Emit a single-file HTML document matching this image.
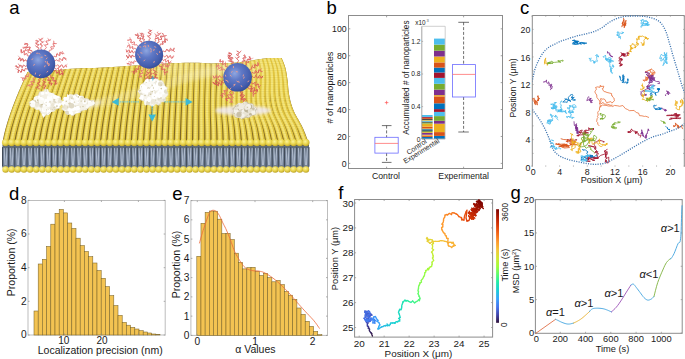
<!DOCTYPE html>
<html><head><meta charset="utf-8"><style>
html,body{margin:0;padding:0;background:#fff;}
svg{display:block;font-family:"Liberation Sans", sans-serif;}
</style></head><body>
<svg width="685" height="359" viewBox="0 0 685 359">
<rect width="685" height="359" fill="#fff"/>
<defs>
<radialGradient id="sph" cx="0.4" cy="0.36" r="0.68"><stop offset="0" stop-color="#8ea6e0"/><stop offset="0.35" stop-color="#6079c6"/><stop offset="0.8" stop-color="#445eae"/><stop offset="1" stop-color="#324b94"/></radialGradient>
<linearGradient id="face" x1="0" y1="0" x2="0" y2="1"><stop offset="0" stop-color="#4f4d40"/><stop offset="0.08" stop-color="#5e6a78"/><stop offset="0.5" stop-color="#76849a"/><stop offset="1" stop-color="#6a788c"/></linearGradient>
<radialGradient id="head" cx="0.4" cy="0.35" r="0.7"><stop offset="0" stop-color="#fbf29a"/><stop offset="0.55" stop-color="#e9d44a"/><stop offset="1" stop-color="#b89f25"/></radialGradient>
<filter id="blur1" x="-20%" y="-20%" width="140%" height="140%"><feGaussianBlur stdDeviation="1.5"/></filter>
<filter id="blur05"><feGaussianBlur stdDeviation="0.4"/></filter>
<filter id="blur3" x="-30%" y="-50%" width="160%" height="200%"><feGaussianBlur stdDeviation="4"/></filter>
<pattern id="beads" width="6" height="1.75" patternUnits="userSpaceOnUse"><rect width="6" height="0.6" fill="#8a7420" opacity="0.18"/></pattern>
</defs>
<text x="9.2" y="13.6" font-size="18.5" text-anchor="start" fill="#000">a</text>
<path d="M2.5,143.6 L7.61,143.6 L12.72,143.6 L17.83,143.6 L22.93,143.6 L28.04,143.6 L33.15,143.6 L38.26,143.6 L43.37,143.6 L48.48,143.6 L53.58,143.6 L58.69,143.6 L63.8,143.6 L68.91,143.6 L74.02,143.6 L79.12,143.6 L84.23,143.6 L89.34,143.6 L94.45,143.6 L99.56,143.6 L104.67,143.6 L109.77,143.6 L114.88,143.6 L119.99,143.6 L125.1,143.6 L130.21,143.6 L135.32,143.6 L140.43,143.6 L145.53,143.6 L150.64,143.6 L155.75,143.6 L160.86,143.6 L165.97,143.6 L171.08,143.6 L176.18,143.6 L181.29,143.6 L186.4,143.6 L191.51,143.6 L196.62,143.6 L201.72,143.6 L206.83,143.6 L211.94,143.6 L217.05,143.6 L222.16,143.6 L227.27,143.6 L232.38,143.6 L237.48,143.6 L242.59,143.6 L247.7,143.6 L252.81,143.6 L257.92,143.6 L263.02,143.6 L268.13,143.6 L273.24,143.6 L278.35,143.6 L283.46,143.6 L288.57,143.6 L293.68,143.6 L298.78,143.6 L303.89,143.6 L309,143.6 L309,143.6 L308.46,142.17 L307.93,140.75 L307.4,139.32 L306.87,137.89 L306.34,136.47 L305.79,135.04 L305.24,133.61 L304.66,132.19 L304.08,130.76 L303.46,129.33 L302.84,127.91 L302.14,126.48 L301.42,125.05 L300.64,123.63 L299.85,122.2 L299.03,120.77 L298.2,119.35 L297.37,117.92 L296.56,116.49 L295.76,115.07 L295.03,113.64 L294.33,112.21 L293.69,110.79 L293.1,109.36 L292.56,107.93 L292.06,106.51 L291.6,105.08 L291.17,103.65 L290.76,102.23 L290.38,100.8 L290.03,99.37 L289.72,97.95 L289.43,96.52 L289.18,95.09 L288.95,93.67 L288.74,92.24 L288.55,90.81 L288.39,89.39 L288.26,87.96 L288.14,86.53 L288.03,85.11 L287.9,83.68 L287.77,82.25 L287.6,80.83 L287.42,79.4 L287.22,77.97 L287.01,76.55 L286.79,75.12 L286.56,73.69 L286.31,72.27 L286.04,70.84 L285.74,69.41 L285.39,67.99 L284.98,66.56 L284.51,65.13 L283.99,63.71 L283.41,62.28 L282.81,60.85 L282.2,59.43 L281.6,58 L281.6,58 L278.6,57.94 L275.55,57.9 L272.44,57.91 L269.27,58.05 L266.03,58.33 L262.73,58.73 L259.36,59.17 L255.93,59.67 L252.42,60.24 L248.83,60.88 L245.16,61.5 L241.41,62.03 L237.56,62.43 L233.62,62.73 L229.57,62.96 L225.4,63.14 L221.1,63.27 L216.62,63.36 L211.91,63.39 L207.32,63.29 L202.83,63.09 L198.33,62.87 L193.84,62.73 L189.34,62.71 L184.85,62.78 L180.35,62.91 L175.85,63.07 L171.36,63.25 L166.86,63.46 L162.37,63.68 L157.87,63.92 L153.38,64.19 L148.88,64.49 L144.39,64.81 L139.89,65.14 L135.39,65.47 L130.9,65.78 L126.4,66.08 L121.91,66.4 L117.41,66.71 L112.92,67.02 L108.42,67.31 L103.92,67.59 L99.43,67.82 L94.93,67.96 L90.44,68 L85.94,68.02 L81.45,68.14 L76.95,68.4 L72.46,68.73 L67.96,69.11 L63.46,69.5 L58.97,69.89 L54.47,70.23 L49.98,70.47 L45.48,70.63 L40.99,70.87 L36.49,71.22 L32,71.61 L27.5,72 L27.5,72 L26.94,73.19 L26.38,74.39 L25.83,75.58 L25.28,76.77 L24.73,77.97 L24.19,79.16 L23.65,80.35 L23.11,81.55 L22.58,82.74 L22.05,83.93 L21.52,85.13 L21,86.32 L20.48,87.51 L19.96,88.71 L19.45,89.9 L18.95,91.09 L18.44,92.29 L17.95,93.48 L17.45,94.67 L16.96,95.87 L16.48,97.06 L15.99,98.25 L15.52,99.45 L15.04,100.64 L14.58,101.83 L14.11,103.03 L13.65,104.22 L13.2,105.41 L12.75,106.61 L12.31,107.8 L11.87,108.99 L11.44,110.19 L11.01,111.38 L10.58,112.57 L10.17,113.77 L9.76,114.96 L9.35,116.15 L8.95,117.35 L8.56,118.54 L8.17,119.73 L7.79,120.93 L7.42,122.12 L7.06,123.31 L6.7,124.51 L6.35,125.7 L6.01,126.89 L5.67,128.09 L5.35,129.28 L5.03,130.47 L4.73,131.67 L4.43,132.86 L4.15,134.05 L3.88,135.25 L3.62,136.44 L3.37,137.63 L3.15,138.83 L2.94,140.02 L2.75,141.21 L2.6,142.41 L2.5,143.6Z" fill="#7f6826"/>
<clipPath id="surfclip"><path d="M2.5,143.6 L7.61,143.6 L12.72,143.6 L17.83,143.6 L22.93,143.6 L28.04,143.6 L33.15,143.6 L38.26,143.6 L43.37,143.6 L48.48,143.6 L53.58,143.6 L58.69,143.6 L63.8,143.6 L68.91,143.6 L74.02,143.6 L79.12,143.6 L84.23,143.6 L89.34,143.6 L94.45,143.6 L99.56,143.6 L104.67,143.6 L109.77,143.6 L114.88,143.6 L119.99,143.6 L125.1,143.6 L130.21,143.6 L135.32,143.6 L140.43,143.6 L145.53,143.6 L150.64,143.6 L155.75,143.6 L160.86,143.6 L165.97,143.6 L171.08,143.6 L176.18,143.6 L181.29,143.6 L186.4,143.6 L191.51,143.6 L196.62,143.6 L201.72,143.6 L206.83,143.6 L211.94,143.6 L217.05,143.6 L222.16,143.6 L227.27,143.6 L232.38,143.6 L237.48,143.6 L242.59,143.6 L247.7,143.6 L252.81,143.6 L257.92,143.6 L263.02,143.6 L268.13,143.6 L273.24,143.6 L278.35,143.6 L283.46,143.6 L288.57,143.6 L293.68,143.6 L298.78,143.6 L303.89,143.6 L309,143.6 L309,143.6 L308.46,142.17 L307.93,140.75 L307.4,139.32 L306.87,137.89 L306.34,136.47 L305.79,135.04 L305.24,133.61 L304.66,132.19 L304.08,130.76 L303.46,129.33 L302.84,127.91 L302.14,126.48 L301.42,125.05 L300.64,123.63 L299.85,122.2 L299.03,120.77 L298.2,119.35 L297.37,117.92 L296.56,116.49 L295.76,115.07 L295.03,113.64 L294.33,112.21 L293.69,110.79 L293.1,109.36 L292.56,107.93 L292.06,106.51 L291.6,105.08 L291.17,103.65 L290.76,102.23 L290.38,100.8 L290.03,99.37 L289.72,97.95 L289.43,96.52 L289.18,95.09 L288.95,93.67 L288.74,92.24 L288.55,90.81 L288.39,89.39 L288.26,87.96 L288.14,86.53 L288.03,85.11 L287.9,83.68 L287.77,82.25 L287.6,80.83 L287.42,79.4 L287.22,77.97 L287.01,76.55 L286.79,75.12 L286.56,73.69 L286.31,72.27 L286.04,70.84 L285.74,69.41 L285.39,67.99 L284.98,66.56 L284.51,65.13 L283.99,63.71 L283.41,62.28 L282.81,60.85 L282.2,59.43 L281.6,58 L281.6,58 L278.6,57.94 L275.55,57.9 L272.44,57.91 L269.27,58.05 L266.03,58.33 L262.73,58.73 L259.36,59.17 L255.93,59.67 L252.42,60.24 L248.83,60.88 L245.16,61.5 L241.41,62.03 L237.56,62.43 L233.62,62.73 L229.57,62.96 L225.4,63.14 L221.1,63.27 L216.62,63.36 L211.91,63.39 L207.32,63.29 L202.83,63.09 L198.33,62.87 L193.84,62.73 L189.34,62.71 L184.85,62.78 L180.35,62.91 L175.85,63.07 L171.36,63.25 L166.86,63.46 L162.37,63.68 L157.87,63.92 L153.38,64.19 L148.88,64.49 L144.39,64.81 L139.89,65.14 L135.39,65.47 L130.9,65.78 L126.4,66.08 L121.91,66.4 L117.41,66.71 L112.92,67.02 L108.42,67.31 L103.92,67.59 L99.43,67.82 L94.93,67.96 L90.44,68 L85.94,68.02 L81.45,68.14 L76.95,68.4 L72.46,68.73 L67.96,69.11 L63.46,69.5 L58.97,69.89 L54.47,70.23 L49.98,70.47 L45.48,70.63 L40.99,70.87 L36.49,71.22 L32,71.61 L27.5,72 L27.5,72 L26.94,73.19 L26.38,74.39 L25.83,75.58 L25.28,76.77 L24.73,77.97 L24.19,79.16 L23.65,80.35 L23.11,81.55 L22.58,82.74 L22.05,83.93 L21.52,85.13 L21,86.32 L20.48,87.51 L19.96,88.71 L19.45,89.9 L18.95,91.09 L18.44,92.29 L17.95,93.48 L17.45,94.67 L16.96,95.87 L16.48,97.06 L15.99,98.25 L15.52,99.45 L15.04,100.64 L14.58,101.83 L14.11,103.03 L13.65,104.22 L13.2,105.41 L12.75,106.61 L12.31,107.8 L11.87,108.99 L11.44,110.19 L11.01,111.38 L10.58,112.57 L10.17,113.77 L9.76,114.96 L9.35,116.15 L8.95,117.35 L8.56,118.54 L8.17,119.73 L7.79,120.93 L7.42,122.12 L7.06,123.31 L6.7,124.51 L6.35,125.7 L6.01,126.89 L5.67,128.09 L5.35,129.28 L5.03,130.47 L4.73,131.67 L4.43,132.86 L4.15,134.05 L3.88,135.25 L3.62,136.44 L3.37,137.63 L3.15,138.83 L2.94,140.02 L2.75,141.21 L2.6,142.41 L2.5,143.6Z"/></clipPath>
<g clip-path="url(#surfclip)" filter="url(#blur05)">
<path d="M4.33,147.19 L5.58,143.24 L6.12,139.29 L6.89,135.34 L7.82,131.39 L8.85,127.44 L9.98,123.49 L11.19,119.54 L12.47,115.58 L13.82,111.63 L15.23,107.68 L16.69,103.73 L18.2,99.78 L19.77,95.83 L21.37,91.88 L23.03,87.93 L24.72,83.98 L26.45,80.03 L28.22,76.08 L30.03,72.12 L31.87,68.17" fill="none" stroke="#e6ca42" stroke-width="4.9"/>
<path d="M4.03,147.19 L5.28,143.24 L5.82,139.29 L6.59,135.34 L7.52,131.39 L8.55,127.44 L9.68,123.49 L10.89,119.54 L12.17,115.58 L13.52,111.63 L14.93,107.68 L16.39,103.73 L17.9,99.78 L19.47,95.83 L21.07,91.88 L22.73,87.93 L24.42,83.98 L26.15,80.03 L27.92,76.08 L29.73,72.12 L31.57,68.17" fill="none" stroke="#f7e87c" stroke-width="2.4"/>
<path d="M10.5,147.22 L11.71,143.24 L12.23,139.26 L12.98,135.29 L13.88,131.31 L14.89,127.33 L15.98,123.36 L17.15,119.38 L18.4,115.4 L19.7,111.43 L21.07,107.45 L22.49,103.47 L23.96,99.5 L25.47,95.52 L27.03,91.54 L28.63,87.57 L30.28,83.59 L31.96,79.61 L33.68,75.64 L35.43,71.66 L37.22,67.68" fill="none" stroke="#e6ca42" stroke-width="4.9"/>
<path d="M10.2,147.22 L11.41,143.24 L11.93,139.26 L12.68,135.29 L13.58,131.31 L14.59,127.33 L15.68,123.36 L16.85,119.38 L18.1,115.4 L19.4,111.43 L20.77,107.45 L22.19,103.47 L23.66,99.5 L25.17,95.52 L26.73,91.54 L28.33,87.57 L29.98,83.59 L31.66,79.61 L33.38,75.64 L35.13,71.66 L36.92,67.68" fill="none" stroke="#f7e87c" stroke-width="2.4"/>
<path d="M16.67,147.24 L17.84,143.24 L18.34,139.24 L19.07,135.24 L19.94,131.24 L20.92,127.24 L21.98,123.24 L23.12,119.24 L24.32,115.24 L25.59,111.24 L26.91,107.24 L28.29,103.24 L29.71,99.24 L31.18,95.24 L32.69,91.24 L34.24,87.24 L35.84,83.24 L37.47,79.24 L39.13,75.24 L40.83,71.24 L42.56,67.24" fill="none" stroke="#e6ca42" stroke-width="4.9"/>
<path d="M16.37,147.24 L17.54,143.24 L18.04,139.24 L18.77,135.24 L19.64,131.24 L20.62,127.24 L21.68,123.24 L22.82,119.24 L24.02,115.24 L25.29,111.24 L26.61,107.24 L27.99,103.24 L29.41,99.24 L30.88,95.24 L32.39,91.24 L33.94,87.24 L35.54,83.24 L37.17,79.24 L38.83,75.24 L40.53,71.24 L42.26,67.24" fill="none" stroke="#f7e87c" stroke-width="2.4"/>
<path d="M22.83,147.25 L23.97,143.23 L24.46,139.22 L25.16,135.2 L26.01,131.19 L26.95,127.17 L27.98,123.16 L29.08,119.14 L30.25,115.13 L31.47,111.11 L32.75,107.1 L34.08,103.08 L35.46,99.07 L36.88,95.05 L38.35,91.04 L39.85,87.02 L41.39,83.01 L42.97,78.99 L44.58,74.98 L46.23,70.96 L47.91,66.95" fill="none" stroke="#e6ca42" stroke-width="4.9"/>
<path d="M22.53,147.25 L23.67,143.23 L24.16,139.22 L24.86,135.2 L25.71,131.19 L26.65,127.17 L27.68,123.16 L28.78,119.14 L29.95,115.13 L31.17,111.11 L32.45,107.1 L33.78,103.08 L35.16,99.07 L36.58,95.05 L38.05,91.04 L39.55,87.02 L41.09,83.01 L42.67,78.99 L44.28,74.98 L45.93,70.96 L47.61,66.95" fill="none" stroke="#f7e87c" stroke-width="2.4"/>
<path d="M29,147.26 L30.1,143.23 L30.57,139.21 L31.26,135.18 L32.07,131.15 L32.98,127.13 L33.97,123.1 L35.04,119.08 L36.17,115.05 L37.36,111.02 L38.59,107 L39.88,102.97 L41.21,98.94 L42.59,94.92 L44.01,90.89 L45.46,86.86 L46.95,82.84 L48.48,78.81 L50.04,74.78 L51.63,70.76 L53.25,66.73" fill="none" stroke="#e6ca42" stroke-width="4.9"/>
<path d="M28.7,147.26 L29.8,143.23 L30.27,139.21 L30.96,135.18 L31.77,131.15 L32.68,127.13 L33.67,123.1 L34.74,119.08 L35.87,115.05 L37.06,111.02 L38.29,107 L39.58,102.97 L40.91,98.94 L42.29,94.92 L43.71,90.89 L45.16,86.86 L46.65,82.84 L48.18,78.81 L49.74,74.78 L51.33,70.76 L52.95,66.73" fill="none" stroke="#f7e87c" stroke-width="2.4"/>
<path d="M35.17,147.28 L36.23,143.23 L36.68,139.19 L37.35,135.14 L38.13,131.09 L39.01,127.05 L39.97,123 L41,118.96 L42.09,114.91 L43.24,110.86 L44.44,106.82 L45.68,102.77 L46.97,98.72 L48.3,94.68 L49.66,90.63 L51.07,86.59 L52.51,82.54 L53.98,78.49 L55.49,74.45 L57.03,70.4 L58.6,66.36" fill="none" stroke="#e6ca42" stroke-width="4.9"/>
<path d="M34.87,147.28 L35.93,143.23 L36.38,139.19 L37.05,135.14 L37.83,131.09 L38.71,127.05 L39.67,123 L40.7,118.96 L41.79,114.91 L42.94,110.86 L44.14,106.82 L45.38,102.77 L46.67,98.72 L48,94.68 L49.36,90.63 L50.77,86.59 L52.21,82.54 L53.68,78.49 L55.19,74.45 L56.73,70.4 L58.3,66.36" fill="none" stroke="#f7e87c" stroke-width="2.4"/>
<path d="M41.33,147.3 L42.36,143.23 L42.8,139.16 L43.44,135.09 L44.19,131.02 L45.04,126.95 L45.97,122.88 L46.96,118.8 L48.02,114.73 L49.12,110.66 L50.28,106.59 L51.48,102.52 L52.72,98.45 L54,94.38 L55.32,90.31 L56.68,86.24 L58.07,82.17 L59.49,78.1 L60.95,74.02 L62.43,69.95 L63.94,65.88" fill="none" stroke="#e6ca42" stroke-width="4.9"/>
<path d="M41.03,147.3 L42.06,143.23 L42.5,139.16 L43.14,135.09 L43.89,131.02 L44.74,126.95 L45.67,122.88 L46.66,118.8 L47.72,114.73 L48.82,110.66 L49.98,106.59 L51.18,102.52 L52.42,98.45 L53.7,94.38 L55.02,90.31 L56.38,86.24 L57.77,82.17 L59.19,78.1 L60.65,74.02 L62.13,69.95 L63.64,65.88" fill="none" stroke="#f7e87c" stroke-width="2.4"/>
<path d="M47.5,147.32 L48.49,143.23 L48.91,139.13 L49.53,135.03 L50.26,130.94 L51.08,126.84 L51.97,122.74 L52.93,118.65 L53.94,114.55 L55.01,110.45 L56.12,106.36 L57.28,102.26 L58.47,98.16 L59.71,94.06 L60.98,89.97 L62.29,85.87 L63.63,81.77 L65,77.68 L66.4,73.58 L67.83,69.48 L69.29,65.39" fill="none" stroke="#e6ca42" stroke-width="4.9"/>
<path d="M47.2,147.32 L48.19,143.23 L48.61,139.13 L49.23,135.03 L49.96,130.94 L50.78,126.84 L51.67,122.74 L52.63,118.65 L53.64,114.55 L54.71,110.45 L55.82,106.36 L56.98,102.26 L58.17,98.16 L59.41,94.06 L60.68,89.97 L61.99,85.87 L63.33,81.77 L64.7,77.68 L66.1,73.58 L67.53,69.48 L68.99,65.39" fill="none" stroke="#f7e87c" stroke-width="2.4"/>
<path d="M53.67,147.35 L54.62,143.23 L55.03,139.1 L55.62,134.98 L56.32,130.86 L57.11,126.74 L57.97,122.62 L58.89,118.5 L59.86,114.37 L60.89,110.25 L61.96,106.13 L63.07,102.01 L64.23,97.89 L65.41,93.77 L66.64,89.64 L67.9,85.52 L69.18,81.4 L70.5,77.28 L71.85,73.16 L73.23,69.04 L74.63,64.92" fill="none" stroke="#e6ca42" stroke-width="4.9"/>
<path d="M53.37,147.35 L54.32,143.23 L54.73,139.1 L55.32,134.98 L56.02,130.86 L56.81,126.74 L57.67,122.62 L58.59,118.5 L59.56,114.37 L60.59,110.25 L61.66,106.13 L62.77,102.01 L63.93,97.89 L65.11,93.77 L66.34,89.64 L67.6,85.52 L68.88,81.4 L70.2,77.28 L71.55,73.16 L72.93,69.04 L74.33,64.92" fill="none" stroke="#f7e87c" stroke-width="2.4"/>
<path d="M59.83,147.37 L60.75,143.22 L61.14,139.08 L61.71,134.94 L62.38,130.8 L63.14,126.65 L63.97,122.51 L64.85,118.37 L65.79,114.23 L66.77,110.08 L67.8,105.94 L68.87,101.8 L69.98,97.65 L71.12,93.51 L72.3,89.37 L73.5,85.23 L74.74,81.08 L76.01,76.94 L77.31,72.8 L78.63,68.66 L79.98,64.51" fill="none" stroke="#e6ca42" stroke-width="4.9"/>
<path d="M59.53,147.37 L60.45,143.22 L60.84,139.08 L61.41,134.94 L62.08,130.8 L62.84,126.65 L63.67,122.51 L64.55,118.37 L65.49,114.23 L66.47,110.08 L67.5,105.94 L68.57,101.8 L69.68,97.65 L70.82,93.51 L72,89.37 L73.2,85.23 L74.44,81.08 L75.71,76.94 L77.01,72.8 L78.33,68.66 L79.68,64.51" fill="none" stroke="#f7e87c" stroke-width="2.4"/>
<path d="M66,147.38 L66.88,143.22 L67.25,139.07 L67.8,134.91 L68.44,130.76 L69.17,126.6 L69.96,122.45 L70.81,118.29 L71.71,114.14 L72.66,109.98 L73.64,105.82 L74.67,101.67 L75.73,97.51 L76.83,93.36 L77.95,89.2 L79.11,85.05 L80.3,80.89 L81.52,76.74 L82.76,72.58 L84.03,68.43 L85.32,64.27" fill="none" stroke="#e6ca42" stroke-width="4.9"/>
<path d="M65.7,147.38 L66.58,143.22 L66.95,139.07 L67.5,134.91 L68.14,130.76 L68.87,126.6 L69.66,122.45 L70.51,118.29 L71.41,114.14 L72.36,109.98 L73.34,105.82 L74.37,101.67 L75.43,97.51 L76.53,93.36 L77.65,89.2 L78.81,85.05 L80,80.89 L81.22,76.74 L82.46,72.58 L83.73,68.43 L85.02,64.27" fill="none" stroke="#f7e87c" stroke-width="2.4"/>
<path d="M72.17,147.38 L73.01,143.22 L73.37,139.06 L73.89,134.91 L74.51,130.75 L75.2,126.59 L75.96,122.43 L76.77,118.28 L77.64,114.12 L78.54,109.96 L79.49,105.8 L80.47,101.65 L81.48,97.49 L82.53,93.33 L83.61,89.17 L84.72,85.01 L85.86,80.86 L87.02,76.7 L88.21,72.54 L89.43,68.38 L90.67,64.23" fill="none" stroke="#e6ca42" stroke-width="4.9"/>
<path d="M71.87,147.38 L72.71,143.22 L73.07,139.06 L73.59,134.91 L74.21,130.75 L74.9,126.59 L75.66,122.43 L76.47,118.28 L77.34,114.12 L78.24,109.96 L79.19,105.8 L80.17,101.65 L81.18,97.49 L82.23,93.33 L83.31,89.17 L84.42,85.01 L85.56,80.86 L86.72,76.7 L87.91,72.54 L89.13,68.38 L90.37,64.23" fill="none" stroke="#f7e87c" stroke-width="2.4"/>
<path d="M78.33,147.38 L79.14,143.22 L79.48,139.06 L79.98,134.9 L80.57,130.74 L81.24,126.58 L81.96,122.42 L82.74,118.26 L83.56,114.1 L84.42,109.94 L85.33,105.78 L86.26,101.62 L87.24,97.46 L88.24,93.3 L89.27,89.14 L90.33,84.98 L91.42,80.82 L92.53,76.66 L93.67,72.5 L94.83,68.34 L96.01,64.18" fill="none" stroke="#e6ca42" stroke-width="4.9"/>
<path d="M78.03,147.38 L78.84,143.22 L79.18,139.06 L79.68,134.9 L80.27,130.74 L80.94,126.58 L81.66,122.42 L82.44,118.26 L83.26,114.1 L84.12,109.94 L85.03,105.78 L85.96,101.62 L86.94,97.46 L87.94,93.3 L88.97,89.14 L90.03,84.98 L91.12,80.82 L92.23,76.66 L93.37,72.5 L94.53,68.34 L95.71,64.18" fill="none" stroke="#f7e87c" stroke-width="2.4"/>
<path d="M84.5,147.39 L85.27,143.22 L85.59,139.05 L86.07,134.88 L86.63,130.71 L87.27,126.54 L87.96,122.37 L88.7,118.2 L89.48,114.03 L90.31,109.86 L91.17,105.69 L92.06,101.52 L92.99,97.35 L93.95,93.18 L94.93,89.01 L95.94,84.84 L96.98,80.67 L98.04,76.5 L99.12,72.33 L100.23,68.16 L101.35,63.99" fill="none" stroke="#e6ca42" stroke-width="4.9"/>
<path d="M84.2,147.39 L84.97,143.22 L85.29,139.05 L85.77,134.88 L86.33,130.71 L86.97,126.54 L87.66,122.37 L88.4,118.2 L89.18,114.03 L90.01,109.86 L90.87,105.69 L91.76,101.52 L92.69,97.35 L93.65,93.18 L94.63,89.01 L95.64,84.84 L96.68,80.67 L97.74,76.5 L98.82,72.33 L99.93,68.16 L101.05,63.99" fill="none" stroke="#f7e87c" stroke-width="2.4"/>
<path d="M90.67,147.41 L91.4,143.22 L91.71,139.03 L92.16,134.85 L92.7,130.66 L93.3,126.47 L93.96,122.29 L94.66,118.1 L95.41,113.91 L96.19,109.73 L97.01,105.54 L97.86,101.35 L98.74,97.17 L99.65,92.98 L100.59,88.79 L101.55,84.61 L102.53,80.42 L103.54,76.23 L104.57,72.05 L105.63,67.86 L106.7,63.68" fill="none" stroke="#e6ca42" stroke-width="4.9"/>
<path d="M90.37,147.41 L91.1,143.22 L91.41,139.03 L91.86,134.85 L92.4,130.66 L93,126.47 L93.66,122.29 L94.36,118.1 L95.11,113.91 L95.89,109.73 L96.71,105.54 L97.56,101.35 L98.44,97.17 L99.35,92.98 L100.29,88.79 L101.25,84.61 L102.23,80.42 L103.24,76.23 L104.27,72.05 L105.33,67.86 L106.4,63.68" fill="none" stroke="#f7e87c" stroke-width="2.4"/>
<path d="M96.83,147.42 L97.53,143.22 L97.82,139.01 L98.25,134.81 L98.76,130.6 L99.33,126.4 L99.95,122.19 L100.62,117.99 L101.33,113.78 L102.07,109.57 L102.85,105.37 L103.66,101.16 L104.49,96.96 L105.36,92.75 L106.25,88.55 L107.16,84.34 L108.09,80.14 L109.05,75.93 L110.03,71.73 L111.03,67.52 L112.04,63.32" fill="none" stroke="#e6ca42" stroke-width="4.9"/>
<path d="M96.53,147.42 L97.23,143.22 L97.52,139.01 L97.95,134.81 L98.46,130.6 L99.03,126.4 L99.65,122.19 L100.32,117.99 L101.03,113.78 L101.77,109.57 L102.55,105.37 L103.36,101.16 L104.19,96.96 L105.06,92.75 L105.95,88.55 L106.86,84.34 L107.79,80.14 L108.75,75.93 L109.73,71.73 L110.73,67.52 L111.74,63.32" fill="none" stroke="#f7e87c" stroke-width="2.4"/>
<path d="M103,147.44 L103.66,143.22 L103.93,138.99 L104.34,134.76 L104.82,130.54 L105.36,126.31 L105.95,122.09 L106.58,117.86 L107.25,113.64 L107.96,109.41 L108.69,105.19 L109.46,100.96 L110.25,96.74 L111.06,92.51 L111.9,88.28 L112.77,84.06 L113.65,79.83 L114.56,75.61 L115.48,71.38 L116.43,67.16 L117.39,62.93" fill="none" stroke="#e6ca42" stroke-width="4.9"/>
<path d="M102.7,147.44 L103.36,143.22 L103.63,138.99 L104.04,134.76 L104.52,130.54 L105.06,126.31 L105.65,122.09 L106.28,117.86 L106.95,113.64 L107.66,109.41 L108.39,105.19 L109.16,100.96 L109.95,96.74 L110.76,92.51 L111.6,88.28 L112.47,84.06 L113.35,79.83 L114.26,75.61 L115.18,71.38 L116.13,67.16 L117.09,62.93" fill="none" stroke="#f7e87c" stroke-width="2.4"/>
<path d="M109.17,147.46 L109.78,143.21 L110.05,138.97 L110.43,134.72 L110.88,130.48 L111.39,126.23 L111.95,121.98 L112.55,117.74 L113.18,113.49 L113.84,109.24 L114.53,105 L115.25,100.75 L116,96.51 L116.77,92.26 L117.56,88.01 L118.38,83.77 L119.21,79.52 L120.06,75.28 L120.94,71.03 L121.83,66.78 L122.73,62.54" fill="none" stroke="#e6ca42" stroke-width="4.9"/>
<path d="M108.87,147.46 L109.48,143.21 L109.75,138.97 L110.13,134.72 L110.58,130.48 L111.09,126.23 L111.65,121.98 L112.25,117.74 L112.88,113.49 L113.54,109.24 L114.23,105 L114.95,100.75 L115.7,96.51 L116.47,92.26 L117.26,88.01 L118.08,83.77 L118.91,79.52 L119.76,75.28 L120.64,71.03 L121.53,66.78 L122.43,62.54" fill="none" stroke="#f7e87c" stroke-width="2.4"/>
<path d="M115.34,147.48 L115.91,143.21 L116.16,138.95 L116.52,134.68 L116.95,130.41 L117.43,126.14 L117.95,121.88 L118.51,117.61 L119.1,113.34 L119.73,109.08 L120.38,104.81 L121.05,100.54 L121.75,96.28 L122.48,92.01 L123.22,87.74 L123.98,83.48 L124.77,79.21 L125.57,74.94 L126.39,70.68 L127.23,66.41 L128.08,62.14" fill="none" stroke="#e6ca42" stroke-width="4.9"/>
<path d="M115.04,147.48 L115.61,143.21 L115.86,138.95 L116.22,134.68 L116.65,130.41 L117.13,126.14 L117.65,121.88 L118.21,117.61 L118.8,113.34 L119.43,109.08 L120.08,104.81 L120.75,100.54 L121.45,96.28 L122.18,92.01 L122.92,87.74 L123.68,83.48 L124.47,79.21 L125.27,74.94 L126.09,70.68 L126.93,66.41 L127.78,62.14" fill="none" stroke="#f7e87c" stroke-width="2.4"/>
<path d="M121.5,147.5 L122.04,143.21 L122.27,138.92 L122.61,134.64 L123.01,130.35 L123.46,126.06 L123.95,121.77 L124.47,117.49 L125.03,113.2 L125.61,108.91 L126.22,104.63 L126.85,100.34 L127.51,96.05 L128.18,91.76 L128.88,87.48 L129.59,83.19 L130.33,78.9 L131.08,74.62 L131.84,70.33 L132.62,66.04 L133.42,61.75" fill="none" stroke="#e6ca42" stroke-width="4.9"/>
<path d="M121.2,147.5 L121.74,143.21 L121.97,138.92 L122.31,134.64 L122.71,130.35 L123.16,126.06 L123.65,121.77 L124.17,117.49 L124.73,113.2 L125.31,108.91 L125.92,104.63 L126.55,100.34 L127.21,96.05 L127.88,91.76 L128.58,87.48 L129.29,83.19 L130.03,78.9 L130.78,74.62 L131.54,70.33 L132.32,66.04 L133.12,61.75" fill="none" stroke="#f7e87c" stroke-width="2.4"/>
<path d="M127.67,147.52 L128.17,143.21 L128.39,138.9 L128.7,134.59 L129.07,130.28 L129.49,125.98 L129.95,121.67 L130.43,117.36 L130.95,113.05 L131.49,108.74 L132.06,104.44 L132.65,100.13 L133.26,95.82 L133.89,91.51 L134.54,87.21 L135.2,82.9 L135.88,78.59 L136.58,74.28 L137.3,69.97 L138.02,65.67 L138.77,61.36" fill="none" stroke="#e6ca42" stroke-width="4.9"/>
<path d="M127.37,147.52 L127.87,143.21 L128.09,138.9 L128.4,134.59 L128.77,130.28 L129.19,125.98 L129.65,121.67 L130.13,117.36 L130.65,113.05 L131.19,108.74 L131.76,104.44 L132.35,100.13 L132.96,95.82 L133.59,91.51 L134.24,87.21 L134.9,82.9 L135.58,78.59 L136.28,74.28 L137,69.97 L137.72,65.67 L138.47,61.36" fill="none" stroke="#f7e87c" stroke-width="2.4"/>
<path d="M133.84,147.54 L134.3,143.21 L134.5,138.88 L134.79,134.55 L135.14,130.22 L135.52,125.89 L135.94,121.56 L136.39,117.23 L136.87,112.9 L137.38,108.57 L137.9,104.24 L138.45,99.91 L139.01,95.58 L139.59,91.25 L140.19,86.92 L140.81,82.59 L141.44,78.26 L142.09,73.93 L142.75,69.6 L143.42,65.27 L144.11,60.94" fill="none" stroke="#e6ca42" stroke-width="4.9"/>
<path d="M133.54,147.54 L134,143.21 L134.2,138.88 L134.49,134.55 L134.84,130.22 L135.22,125.89 L135.64,121.56 L136.09,117.23 L136.57,112.9 L137.08,108.57 L137.6,104.24 L138.15,99.91 L138.71,95.58 L139.29,91.25 L139.89,86.92 L140.51,82.59 L141.14,78.26 L141.79,73.93 L142.45,69.6 L143.12,65.27 L143.81,60.94" fill="none" stroke="#f7e87c" stroke-width="2.4"/>
<path d="M140,147.56 L140.43,143.2 L140.61,138.85 L140.88,134.5 L141.2,130.15 L141.55,125.8 L141.94,121.45 L142.36,117.1 L142.8,112.75 L143.26,108.4 L143.74,104.05 L144.24,99.7 L144.76,95.34 L145.3,90.99 L145.85,86.64 L146.42,82.29 L147,77.94 L147.6,73.59 L148.2,69.24 L148.82,64.89 L149.46,60.54" fill="none" stroke="#e6ca42" stroke-width="4.9"/>
<path d="M139.7,147.56 L140.13,143.2 L140.31,138.85 L140.58,134.5 L140.9,130.15 L141.25,125.8 L141.64,121.45 L142.06,117.1 L142.5,112.75 L142.96,108.4 L143.44,104.05 L143.94,99.7 L144.46,95.34 L145,90.99 L145.55,86.64 L146.12,82.29 L146.7,77.94 L147.3,73.59 L147.9,69.24 L148.52,64.89 L149.16,60.54" fill="none" stroke="#f7e87c" stroke-width="2.4"/>
<path d="M146.17,147.57 L146.56,143.2 L146.73,138.83 L146.97,134.46 L147.26,130.09 L147.59,125.72 L147.94,121.35 L148.32,116.98 L148.72,112.61 L149.14,108.24 L149.58,103.87 L150.04,99.5 L150.52,95.12 L151.01,90.75 L151.51,86.38 L152.03,82.01 L152.56,77.64 L153.1,73.27 L153.66,68.9 L154.22,64.53 L154.8,60.16" fill="none" stroke="#e6ca42" stroke-width="4.9"/>
<path d="M145.87,147.57 L146.26,143.2 L146.43,138.83 L146.67,134.46 L146.96,130.09 L147.29,125.72 L147.64,121.35 L148.02,116.98 L148.42,112.61 L148.84,108.24 L149.28,103.87 L149.74,99.5 L150.22,95.12 L150.71,90.75 L151.21,86.38 L151.73,82.01 L152.26,77.64 L152.8,73.27 L153.36,68.9 L153.92,64.53 L154.5,60.16" fill="none" stroke="#f7e87c" stroke-width="2.4"/>
<path d="M152.34,147.59 L152.69,143.2 L152.84,138.81 L153.06,134.43 L153.32,130.04 L153.62,125.65 L153.94,121.26 L154.28,116.87 L154.64,112.49 L155.03,108.1 L155.43,103.71 L155.84,99.32 L156.27,94.93 L156.71,90.55 L157.17,86.16 L157.64,81.77 L158.12,77.38 L158.61,72.99 L159.11,68.61 L159.62,64.22 L160.15,59.83" fill="none" stroke="#e6ca42" stroke-width="4.9"/>
<path d="M152.04,147.59 L152.39,143.2 L152.54,138.81 L152.76,134.43 L153.02,130.04 L153.32,125.65 L153.64,121.26 L153.98,116.87 L154.34,112.49 L154.73,108.1 L155.13,103.71 L155.54,99.32 L155.97,94.93 L156.41,90.55 L156.87,86.16 L157.34,81.77 L157.82,77.38 L158.31,72.99 L158.81,68.61 L159.32,64.22 L159.85,59.83" fill="none" stroke="#f7e87c" stroke-width="2.4"/>
<path d="M158.5,147.6 L158.82,143.2 L158.96,138.8 L159.15,134.39 L159.39,129.99 L159.65,125.59 L159.94,121.18 L160.24,116.78 L160.57,112.38 L160.91,107.98 L161.27,103.57 L161.64,99.17 L162.02,94.77 L162.42,90.36 L162.83,85.96 L163.25,81.56 L163.67,77.15 L164.11,72.75 L164.56,68.35 L165.02,63.95 L165.49,59.54" fill="none" stroke="#e6ca42" stroke-width="4.9"/>
<path d="M158.2,147.6 L158.52,143.2 L158.66,138.8 L158.85,134.39 L159.09,129.99 L159.35,125.59 L159.64,121.18 L159.94,116.78 L160.27,112.38 L160.61,107.98 L160.97,103.57 L161.34,99.17 L161.72,94.77 L162.12,90.36 L162.53,85.96 L162.95,81.56 L163.37,77.15 L163.81,72.75 L164.26,68.35 L164.72,63.95 L165.19,59.54" fill="none" stroke="#f7e87c" stroke-width="2.4"/>
<path d="M164.67,147.62 L164.95,143.2 L165.07,138.78 L165.24,134.36 L165.45,129.95 L165.68,125.53 L165.93,121.11 L166.2,116.7 L166.49,112.28 L166.79,107.86 L167.11,103.45 L167.44,99.03 L167.77,94.61 L168.12,90.2 L168.48,85.78 L168.85,81.36 L169.23,76.94 L169.62,72.53 L170.02,68.11 L170.42,63.69 L170.84,59.28" fill="none" stroke="#e6ca42" stroke-width="4.9"/>
<path d="M164.37,147.62 L164.65,143.2 L164.77,138.78 L164.94,134.36 L165.15,129.95 L165.38,125.53 L165.63,121.11 L165.9,116.7 L166.19,112.28 L166.49,107.86 L166.81,103.45 L167.14,99.03 L167.47,94.61 L167.82,90.2 L168.18,85.78 L168.55,81.36 L168.93,76.94 L169.32,72.53 L169.72,68.11 L170.12,63.69 L170.54,59.28" fill="none" stroke="#f7e87c" stroke-width="2.4"/>
<path d="M170.84,147.63 L171.08,143.2 L171.18,138.77 L171.33,134.34 L171.51,129.91 L171.71,125.48 L171.93,121.05 L172.17,116.62 L172.42,112.19 L172.68,107.76 L172.95,103.33 L173.23,98.9 L173.53,94.48 L173.83,90.05 L174.14,85.62 L174.46,81.19 L174.79,76.76 L175.13,72.33 L175.47,67.9 L175.82,63.47 L176.18,59.04" fill="none" stroke="#e6ca42" stroke-width="4.9"/>
<path d="M170.54,147.63 L170.78,143.2 L170.88,138.77 L171.03,134.34 L171.21,129.91 L171.41,125.48 L171.63,121.05 L171.87,116.62 L172.12,112.19 L172.38,107.76 L172.65,103.33 L172.93,98.9 L173.23,94.48 L173.53,90.05 L173.84,85.62 L174.16,81.19 L174.49,76.76 L174.83,72.33 L175.17,67.9 L175.52,63.47 L175.88,59.04" fill="none" stroke="#f7e87c" stroke-width="2.4"/>
<path d="M177,147.64 L177.21,143.2 L177.3,138.76 L177.42,134.32 L177.57,129.88 L177.74,125.44 L177.93,121 L178.13,116.56 L178.34,112.12 L178.56,107.68 L178.79,103.24 L179.03,98.8 L179.28,94.36 L179.54,89.92 L179.8,85.48 L180.07,81.04 L180.35,76.6 L180.63,72.16 L180.93,67.72 L181.22,63.29 L181.52,58.85" fill="none" stroke="#e6ca42" stroke-width="4.9"/>
<path d="M176.7,147.64 L176.91,143.2 L177,138.76 L177.12,134.32 L177.27,129.88 L177.44,125.44 L177.63,121 L177.83,116.56 L178.04,112.12 L178.26,107.68 L178.49,103.24 L178.73,98.8 L178.98,94.36 L179.24,89.92 L179.5,85.48 L179.77,81.04 L180.05,76.6 L180.33,72.16 L180.63,67.72 L180.92,63.29 L181.22,58.85" fill="none" stroke="#f7e87c" stroke-width="2.4"/>
<path d="M183.17,147.64 L183.34,143.2 L183.41,138.75 L183.51,134.3 L183.64,129.86 L183.78,125.41 L183.93,120.96 L184.09,116.52 L184.26,112.07 L184.44,107.62 L184.63,103.18 L184.83,98.73 L185.03,94.28 L185.24,89.84 L185.46,85.39 L185.68,80.94 L185.91,76.5 L186.14,72.05 L186.38,67.6 L186.62,63.16 L186.87,58.71" fill="none" stroke="#e6ca42" stroke-width="4.9"/>
<path d="M182.87,147.64 L183.04,143.2 L183.11,138.75 L183.21,134.3 L183.34,129.86 L183.48,125.41 L183.63,120.96 L183.79,116.52 L183.96,112.07 L184.14,107.62 L184.33,103.18 L184.53,98.73 L184.73,94.28 L184.94,89.84 L185.16,85.39 L185.38,80.94 L185.61,76.5 L185.84,72.05 L186.08,67.6 L186.32,63.16 L186.57,58.71" fill="none" stroke="#f7e87c" stroke-width="2.4"/>
<path d="M189.34,147.64 L189.47,143.2 L189.52,138.75 L189.6,134.3 L189.69,129.85 L189.8,125.4 L189.91,120.95 L190.03,116.5 L190.16,112.06 L190.3,107.61 L190.44,103.16 L190.6,98.71 L190.76,94.26 L190.93,89.81 L191.11,85.36 L191.29,80.91 L191.47,76.47 L191.65,72.02 L191.84,67.57 L192.02,63.12 L192.21,58.67" fill="none" stroke="#e6ca42" stroke-width="4.9"/>
<path d="M189.04,147.64 L189.17,143.2 L189.22,138.75 L189.3,134.3 L189.39,129.85 L189.5,125.4 L189.61,120.95 L189.73,116.5 L189.86,112.06 L190,107.61 L190.14,103.16 L190.3,98.71 L190.46,94.26 L190.63,89.81 L190.81,85.36 L190.99,80.91 L191.17,76.47 L191.35,72.02 L191.54,67.57 L191.72,63.12 L191.91,58.67" fill="none" stroke="#f7e87c" stroke-width="2.4"/>
<path d="M195.5,147.64 L195.6,143.2 L195.63,138.75 L195.68,134.31 L195.73,129.87 L195.78,125.43 L195.83,120.99 L195.88,116.55 L195.96,112.1 L196.05,107.66 L196.16,103.22 L196.28,98.78 L196.42,94.34 L196.57,89.89 L196.73,85.45 L196.88,81.01 L197.03,76.57 L197.17,72.13 L197.3,67.69 L197.42,63.24 L197.56,58.8" fill="none" stroke="#e6ca42" stroke-width="4.9"/>
<path d="M195.2,147.64 L195.3,143.2 L195.33,138.75 L195.38,134.31 L195.43,129.87 L195.48,125.43 L195.53,120.99 L195.58,116.55 L195.66,112.1 L195.75,107.66 L195.86,103.22 L195.98,98.78 L196.12,94.34 L196.27,89.89 L196.43,85.45 L196.58,81.01 L196.73,76.57 L196.87,72.13 L197,67.69 L197.12,63.24 L197.26,58.8" fill="none" stroke="#f7e87c" stroke-width="2.4"/>
<path d="M201.67,147.63 L201.72,143.2 L201.73,138.77 L201.75,134.34 L201.76,129.91 L201.75,125.49 L201.72,121.06 L201.7,116.63 L201.7,112.2 L201.75,107.78 L201.82,103.35 L201.92,98.92 L202.04,94.49 L202.18,90.06 L202.33,85.64 L202.46,81.21 L202.59,76.78 L202.7,72.35 L202.77,67.93 L202.82,63.5 L202.9,59.07" fill="none" stroke="#e6ca42" stroke-width="4.9"/>
<path d="M201.37,147.63 L201.42,143.2 L201.43,138.77 L201.45,134.34 L201.46,129.91 L201.45,125.49 L201.42,121.06 L201.4,116.63 L201.4,112.2 L201.45,107.78 L201.52,103.35 L201.62,98.92 L201.74,94.49 L201.88,90.06 L202.03,85.64 L202.16,81.21 L202.29,76.78 L202.4,72.35 L202.47,67.93 L202.52,63.5 L202.6,59.07" fill="none" stroke="#f7e87c" stroke-width="2.4"/>
<path d="M207.84,147.61 L207.85,143.2 L207.83,138.78 L207.81,134.37 L207.78,129.95 L207.7,125.54 L207.59,121.12 L207.47,116.71 L207.41,112.29 L207.41,107.88 L207.44,103.46 L207.52,99.05 L207.63,94.63 L207.77,90.22 L207.92,85.8 L208.04,81.39 L208.15,76.97 L208.24,72.56 L208.25,68.14 L208.22,63.73 L208.25,59.31" fill="none" stroke="#e6ca42" stroke-width="4.9"/>
<path d="M207.54,147.61 L207.55,143.2 L207.53,138.78 L207.51,134.37 L207.48,129.95 L207.4,125.54 L207.29,121.12 L207.17,116.71 L207.11,112.29 L207.11,107.88 L207.14,103.46 L207.22,99.05 L207.33,94.63 L207.47,90.22 L207.62,85.8 L207.74,81.39 L207.85,76.97 L207.94,72.56 L207.95,68.14 L207.92,63.73 L207.95,59.31" fill="none" stroke="#f7e87c" stroke-width="2.4"/>
<path d="M213.99,147.61 L213.98,143.2 L213.93,138.79 L213.88,134.38 L213.79,129.96 L213.65,125.55 L213.46,121.14 L213.25,116.73 L213.13,112.32 L213.08,107.91 L213.1,103.5 L213.17,99.08 L213.29,94.67 L213.45,90.26 L213.62,85.85 L213.76,81.44 L213.88,77.03 L213.95,72.61 L213.93,68.2 L213.84,63.79 L213.83,59.38" fill="none" stroke="#e6ca42" stroke-width="4.9"/>
<path d="M213.69,147.61 L213.68,143.2 L213.63,138.79 L213.58,134.38 L213.49,129.96 L213.35,125.55 L213.16,121.14 L212.95,116.73 L212.83,112.32 L212.78,107.91 L212.8,103.5 L212.87,99.08 L212.99,94.67 L213.15,90.26 L213.32,85.85 L213.46,81.44 L213.58,77.03 L213.65,72.61 L213.63,68.2 L213.54,63.79 L213.53,59.38" fill="none" stroke="#f7e87c" stroke-width="2.4"/>
<path d="M220.15,147.61 L220.11,143.2 L220.01,138.78 L219.9,134.37 L219.76,129.95 L219.54,125.53 L219.24,121.12 L218.93,116.7 L218.73,112.29 L218.64,107.87 L218.63,103.45 L218.69,99.04 L218.82,94.62 L219.01,90.21 L219.21,85.79 L219.36,81.37 L219.49,76.96 L219.55,72.54 L219.49,68.12 L219.34,63.71 L219.29,59.29" fill="none" stroke="#e6ca42" stroke-width="4.9"/>
<path d="M219.85,147.61 L219.81,143.2 L219.71,138.78 L219.6,134.37 L219.46,129.95 L219.24,125.53 L218.94,121.12 L218.63,116.7 L218.43,112.29 L218.34,107.87 L218.33,103.45 L218.39,99.04 L218.52,94.62 L218.71,90.21 L218.91,85.79 L219.06,81.37 L219.19,76.96 L219.25,72.54 L219.19,68.12 L219.04,63.71 L218.99,59.29" fill="none" stroke="#f7e87c" stroke-width="2.4"/>
<path d="M226.33,147.62 L226.23,143.2 L226.07,138.77 L225.89,134.35 L225.67,129.93 L225.35,125.5 L224.93,121.08 L224.5,116.65 L224.2,112.23 L224.04,107.81 L224,103.38 L224.04,98.96 L224.17,94.53 L224.37,90.11 L224.59,85.69 L224.75,81.26 L224.87,76.84 L224.92,72.41 L224.8,67.99 L224.57,63.57 L224.47,59.14" fill="none" stroke="#e6ca42" stroke-width="4.9"/>
<path d="M226.03,147.62 L225.93,143.2 L225.77,138.77 L225.59,134.35 L225.37,129.93 L225.05,125.5 L224.63,121.08 L224.2,116.65 L223.9,112.23 L223.74,107.81 L223.7,103.38 L223.74,98.96 L223.87,94.53 L224.07,90.11 L224.29,85.69 L224.45,81.26 L224.57,76.84 L224.62,72.41 L224.5,67.99 L224.27,63.57 L224.17,59.14" fill="none" stroke="#f7e87c" stroke-width="2.4"/>
<path d="M232.52,147.63 L232.35,143.2 L232.11,138.76 L231.86,134.33 L231.54,129.89 L231.11,125.46 L230.54,121.02 L229.97,116.58 L229.56,112.15 L229.33,107.71 L229.23,103.28 L229.25,98.84 L229.37,94.41 L229.58,89.97 L229.81,85.54 L229.97,81.1 L230.08,76.67 L230.11,72.23 L229.92,67.8 L229.6,63.36 L229.43,58.93" fill="none" stroke="#e6ca42" stroke-width="4.9"/>
<path d="M232.22,147.63 L232.05,143.2 L231.81,138.76 L231.56,134.33 L231.24,129.89 L230.81,125.46 L230.24,121.02 L229.67,116.58 L229.26,112.15 L229.03,107.71 L228.93,103.28 L228.95,98.84 L229.07,94.41 L229.28,89.97 L229.51,85.54 L229.67,81.1 L229.78,76.67 L229.81,72.23 L229.62,67.8 L229.3,63.36 L229.13,58.93" fill="none" stroke="#f7e87c" stroke-width="2.4"/>
<path d="M238.71,147.65 L238.47,143.2 L238.14,138.74 L237.8,134.29 L237.38,129.84 L236.82,125.39 L236.1,120.94 L235.37,116.49 L234.84,112.04 L234.52,107.59 L234.36,103.14 L234.34,98.69 L234.45,94.24 L234.67,89.79 L234.91,85.33 L235.06,80.88 L235.16,76.43 L235.15,71.98 L234.88,67.53 L234.46,63.08 L234.21,58.63" fill="none" stroke="#e6ca42" stroke-width="4.9"/>
<path d="M238.41,147.65 L238.17,143.2 L237.84,138.74 L237.5,134.29 L237.08,129.84 L236.52,125.39 L235.8,120.94 L235.07,116.49 L234.54,112.04 L234.22,107.59 L234.06,103.14 L234.04,98.69 L234.15,94.24 L234.37,89.79 L234.61,85.33 L234.76,80.88 L234.86,76.43 L234.85,71.98 L234.58,67.53 L234.16,63.08 L233.91,58.63" fill="none" stroke="#f7e87c" stroke-width="2.4"/>
<path d="M244.91,147.67 L244.59,143.19 L244.17,138.72 L243.72,134.25 L243.19,129.78 L242.48,125.3 L241.6,120.83 L240.7,116.36 L240.03,111.88 L239.62,107.41 L239.39,102.94 L239.33,98.47 L239.42,93.99 L239.64,89.52 L239.89,85.05 L240.03,80.58 L240.1,76.1 L240.05,71.63 L239.7,67.16 L239.16,62.69 L238.84,58.21" fill="none" stroke="#e6ca42" stroke-width="4.9"/>
<path d="M244.61,147.67 L244.29,143.19 L243.87,138.72 L243.42,134.25 L242.89,129.78 L242.18,125.3 L241.3,120.83 L240.4,116.36 L239.73,111.88 L239.32,107.41 L239.09,102.94 L239.03,98.47 L239.12,93.99 L239.34,89.52 L239.59,85.05 L239.73,80.58 L239.8,76.1 L239.75,71.63 L239.4,67.16 L238.86,62.69 L238.54,58.21" fill="none" stroke="#f7e87c" stroke-width="2.4"/>
<path d="M251.12,147.69 L250.71,143.19 L250.18,138.69 L249.62,134.18 L248.97,129.68 L248.11,125.18 L247.04,120.67 L245.97,116.17 L245.15,111.66 L244.63,107.16 L244.34,102.66 L244.23,98.15 L244.29,93.65 L244.51,89.14 L244.76,84.64 L244.88,80.14 L244.94,75.63 L244.84,71.13 L244.4,66.63 L243.73,62.12 L243.32,57.62" fill="none" stroke="#e6ca42" stroke-width="4.9"/>
<path d="M250.82,147.69 L250.41,143.19 L249.88,138.69 L249.32,134.18 L248.67,129.68 L247.81,125.18 L246.74,120.67 L245.67,116.17 L244.85,111.66 L244.33,107.16 L244.04,102.66 L243.93,98.15 L243.99,93.65 L244.21,89.14 L244.46,84.64 L244.58,80.14 L244.64,75.63 L244.54,71.13 L244.1,66.63 L243.43,62.12 L243.02,57.62" fill="none" stroke="#f7e87c" stroke-width="2.4"/>
<path d="M257.33,147.73 L256.83,143.19 L256.18,138.64 L255.51,134.1 L254.73,129.56 L253.71,125.02 L252.45,120.47 L251.17,115.93 L250.2,111.39 L249.57,106.85 L249.2,102.3 L249.04,97.76 L249.07,93.22 L249.29,88.67 L249.53,84.13 L249.64,79.59 L249.67,75.05 L249.52,70.5 L248.97,65.96 L248.17,61.42 L247.66,56.88" fill="none" stroke="#e6ca42" stroke-width="4.9"/>
<path d="M257.03,147.73 L256.53,143.19 L255.88,138.64 L255.21,134.1 L254.43,129.56 L253.41,125.02 L252.15,120.47 L250.87,115.93 L249.9,111.39 L249.27,106.85 L248.9,102.3 L248.74,97.76 L248.77,93.22 L248.99,88.67 L249.23,84.13 L249.34,79.59 L249.37,75.05 L249.22,70.5 L248.67,65.96 L247.87,61.42 L247.36,56.88" fill="none" stroke="#f7e87c" stroke-width="2.4"/>
<path d="M263.56,147.77 L262.95,143.18 L262.18,138.6 L261.38,134.01 L260.46,129.43 L259.27,124.85 L257.8,120.26 L256.32,115.68 L255.18,111.09 L254.44,106.51 L253.98,101.92 L253.76,97.34 L253.77,92.75 L253.97,88.17 L254.22,83.58 L254.31,79 L254.3,74.41 L254.1,69.83 L253.44,65.25 L252.5,60.66 L251.88,56.08" fill="none" stroke="#e6ca42" stroke-width="4.9"/>
<path d="M263.26,147.77 L262.65,143.18 L261.88,138.6 L261.08,134.01 L260.16,129.43 L258.97,124.85 L257.5,120.26 L256.02,115.68 L254.88,111.09 L254.14,106.51 L253.68,101.92 L253.46,97.34 L253.47,92.75 L253.67,88.17 L253.92,83.58 L254.01,79 L254,74.41 L253.8,69.83 L253.14,65.25 L252.2,60.66 L251.58,56.08" fill="none" stroke="#f7e87c" stroke-width="2.4"/>
<path d="M269.78,147.8 L269.07,143.18 L268.17,138.56 L267.24,133.94 L266.17,129.31 L264.8,124.69 L263.12,120.07 L261.42,115.45 L260.11,110.82 L259.24,106.2 L258.69,101.58 L258.41,96.96 L258.38,92.33 L258.58,87.71 L258.82,83.09 L258.88,78.47 L258.84,73.85 L258.58,69.22 L257.81,64.6 L256.72,59.98 L255.99,55.36" fill="none" stroke="#e6ca42" stroke-width="4.9"/>
<path d="M269.48,147.8 L268.77,143.18 L267.87,138.56 L266.94,133.94 L265.87,129.31 L264.5,124.69 L262.82,120.07 L261.12,115.45 L259.81,110.82 L258.94,106.2 L258.39,101.58 L258.11,96.96 L258.08,92.33 L258.28,87.71 L258.52,83.09 L258.58,78.47 L258.54,73.85 L258.28,69.22 L257.51,64.6 L256.42,59.98 L255.69,55.36" fill="none" stroke="#f7e87c" stroke-width="2.4"/>
<path d="M276.01,147.83 L275.19,143.18 L274.15,138.52 L273.08,133.87 L271.86,129.22 L270.3,124.56 L268.39,119.91 L266.47,115.26 L264.98,110.6 L263.98,105.95 L263.33,101.3 L262.98,96.64 L262.92,91.99 L263.11,87.33 L263.34,82.68 L263.37,78.03 L263.29,73.37 L262.97,68.72 L262.08,64.07 L260.83,59.41 L259.99,54.76" fill="none" stroke="#e6ca42" stroke-width="4.9"/>
<path d="M275.71,147.83 L274.89,143.18 L273.85,138.52 L272.78,133.87 L271.56,129.22 L270,124.56 L268.09,119.91 L266.17,115.26 L264.68,110.6 L263.68,105.95 L263.03,101.3 L262.68,96.64 L262.62,91.99 L262.81,87.33 L263.04,82.68 L263.07,78.03 L262.99,73.37 L262.67,68.72 L261.78,64.07 L260.53,59.41 L259.69,54.76" fill="none" stroke="#f7e87c" stroke-width="2.4"/>
<path d="M282.25,147.86 L281.31,143.17 L280.14,138.49 L278.94,133.81 L277.57,129.13 L275.86,124.45 L273.78,119.77 L271.69,115.09 L270.04,110.4 L268.91,105.72 L268.15,101.04 L267.71,96.36 L267.57,91.68 L267.69,87 L267.86,82.32 L267.82,77.63 L267.66,72.95 L267.25,68.27 L266.24,63.59 L264.84,58.91 L263.88,54.23" fill="none" stroke="#e6ca42" stroke-width="4.9"/>
<path d="M281.95,147.86 L281.01,143.17 L279.84,138.49 L278.64,133.81 L277.27,129.13 L275.56,124.45 L273.48,119.77 L271.39,115.09 L269.74,110.4 L268.61,105.72 L267.85,101.04 L267.41,96.36 L267.27,91.68 L267.39,87 L267.56,82.32 L267.52,77.63 L267.36,72.95 L266.95,68.27 L265.94,63.59 L264.54,58.91 L263.58,54.23" fill="none" stroke="#f7e87c" stroke-width="2.4"/>
<path d="M288.49,147.87 L287.43,143.17 L286.14,138.47 L284.81,133.77 L283.33,129.07 L281.49,124.36 L279.29,119.66 L277.07,114.96 L275.3,110.26 L274.05,105.55 L273.17,100.85 L272.61,96.15 L272.34,91.45 L272.34,86.74 L272.39,82.04 L272.23,77.34 L271.94,72.64 L271.41,67.93 L270.27,63.23 L268.76,58.53 L267.68,53.83" fill="none" stroke="#e6ca42" stroke-width="4.9"/>
<path d="M288.19,147.87 L287.13,143.17 L285.84,138.47 L284.51,133.77 L283.03,129.07 L281.19,124.36 L278.99,119.66 L276.77,114.96 L275,110.26 L273.75,105.55 L272.87,100.85 L272.31,96.15 L272.04,91.45 L272.04,86.74 L272.09,82.04 L271.93,77.34 L271.64,72.64 L271.11,67.93 L269.97,63.23 L268.46,58.53 L267.38,53.83" fill="none" stroke="#f7e87c" stroke-width="2.4"/>
<path d="M294.74,147.88 L293.54,143.17 L292.13,138.46 L290.68,133.75 L289.06,129.03 L287.1,124.32 L284.77,119.61 L282.42,114.89 L280.53,110.18 L279.15,105.47 L278.14,100.76 L277.45,96.04 L277.06,91.33 L276.93,86.62 L276.85,81.9 L276.56,77.19 L276.15,72.48 L275.49,67.76 L274.23,63.05 L272.59,58.34 L271.38,53.63" fill="none" stroke="#e6ca42" stroke-width="4.9"/>
<path d="M294.44,147.88 L293.24,143.17 L291.83,138.46 L290.38,133.75 L288.76,129.03 L286.8,124.32 L284.47,119.61 L282.12,114.89 L280.23,110.18 L278.85,105.47 L277.84,100.76 L277.15,96.04 L276.76,91.33 L276.63,86.62 L276.55,81.9 L276.26,77.19 L275.85,72.48 L275.19,67.76 L273.93,63.05 L272.29,58.34 L271.08,53.63" fill="none" stroke="#f7e87c" stroke-width="2.4"/>
<path d="M300.99,147.88 L299.66,143.17 L298.11,138.46 L296.53,133.74 L294.78,129.03 L292.68,124.32 L290.23,119.6 L287.75,114.89 L285.72,110.18 L284.21,105.46 L283.07,100.75 L282.25,96.04 L281.72,91.32 L281.46,86.61 L281.25,81.9 L280.83,77.18 L280.29,72.47 L279.49,67.76 L278.1,63.04 L276.33,58.33 L274.98,53.62" fill="none" stroke="#e6ca42" stroke-width="4.9"/>
<path d="M300.69,147.88 L299.36,143.17 L297.81,138.46 L296.23,133.74 L294.48,129.03 L292.38,124.32 L289.93,119.6 L287.45,114.89 L285.42,110.18 L283.91,105.46 L282.77,100.75 L281.95,96.04 L281.42,91.32 L281.16,86.61 L280.95,81.9 L280.53,77.18 L279.99,72.47 L279.19,67.76 L277.8,63.04 L276.03,58.33 L274.68,53.62" fill="none" stroke="#f7e87c" stroke-width="2.4"/>
<path d="M307.24,147.88 L305.78,143.17 L304.09,138.46 L302.37,133.75 L300.49,129.04 L298.26,124.33 L295.66,119.62 L293.05,114.91 L290.88,110.2 L289.23,105.49 L287.95,100.79 L287,96.08 L286.34,91.37 L285.94,86.66 L285.59,81.95 L285.03,77.24 L284.35,72.53 L283.42,67.82 L281.89,63.11 L279.98,58.4 L278.5,53.69" fill="none" stroke="#e6ca42" stroke-width="4.9"/>
<path d="M306.94,147.88 L305.48,143.17 L303.79,138.46 L302.07,133.75 L300.19,129.04 L297.96,124.33 L295.36,119.62 L292.75,114.91 L290.58,110.2 L288.93,105.49 L287.65,100.79 L286.7,96.08 L286.04,91.37 L285.64,86.66 L285.29,81.95 L284.73,77.24 L284.05,72.53 L283.12,67.82 L281.59,63.11 L279.68,58.4 L278.2,53.69" fill="none" stroke="#f7e87c" stroke-width="2.4"/>
<rect x="0" y="50" width="320" height="100" fill="url(#beads)"/>
<path d="M95,104 C120,98 150,90 180,80 C200,74 215,70 230,68" fill="none" stroke="#ffffff" stroke-width="9" opacity="0.18" filter="url(#blur1)"/>
<ellipse cx="205" cy="70" rx="60" ry="9" fill="#fffbe0" opacity="0.25" filter="url(#blur3)"/>
</g>
<rect x="2.5" y="144.6" width="306.5" height="23.5" fill="url(#face)" stroke="none" stroke-width="1"/>
<line x1="2.5" y1="147.1" x2="2.5" y2="166.6" stroke="#414b57" stroke-width="1"/>
<line x1="8.63" y1="147.1" x2="8.63" y2="166.6" stroke="#414b57" stroke-width="1"/>
<line x1="14.76" y1="147.1" x2="14.76" y2="166.6" stroke="#414b57" stroke-width="1"/>
<line x1="20.89" y1="147.1" x2="20.89" y2="166.6" stroke="#414b57" stroke-width="1"/>
<line x1="27.02" y1="147.1" x2="27.02" y2="166.6" stroke="#414b57" stroke-width="1"/>
<line x1="33.15" y1="147.1" x2="33.15" y2="166.6" stroke="#414b57" stroke-width="1"/>
<line x1="39.28" y1="147.1" x2="39.28" y2="166.6" stroke="#414b57" stroke-width="1"/>
<line x1="45.41" y1="147.1" x2="45.41" y2="166.6" stroke="#414b57" stroke-width="1"/>
<line x1="51.54" y1="147.1" x2="51.54" y2="166.6" stroke="#414b57" stroke-width="1"/>
<line x1="57.67" y1="147.1" x2="57.67" y2="166.6" stroke="#414b57" stroke-width="1"/>
<line x1="63.8" y1="147.1" x2="63.8" y2="166.6" stroke="#414b57" stroke-width="1"/>
<line x1="69.93" y1="147.1" x2="69.93" y2="166.6" stroke="#414b57" stroke-width="1"/>
<line x1="76.06" y1="147.1" x2="76.06" y2="166.6" stroke="#414b57" stroke-width="1"/>
<line x1="82.19" y1="147.1" x2="82.19" y2="166.6" stroke="#414b57" stroke-width="1"/>
<line x1="88.32" y1="147.1" x2="88.32" y2="166.6" stroke="#414b57" stroke-width="1"/>
<line x1="94.45" y1="147.1" x2="94.45" y2="166.6" stroke="#414b57" stroke-width="1"/>
<line x1="100.58" y1="147.1" x2="100.58" y2="166.6" stroke="#414b57" stroke-width="1"/>
<line x1="106.71" y1="147.1" x2="106.71" y2="166.6" stroke="#414b57" stroke-width="1"/>
<line x1="112.84" y1="147.1" x2="112.84" y2="166.6" stroke="#414b57" stroke-width="1"/>
<line x1="118.97" y1="147.1" x2="118.97" y2="166.6" stroke="#414b57" stroke-width="1"/>
<line x1="125.1" y1="147.1" x2="125.1" y2="166.6" stroke="#414b57" stroke-width="1"/>
<line x1="131.23" y1="147.1" x2="131.23" y2="166.6" stroke="#414b57" stroke-width="1"/>
<line x1="137.36" y1="147.1" x2="137.36" y2="166.6" stroke="#414b57" stroke-width="1"/>
<line x1="143.49" y1="147.1" x2="143.49" y2="166.6" stroke="#414b57" stroke-width="1"/>
<line x1="149.62" y1="147.1" x2="149.62" y2="166.6" stroke="#414b57" stroke-width="1"/>
<line x1="155.75" y1="147.1" x2="155.75" y2="166.6" stroke="#414b57" stroke-width="1"/>
<line x1="161.88" y1="147.1" x2="161.88" y2="166.6" stroke="#414b57" stroke-width="1"/>
<line x1="168.01" y1="147.1" x2="168.01" y2="166.6" stroke="#414b57" stroke-width="1"/>
<line x1="174.14" y1="147.1" x2="174.14" y2="166.6" stroke="#414b57" stroke-width="1"/>
<line x1="180.27" y1="147.1" x2="180.27" y2="166.6" stroke="#414b57" stroke-width="1"/>
<line x1="186.4" y1="147.1" x2="186.4" y2="166.6" stroke="#414b57" stroke-width="1"/>
<line x1="192.53" y1="147.1" x2="192.53" y2="166.6" stroke="#414b57" stroke-width="1"/>
<line x1="198.66" y1="147.1" x2="198.66" y2="166.6" stroke="#414b57" stroke-width="1"/>
<line x1="204.79" y1="147.1" x2="204.79" y2="166.6" stroke="#414b57" stroke-width="1"/>
<line x1="210.92" y1="147.1" x2="210.92" y2="166.6" stroke="#414b57" stroke-width="1"/>
<line x1="217.05" y1="147.1" x2="217.05" y2="166.6" stroke="#414b57" stroke-width="1"/>
<line x1="223.18" y1="147.1" x2="223.18" y2="166.6" stroke="#414b57" stroke-width="1"/>
<line x1="229.31" y1="147.1" x2="229.31" y2="166.6" stroke="#414b57" stroke-width="1"/>
<line x1="235.44" y1="147.1" x2="235.44" y2="166.6" stroke="#414b57" stroke-width="1"/>
<line x1="241.57" y1="147.1" x2="241.57" y2="166.6" stroke="#414b57" stroke-width="1"/>
<line x1="247.7" y1="147.1" x2="247.7" y2="166.6" stroke="#414b57" stroke-width="1"/>
<line x1="253.83" y1="147.1" x2="253.83" y2="166.6" stroke="#414b57" stroke-width="1"/>
<line x1="259.96" y1="147.1" x2="259.96" y2="166.6" stroke="#414b57" stroke-width="1"/>
<line x1="266.09" y1="147.1" x2="266.09" y2="166.6" stroke="#414b57" stroke-width="1"/>
<line x1="272.22" y1="147.1" x2="272.22" y2="166.6" stroke="#414b57" stroke-width="1"/>
<line x1="278.35" y1="147.1" x2="278.35" y2="166.6" stroke="#414b57" stroke-width="1"/>
<line x1="284.48" y1="147.1" x2="284.48" y2="166.6" stroke="#414b57" stroke-width="1"/>
<line x1="290.61" y1="147.1" x2="290.61" y2="166.6" stroke="#414b57" stroke-width="1"/>
<line x1="296.74" y1="147.1" x2="296.74" y2="166.6" stroke="#414b57" stroke-width="1"/>
<line x1="302.87" y1="147.1" x2="302.87" y2="166.6" stroke="#414b57" stroke-width="1"/>
<line x1="309" y1="147.1" x2="309" y2="166.6" stroke="#414b57" stroke-width="1"/>
<line x1="4.16" y1="148.1" x2="5.06" y2="165.1" stroke="#aebacb" stroke-width="1.1"/>
<line x1="6.96" y1="148.1" x2="6.06" y2="165.1" stroke="#aebacb" stroke-width="1.1"/>
<line x1="10.29" y1="148.1" x2="11.2" y2="165.1" stroke="#aebacb" stroke-width="1.1"/>
<line x1="13.1" y1="148.1" x2="12.2" y2="165.1" stroke="#aebacb" stroke-width="1.1"/>
<line x1="16.43" y1="148.1" x2="17.32" y2="165.1" stroke="#aebacb" stroke-width="1.1"/>
<line x1="19.22" y1="148.1" x2="18.32" y2="165.1" stroke="#aebacb" stroke-width="1.1"/>
<line x1="22.55" y1="148.1" x2="23.45" y2="165.1" stroke="#aebacb" stroke-width="1.1"/>
<line x1="25.35" y1="148.1" x2="24.45" y2="165.1" stroke="#aebacb" stroke-width="1.1"/>
<line x1="28.69" y1="148.1" x2="29.59" y2="165.1" stroke="#aebacb" stroke-width="1.1"/>
<line x1="31.48" y1="148.1" x2="30.59" y2="165.1" stroke="#aebacb" stroke-width="1.1"/>
<line x1="34.81" y1="148.1" x2="35.71" y2="165.1" stroke="#aebacb" stroke-width="1.1"/>
<line x1="37.61" y1="148.1" x2="36.71" y2="165.1" stroke="#aebacb" stroke-width="1.1"/>
<line x1="40.95" y1="148.1" x2="41.84" y2="165.1" stroke="#aebacb" stroke-width="1.1"/>
<line x1="43.74" y1="148.1" x2="42.84" y2="165.1" stroke="#aebacb" stroke-width="1.1"/>
<line x1="47.08" y1="148.1" x2="47.98" y2="165.1" stroke="#aebacb" stroke-width="1.1"/>
<line x1="49.88" y1="148.1" x2="48.98" y2="165.1" stroke="#aebacb" stroke-width="1.1"/>
<line x1="53.2" y1="148.1" x2="54.1" y2="165.1" stroke="#aebacb" stroke-width="1.1"/>
<line x1="56" y1="148.1" x2="55.1" y2="165.1" stroke="#aebacb" stroke-width="1.1"/>
<line x1="59.34" y1="148.1" x2="60.23" y2="165.1" stroke="#aebacb" stroke-width="1.1"/>
<line x1="62.13" y1="148.1" x2="61.23" y2="165.1" stroke="#aebacb" stroke-width="1.1"/>
<line x1="65.46" y1="148.1" x2="66.36" y2="165.1" stroke="#aebacb" stroke-width="1.1"/>
<line x1="68.27" y1="148.1" x2="67.36" y2="165.1" stroke="#aebacb" stroke-width="1.1"/>
<line x1="71.59" y1="148.1" x2="72.5" y2="165.1" stroke="#aebacb" stroke-width="1.1"/>
<line x1="74.4" y1="148.1" x2="73.5" y2="165.1" stroke="#aebacb" stroke-width="1.1"/>
<line x1="77.72" y1="148.1" x2="78.62" y2="165.1" stroke="#aebacb" stroke-width="1.1"/>
<line x1="80.53" y1="148.1" x2="79.62" y2="165.1" stroke="#aebacb" stroke-width="1.1"/>
<line x1="83.85" y1="148.1" x2="84.75" y2="165.1" stroke="#aebacb" stroke-width="1.1"/>
<line x1="86.66" y1="148.1" x2="85.75" y2="165.1" stroke="#aebacb" stroke-width="1.1"/>
<line x1="89.98" y1="148.1" x2="90.89" y2="165.1" stroke="#aebacb" stroke-width="1.1"/>
<line x1="92.79" y1="148.1" x2="91.89" y2="165.1" stroke="#aebacb" stroke-width="1.1"/>
<line x1="96.11" y1="148.1" x2="97.02" y2="165.1" stroke="#aebacb" stroke-width="1.1"/>
<line x1="98.92" y1="148.1" x2="98.02" y2="165.1" stroke="#aebacb" stroke-width="1.1"/>
<line x1="102.24" y1="148.1" x2="103.14" y2="165.1" stroke="#aebacb" stroke-width="1.1"/>
<line x1="105.05" y1="148.1" x2="104.14" y2="165.1" stroke="#aebacb" stroke-width="1.1"/>
<line x1="108.37" y1="148.1" x2="109.27" y2="165.1" stroke="#aebacb" stroke-width="1.1"/>
<line x1="111.17" y1="148.1" x2="110.27" y2="165.1" stroke="#aebacb" stroke-width="1.1"/>
<line x1="114.5" y1="148.1" x2="115.41" y2="165.1" stroke="#aebacb" stroke-width="1.1"/>
<line x1="117.31" y1="148.1" x2="116.41" y2="165.1" stroke="#aebacb" stroke-width="1.1"/>
<line x1="120.63" y1="148.1" x2="121.53" y2="165.1" stroke="#aebacb" stroke-width="1.1"/>
<line x1="123.44" y1="148.1" x2="122.53" y2="165.1" stroke="#aebacb" stroke-width="1.1"/>
<line x1="126.76" y1="148.1" x2="127.66" y2="165.1" stroke="#aebacb" stroke-width="1.1"/>
<line x1="129.56" y1="148.1" x2="128.66" y2="165.1" stroke="#aebacb" stroke-width="1.1"/>
<line x1="132.89" y1="148.1" x2="133.79" y2="165.1" stroke="#aebacb" stroke-width="1.1"/>
<line x1="135.69" y1="148.1" x2="134.79" y2="165.1" stroke="#aebacb" stroke-width="1.1"/>
<line x1="139.03" y1="148.1" x2="139.93" y2="165.1" stroke="#aebacb" stroke-width="1.1"/>
<line x1="141.83" y1="148.1" x2="140.93" y2="165.1" stroke="#aebacb" stroke-width="1.1"/>
<line x1="145.16" y1="148.1" x2="146.06" y2="165.1" stroke="#aebacb" stroke-width="1.1"/>
<line x1="147.96" y1="148.1" x2="147.06" y2="165.1" stroke="#aebacb" stroke-width="1.1"/>
<line x1="151.28" y1="148.1" x2="152.19" y2="165.1" stroke="#aebacb" stroke-width="1.1"/>
<line x1="154.09" y1="148.1" x2="153.19" y2="165.1" stroke="#aebacb" stroke-width="1.1"/>
<line x1="157.41" y1="148.1" x2="158.31" y2="165.1" stroke="#aebacb" stroke-width="1.1"/>
<line x1="160.22" y1="148.1" x2="159.31" y2="165.1" stroke="#aebacb" stroke-width="1.1"/>
<line x1="163.54" y1="148.1" x2="164.44" y2="165.1" stroke="#aebacb" stroke-width="1.1"/>
<line x1="166.34" y1="148.1" x2="165.44" y2="165.1" stroke="#aebacb" stroke-width="1.1"/>
<line x1="169.67" y1="148.1" x2="170.57" y2="165.1" stroke="#aebacb" stroke-width="1.1"/>
<line x1="172.47" y1="148.1" x2="171.57" y2="165.1" stroke="#aebacb" stroke-width="1.1"/>
<line x1="175.8" y1="148.1" x2="176.7" y2="165.1" stroke="#aebacb" stroke-width="1.1"/>
<line x1="178.6" y1="148.1" x2="177.7" y2="165.1" stroke="#aebacb" stroke-width="1.1"/>
<line x1="181.94" y1="148.1" x2="182.84" y2="165.1" stroke="#aebacb" stroke-width="1.1"/>
<line x1="184.74" y1="148.1" x2="183.84" y2="165.1" stroke="#aebacb" stroke-width="1.1"/>
<line x1="188.06" y1="148.1" x2="188.97" y2="165.1" stroke="#aebacb" stroke-width="1.1"/>
<line x1="190.87" y1="148.1" x2="189.97" y2="165.1" stroke="#aebacb" stroke-width="1.1"/>
<line x1="194.19" y1="148.1" x2="195.09" y2="165.1" stroke="#aebacb" stroke-width="1.1"/>
<line x1="197" y1="148.1" x2="196.09" y2="165.1" stroke="#aebacb" stroke-width="1.1"/>
<line x1="200.32" y1="148.1" x2="201.22" y2="165.1" stroke="#aebacb" stroke-width="1.1"/>
<line x1="203.12" y1="148.1" x2="202.22" y2="165.1" stroke="#aebacb" stroke-width="1.1"/>
<line x1="206.45" y1="148.1" x2="207.35" y2="165.1" stroke="#aebacb" stroke-width="1.1"/>
<line x1="209.25" y1="148.1" x2="208.35" y2="165.1" stroke="#aebacb" stroke-width="1.1"/>
<line x1="212.58" y1="148.1" x2="213.48" y2="165.1" stroke="#aebacb" stroke-width="1.1"/>
<line x1="215.38" y1="148.1" x2="214.48" y2="165.1" stroke="#aebacb" stroke-width="1.1"/>
<line x1="218.72" y1="148.1" x2="219.62" y2="165.1" stroke="#aebacb" stroke-width="1.1"/>
<line x1="221.52" y1="148.1" x2="220.62" y2="165.1" stroke="#aebacb" stroke-width="1.1"/>
<line x1="224.84" y1="148.1" x2="225.75" y2="165.1" stroke="#aebacb" stroke-width="1.1"/>
<line x1="227.65" y1="148.1" x2="226.75" y2="165.1" stroke="#aebacb" stroke-width="1.1"/>
<line x1="230.97" y1="148.1" x2="231.88" y2="165.1" stroke="#aebacb" stroke-width="1.1"/>
<line x1="233.78" y1="148.1" x2="232.88" y2="165.1" stroke="#aebacb" stroke-width="1.1"/>
<line x1="237.1" y1="148.1" x2="238" y2="165.1" stroke="#aebacb" stroke-width="1.1"/>
<line x1="239.91" y1="148.1" x2="239" y2="165.1" stroke="#aebacb" stroke-width="1.1"/>
<line x1="243.23" y1="148.1" x2="244.13" y2="165.1" stroke="#aebacb" stroke-width="1.1"/>
<line x1="246.03" y1="148.1" x2="245.13" y2="165.1" stroke="#aebacb" stroke-width="1.1"/>
<line x1="249.36" y1="148.1" x2="250.26" y2="165.1" stroke="#aebacb" stroke-width="1.1"/>
<line x1="252.16" y1="148.1" x2="251.26" y2="165.1" stroke="#aebacb" stroke-width="1.1"/>
<line x1="255.49" y1="148.1" x2="256.39" y2="165.1" stroke="#aebacb" stroke-width="1.1"/>
<line x1="258.29" y1="148.1" x2="257.39" y2="165.1" stroke="#aebacb" stroke-width="1.1"/>
<line x1="261.62" y1="148.1" x2="262.52" y2="165.1" stroke="#aebacb" stroke-width="1.1"/>
<line x1="264.42" y1="148.1" x2="263.52" y2="165.1" stroke="#aebacb" stroke-width="1.1"/>
<line x1="267.75" y1="148.1" x2="268.65" y2="165.1" stroke="#aebacb" stroke-width="1.1"/>
<line x1="270.55" y1="148.1" x2="269.65" y2="165.1" stroke="#aebacb" stroke-width="1.1"/>
<line x1="273.88" y1="148.1" x2="274.78" y2="165.1" stroke="#aebacb" stroke-width="1.1"/>
<line x1="276.68" y1="148.1" x2="275.78" y2="165.1" stroke="#aebacb" stroke-width="1.1"/>
<line x1="280.02" y1="148.1" x2="280.92" y2="165.1" stroke="#aebacb" stroke-width="1.1"/>
<line x1="282.81" y1="148.1" x2="281.92" y2="165.1" stroke="#aebacb" stroke-width="1.1"/>
<line x1="286.15" y1="148.1" x2="287.05" y2="165.1" stroke="#aebacb" stroke-width="1.1"/>
<line x1="288.94" y1="148.1" x2="288.05" y2="165.1" stroke="#aebacb" stroke-width="1.1"/>
<line x1="292.28" y1="148.1" x2="293.18" y2="165.1" stroke="#aebacb" stroke-width="1.1"/>
<line x1="295.07" y1="148.1" x2="294.18" y2="165.1" stroke="#aebacb" stroke-width="1.1"/>
<line x1="298.41" y1="148.1" x2="299.31" y2="165.1" stroke="#aebacb" stroke-width="1.1"/>
<line x1="301.2" y1="148.1" x2="300.31" y2="165.1" stroke="#aebacb" stroke-width="1.1"/>
<line x1="304.54" y1="148.1" x2="305.44" y2="165.1" stroke="#aebacb" stroke-width="1.1"/>
<line x1="307.33" y1="148.1" x2="306.44" y2="165.1" stroke="#aebacb" stroke-width="1.1"/>
<circle cx="5.56" cy="169.4" r="3.25" fill="url(#head)"/>
<circle cx="11.7" cy="169.4" r="3.25" fill="url(#head)"/>
<circle cx="17.82" cy="169.4" r="3.25" fill="url(#head)"/>
<circle cx="23.95" cy="169.4" r="3.25" fill="url(#head)"/>
<circle cx="30.09" cy="169.4" r="3.25" fill="url(#head)"/>
<circle cx="36.21" cy="169.4" r="3.25" fill="url(#head)"/>
<circle cx="42.34" cy="169.4" r="3.25" fill="url(#head)"/>
<circle cx="48.48" cy="169.4" r="3.25" fill="url(#head)"/>
<circle cx="54.6" cy="169.4" r="3.25" fill="url(#head)"/>
<circle cx="60.73" cy="169.4" r="3.25" fill="url(#head)"/>
<circle cx="66.86" cy="169.4" r="3.25" fill="url(#head)"/>
<circle cx="73" cy="169.4" r="3.25" fill="url(#head)"/>
<circle cx="79.12" cy="169.4" r="3.25" fill="url(#head)"/>
<circle cx="85.25" cy="169.4" r="3.25" fill="url(#head)"/>
<circle cx="91.39" cy="169.4" r="3.25" fill="url(#head)"/>
<circle cx="97.52" cy="169.4" r="3.25" fill="url(#head)"/>
<circle cx="103.64" cy="169.4" r="3.25" fill="url(#head)"/>
<circle cx="109.77" cy="169.4" r="3.25" fill="url(#head)"/>
<circle cx="115.91" cy="169.4" r="3.25" fill="url(#head)"/>
<circle cx="122.03" cy="169.4" r="3.25" fill="url(#head)"/>
<circle cx="128.16" cy="169.4" r="3.25" fill="url(#head)"/>
<circle cx="134.29" cy="169.4" r="3.25" fill="url(#head)"/>
<circle cx="140.43" cy="169.4" r="3.25" fill="url(#head)"/>
<circle cx="146.56" cy="169.4" r="3.25" fill="url(#head)"/>
<circle cx="152.69" cy="169.4" r="3.25" fill="url(#head)"/>
<circle cx="158.81" cy="169.4" r="3.25" fill="url(#head)"/>
<circle cx="164.94" cy="169.4" r="3.25" fill="url(#head)"/>
<circle cx="171.07" cy="169.4" r="3.25" fill="url(#head)"/>
<circle cx="177.2" cy="169.4" r="3.25" fill="url(#head)"/>
<circle cx="183.34" cy="169.4" r="3.25" fill="url(#head)"/>
<circle cx="189.47" cy="169.4" r="3.25" fill="url(#head)"/>
<circle cx="195.59" cy="169.4" r="3.25" fill="url(#head)"/>
<circle cx="201.72" cy="169.4" r="3.25" fill="url(#head)"/>
<circle cx="207.85" cy="169.4" r="3.25" fill="url(#head)"/>
<circle cx="213.98" cy="169.4" r="3.25" fill="url(#head)"/>
<circle cx="220.12" cy="169.4" r="3.25" fill="url(#head)"/>
<circle cx="226.25" cy="169.4" r="3.25" fill="url(#head)"/>
<circle cx="232.38" cy="169.4" r="3.25" fill="url(#head)"/>
<circle cx="238.5" cy="169.4" r="3.25" fill="url(#head)"/>
<circle cx="244.63" cy="169.4" r="3.25" fill="url(#head)"/>
<circle cx="250.76" cy="169.4" r="3.25" fill="url(#head)"/>
<circle cx="256.89" cy="169.4" r="3.25" fill="url(#head)"/>
<circle cx="263.02" cy="169.4" r="3.25" fill="url(#head)"/>
<circle cx="269.15" cy="169.4" r="3.25" fill="url(#head)"/>
<circle cx="275.28" cy="169.4" r="3.25" fill="url(#head)"/>
<circle cx="281.42" cy="169.4" r="3.25" fill="url(#head)"/>
<circle cx="287.55" cy="169.4" r="3.25" fill="url(#head)"/>
<circle cx="293.68" cy="169.4" r="3.25" fill="url(#head)"/>
<circle cx="299.81" cy="169.4" r="3.25" fill="url(#head)"/>
<circle cx="305.94" cy="169.4" r="3.25" fill="url(#head)"/>
<circle cx="5.56" cy="142.6" r="3.6" fill="url(#head)"/>
<circle cx="11.7" cy="142.6" r="3.6" fill="url(#head)"/>
<circle cx="17.82" cy="142.6" r="3.6" fill="url(#head)"/>
<circle cx="23.95" cy="142.6" r="3.6" fill="url(#head)"/>
<circle cx="30.09" cy="142.6" r="3.6" fill="url(#head)"/>
<circle cx="36.21" cy="142.6" r="3.6" fill="url(#head)"/>
<circle cx="42.34" cy="142.6" r="3.6" fill="url(#head)"/>
<circle cx="48.48" cy="142.6" r="3.6" fill="url(#head)"/>
<circle cx="54.6" cy="142.6" r="3.6" fill="url(#head)"/>
<circle cx="60.73" cy="142.6" r="3.6" fill="url(#head)"/>
<circle cx="66.86" cy="142.6" r="3.6" fill="url(#head)"/>
<circle cx="73" cy="142.6" r="3.6" fill="url(#head)"/>
<circle cx="79.12" cy="142.6" r="3.6" fill="url(#head)"/>
<circle cx="85.25" cy="142.6" r="3.6" fill="url(#head)"/>
<circle cx="91.39" cy="142.6" r="3.6" fill="url(#head)"/>
<circle cx="97.52" cy="142.6" r="3.6" fill="url(#head)"/>
<circle cx="103.64" cy="142.6" r="3.6" fill="url(#head)"/>
<circle cx="109.77" cy="142.6" r="3.6" fill="url(#head)"/>
<circle cx="115.91" cy="142.6" r="3.6" fill="url(#head)"/>
<circle cx="122.03" cy="142.6" r="3.6" fill="url(#head)"/>
<circle cx="128.16" cy="142.6" r="3.6" fill="url(#head)"/>
<circle cx="134.29" cy="142.6" r="3.6" fill="url(#head)"/>
<circle cx="140.43" cy="142.6" r="3.6" fill="url(#head)"/>
<circle cx="146.56" cy="142.6" r="3.6" fill="url(#head)"/>
<circle cx="152.69" cy="142.6" r="3.6" fill="url(#head)"/>
<circle cx="158.81" cy="142.6" r="3.6" fill="url(#head)"/>
<circle cx="164.94" cy="142.6" r="3.6" fill="url(#head)"/>
<circle cx="171.07" cy="142.6" r="3.6" fill="url(#head)"/>
<circle cx="177.2" cy="142.6" r="3.6" fill="url(#head)"/>
<circle cx="183.34" cy="142.6" r="3.6" fill="url(#head)"/>
<circle cx="189.47" cy="142.6" r="3.6" fill="url(#head)"/>
<circle cx="195.59" cy="142.6" r="3.6" fill="url(#head)"/>
<circle cx="201.72" cy="142.6" r="3.6" fill="url(#head)"/>
<circle cx="207.85" cy="142.6" r="3.6" fill="url(#head)"/>
<circle cx="213.98" cy="142.6" r="3.6" fill="url(#head)"/>
<circle cx="220.12" cy="142.6" r="3.6" fill="url(#head)"/>
<circle cx="226.25" cy="142.6" r="3.6" fill="url(#head)"/>
<circle cx="232.38" cy="142.6" r="3.6" fill="url(#head)"/>
<circle cx="238.5" cy="142.6" r="3.6" fill="url(#head)"/>
<circle cx="244.63" cy="142.6" r="3.6" fill="url(#head)"/>
<circle cx="250.76" cy="142.6" r="3.6" fill="url(#head)"/>
<circle cx="256.89" cy="142.6" r="3.6" fill="url(#head)"/>
<circle cx="263.02" cy="142.6" r="3.6" fill="url(#head)"/>
<circle cx="269.15" cy="142.6" r="3.6" fill="url(#head)"/>
<circle cx="275.28" cy="142.6" r="3.6" fill="url(#head)"/>
<circle cx="281.42" cy="142.6" r="3.6" fill="url(#head)"/>
<circle cx="287.55" cy="142.6" r="3.6" fill="url(#head)"/>
<circle cx="293.68" cy="142.6" r="3.6" fill="url(#head)"/>
<circle cx="299.81" cy="142.6" r="3.6" fill="url(#head)"/>
<circle cx="305.94" cy="142.6" r="3.6" fill="url(#head)"/>
<ellipse cx="243" cy="110.5" rx="28" ry="5" fill="#f1ecff" opacity="0.8" filter="url(#blur1)"/>
<path d="M80,104 C88,101 96,100 103,101 C99,106 90,109 80,110 Z" fill="#f4f1e6" opacity="0.7" filter="url(#blur1)"/>
<path d="M46.3,89.86 L47.69,89.33 L48.96,92.52 L51.1,92.98 L53.44,93.44 L54.74,95.05 L56.74,95.87 L59.3,96.46 L60.47,97.83 L60.21,99.76 L62.24,101.36 L62.73,103.32 L60.98,104.94 L59.75,106.25 L60.01,108.01 L57.23,108.77 L54.97,109.33 L54.62,110.94 L52.87,111.37 L51.08,111.55 L50.07,113.15 L48.51,114.63 L46.65,114.78 L45.13,115.72 L43.57,117.71 L42.72,115.72 L42.01,113.99 L40.94,112.8 L39.99,111.02 L39.35,109.2 L36.37,109.5 L34.78,108.69 L34.33,107.5 L31.27,107.14 L30.26,106.03 L29.58,104.89 L29.79,103.68 L29.13,102.33 L31.3,100.91 L34.01,99.68 L34.24,97.62 L35.95,96.19 L38.16,95.49 L38.79,93.4 L39.8,91.59 L41.81,91.7 L43.6,91.35 L45.09,88.87 L46.26,90.74Z" fill="#f4f1e6" stroke="#dfd9c5" stroke-width="0.6"/>
<clipPath id="cl715110"><path d="M46.3,89.86 L47.69,89.33 L48.96,92.52 L51.1,92.98 L53.44,93.44 L54.74,95.05 L56.74,95.87 L59.3,96.46 L60.47,97.83 L60.21,99.76 L62.24,101.36 L62.73,103.32 L60.98,104.94 L59.75,106.25 L60.01,108.01 L57.23,108.77 L54.97,109.33 L54.62,110.94 L52.87,111.37 L51.08,111.55 L50.07,113.15 L48.51,114.63 L46.65,114.78 L45.13,115.72 L43.57,117.71 L42.72,115.72 L42.01,113.99 L40.94,112.8 L39.99,111.02 L39.35,109.2 L36.37,109.5 L34.78,108.69 L34.33,107.5 L31.27,107.14 L30.26,106.03 L29.58,104.89 L29.79,103.68 L29.13,102.33 L31.3,100.91 L34.01,99.68 L34.24,97.62 L35.95,96.19 L38.16,95.49 L38.79,93.4 L39.8,91.59 L41.81,91.7 L43.6,91.35 L45.09,88.87 L46.26,90.74Z"/></clipPath><g clip-path="url(#cl715110)">
<circle cx="58.78" cy="90.67" r="2.31" fill="#fbfaf5"/>
<circle cx="34.47" cy="113.05" r="2.15" fill="#fbfaf5"/>
<circle cx="52.26" cy="95.58" r="1.7" fill="#fbfaf5"/>
<circle cx="33.22" cy="102.87" r="1.43" fill="#ffffff"/>
<circle cx="55.06" cy="100.94" r="1.94" fill="#dfd9c5"/>
<circle cx="42.61" cy="93.1" r="1.87" fill="#ffffff"/>
<circle cx="48.14" cy="104.72" r="2.06" fill="#ffffff"/>
<circle cx="61.45" cy="98.23" r="2.72" fill="#ebe6d6"/>
<circle cx="60.58" cy="97.74" r="2.77" fill="#ebe6d6"/>
<circle cx="40.18" cy="99.59" r="1.87" fill="#dfd9c5"/>
<circle cx="57.3" cy="100.29" r="2.14" fill="#fbfaf5"/>
<circle cx="49.23" cy="115.2" r="2.25" fill="#ffffff"/>
<circle cx="52.31" cy="115.09" r="2.08" fill="#ffffff"/>
<circle cx="46.91" cy="90.21" r="1.77" fill="#fbfaf5"/>
<circle cx="41.36" cy="105.75" r="2" fill="#dfd9c5"/>
<circle cx="51.14" cy="99.38" r="2.03" fill="#fbfaf5"/>
<circle cx="48.24" cy="115.59" r="1.68" fill="#dfd9c5"/>
<circle cx="43.94" cy="105.84" r="1.58" fill="#ffffff"/>
<circle cx="53.69" cy="112.6" r="1.46" fill="#dfd9c5"/>
<circle cx="55.46" cy="116.03" r="1.77" fill="#ffffff"/>
<circle cx="36.39" cy="111.52" r="2.32" fill="#ffffff"/>
<circle cx="50.18" cy="92.51" r="2.31" fill="#ffffff"/>
<circle cx="36.45" cy="111.68" r="1.81" fill="#ffffff"/>
<circle cx="50.2" cy="113.7" r="2.48" fill="#ffffff"/>
<circle cx="30.3" cy="115.66" r="1.58" fill="#fbfaf5"/>
<circle cx="38.2" cy="111.61" r="1.82" fill="#fbfaf5"/>
<circle cx="33.39" cy="97.75" r="2" fill="#ffffff"/>
<circle cx="49.68" cy="97.71" r="2.68" fill="#ffffff"/>
<circle cx="34.24" cy="90.03" r="2.78" fill="#fbfaf5"/>
<circle cx="43.23" cy="115.46" r="1.35" fill="#ffffff"/>
<circle cx="43.95" cy="110.17" r="2.12" fill="#ffffff"/>
<circle cx="57.94" cy="113.08" r="1.48" fill="#ffffff"/>
<circle cx="37.1" cy="90.85" r="2.69" fill="#fbfaf5"/>
<circle cx="58.16" cy="114.1" r="2.02" fill="#ffffff"/>
<circle cx="33.1" cy="103.44" r="2.09" fill="#ffffff"/>
<circle cx="42.56" cy="115.16" r="1.49" fill="#ffffff"/>
<circle cx="60.6" cy="104.45" r="1.83" fill="#ffffff"/>
<circle cx="35.57" cy="104.28" r="1.66" fill="#ffffff"/>
<circle cx="38.04" cy="113.83" r="2.03" fill="#ebe6d6"/>
<circle cx="47.64" cy="100.67" r="1.7" fill="#ffffff"/>
<circle cx="46.23" cy="101.28" r="2.59" fill="#ffffff"/>
<circle cx="54.24" cy="91.14" r="2.76" fill="#dfd9c5"/>
<circle cx="56.8" cy="92.22" r="1.54" fill="#ffffff"/>
<circle cx="31.52" cy="100.28" r="1.84" fill="#ffffff"/>
<circle cx="35.37" cy="98.74" r="1.31" fill="#fbfaf5"/>
<circle cx="52.55" cy="111.29" r="1.86" fill="#ffffff"/>
<circle cx="48.72" cy="110.95" r="2.23" fill="#ffffff"/>
<circle cx="43.14" cy="99.92" r="1.77" fill="#fbfaf5"/>
<circle cx="59.89" cy="101.15" r="2.1" fill="#ebe6d6"/>
<circle cx="51.65" cy="91.83" r="1.5" fill="#ffffff"/>
<circle cx="30.11" cy="98.66" r="2.49" fill="#fbfaf5"/>
<circle cx="37.67" cy="102.39" r="2.3" fill="#dfd9c5"/>
<circle cx="52.9" cy="105.07" r="2.01" fill="#ebe6d6"/>
<circle cx="36.82" cy="100.36" r="1.45" fill="#fbfaf5"/>
<circle cx="57.64" cy="94.72" r="1.34" fill="#ebe6d6"/>
<circle cx="32.92" cy="102.86" r="2.17" fill="#ffffff"/>
<circle cx="55" cy="90.88" r="2.09" fill="#fbfaf5"/>
<circle cx="36.9" cy="104.82" r="2.13" fill="#ebe6d6"/>
<circle cx="57.28" cy="94.75" r="2.27" fill="#ebe6d6"/>
<circle cx="43.87" cy="108.73" r="1.85" fill="#ffffff"/>
<circle cx="42.01" cy="99.32" r="1.86" fill="#ffffff"/>
<circle cx="36.8" cy="114.9" r="1.92" fill="#ffffff"/>
<circle cx="47.56" cy="105.5" r="2.03" fill="#fbfaf5"/>
<circle cx="49.97" cy="114.04" r="2.05" fill="#ebe6d6"/>
<circle cx="44.82" cy="108.69" r="2.38" fill="#fbfaf5"/>
<circle cx="35.21" cy="97.09" r="2.07" fill="#fbfaf5"/>
<circle cx="59.39" cy="112.81" r="2.31" fill="#ffffff"/>
<circle cx="56.83" cy="105.91" r="2.63" fill="#ffffff"/>
<circle cx="39.12" cy="97.11" r="1.56" fill="#ffffff"/>
<circle cx="40.84" cy="98.56" r="1.93" fill="#ffffff"/>
<circle cx="51.73" cy="108.77" r="2.02" fill="#ebe6d6"/>
<circle cx="52.48" cy="112.94" r="2.62" fill="#fbfaf5"/>
<circle cx="30.68" cy="114.4" r="2.38" fill="#fbfaf5"/>
<circle cx="51.01" cy="115.69" r="2.64" fill="#ffffff"/>
<circle cx="54.26" cy="93.6" r="2.59" fill="#fbfaf5"/>
<circle cx="58.26" cy="96.76" r="1.57" fill="#ffffff"/>
<circle cx="32.14" cy="111.39" r="2.55" fill="#dfd9c5"/>
<circle cx="38.62" cy="99.49" r="1.8" fill="#fbfaf5"/>
<circle cx="30.15" cy="98.82" r="1.62" fill="#ffffff"/>
<circle cx="48.1" cy="115.6" r="1.78" fill="#fbfaf5"/>
<circle cx="57.73" cy="91.95" r="2.63" fill="#ffffff"/>
<circle cx="58.55" cy="92.51" r="2.32" fill="#ffffff"/>
<circle cx="41.1" cy="102.02" r="2.28" fill="#fbfaf5"/>
<circle cx="55.24" cy="97.04" r="2.31" fill="#ffffff"/>
<circle cx="46.52" cy="92.95" r="1.39" fill="#ffffff"/>
<circle cx="38.71" cy="109.48" r="2.27" fill="#fbfaf5"/>
<circle cx="49.58" cy="94.72" r="1.98" fill="#fbfaf5"/>
<circle cx="32.7" cy="104.96" r="2.38" fill="#fbfaf5"/>
<circle cx="48.5" cy="104.83" r="2.02" fill="#ffffff"/>
<circle cx="54.47" cy="108.88" r="2.43" fill="#ebe6d6"/>
<circle cx="46.74" cy="109.8" r="0.58" fill="#cfc6a6"/>
<circle cx="37.79" cy="100.21" r="0.84" fill="#cfc6a6"/>
<circle cx="30.56" cy="103.48" r="0.52" fill="#cfc6a6"/>
<circle cx="54.04" cy="99.43" r="0.57" fill="#cfc6a6"/>
<circle cx="42.23" cy="104.47" r="0.79" fill="#cfc6a6"/>
<circle cx="40.6" cy="112.68" r="0.46" fill="#cfc6a6"/>
<circle cx="37.94" cy="92.58" r="0.46" fill="#cfc6a6"/>
<circle cx="54.36" cy="109.46" r="0.49" fill="#cfc6a6"/>
<circle cx="35.31" cy="101.11" r="0.77" fill="#cfc6a6"/>
<circle cx="55.55" cy="110.04" r="0.7" fill="#cfc6a6"/>
<circle cx="33.93" cy="100.62" r="0.5" fill="#cfc6a6"/>
<circle cx="46.24" cy="105.19" r="0.5" fill="#cfc6a6"/>
<circle cx="37.28" cy="110.93" r="0.42" fill="#cfc6a6"/>
<circle cx="55.14" cy="113.87" r="0.87" fill="#cfc6a6"/>
<circle cx="41.58" cy="104.77" r="0.69" fill="#cfc6a6"/>
<circle cx="49.67" cy="116.18" r="0.74" fill="#cfc6a6"/>
<circle cx="38.87" cy="113.03" r="0.64" fill="#cfc6a6"/>
<circle cx="48.62" cy="109.45" r="0.4" fill="#cfc6a6"/>
<circle cx="54.09" cy="107.71" r="0.65" fill="#cfc6a6"/>
<circle cx="46.11" cy="102.29" r="0.5" fill="#cfc6a6"/>
<circle cx="46.3" cy="90.9" r="0.65" fill="#cfc6a6"/>
<circle cx="50.06" cy="101.85" r="0.68" fill="#cfc6a6"/>
<circle cx="60.18" cy="113.9" r="0.47" fill="#cfc6a6"/>
<circle cx="54.79" cy="106.67" r="0.43" fill="#cfc6a6"/>
<circle cx="40.82" cy="96.18" r="0.44" fill="#cfc6a6"/>
<circle cx="46.61" cy="114.91" r="0.56" fill="#cfc6a6"/>
<circle cx="57.32" cy="108.59" r="0.47" fill="#cfc6a6"/>
<circle cx="56.92" cy="106.07" r="0.86" fill="#cfc6a6"/>
<circle cx="52.33" cy="109.8" r="0.57" fill="#cfc6a6"/>
<circle cx="55.26" cy="114.96" r="0.83" fill="#cfc6a6"/>
</g>
<path d="M68.28,95.28 L69.32,94.67 L71.68,94.8 L74.03,94.91 L75.96,93.87 L77.83,94.85 L79.38,96.02 L81.52,95.89 L83.32,96.67 L83.86,98.41 L86.74,98.47 L88.76,99.17 L89.23,100.21 L91,100.61 L94.2,100.68 L93.47,101.39 L94.11,102.08 L94.79,103.25 L92.87,104.92 L89.68,106.45 L87.91,107.97 L86.42,109.38 L83.8,109.96 L81.7,110.68 L80.21,112.53 L77.94,112.68 L75.97,113.3 L73.73,115.33 L71.7,115.53 L70.41,114.05 L67.71,114.6 L65.87,113.67 L65.5,111.63 L63.78,110.56 L61.63,109.19 L62.76,106.68 L62.58,104.94 L60.96,103.37 L62.34,101.79 L64.29,100.59 L63.49,98.82 L64.09,97.33 L66.78,97.06 L67.59,95.97 L67.21,94.22Z" fill="#f4f1e6" stroke="#dfd9c5" stroke-width="0.6"/>
<clipPath id="cl53599"><path d="M68.28,95.28 L69.32,94.67 L71.68,94.8 L74.03,94.91 L75.96,93.87 L77.83,94.85 L79.38,96.02 L81.52,95.89 L83.32,96.67 L83.86,98.41 L86.74,98.47 L88.76,99.17 L89.23,100.21 L91,100.61 L94.2,100.68 L93.47,101.39 L94.11,102.08 L94.79,103.25 L92.87,104.92 L89.68,106.45 L87.91,107.97 L86.42,109.38 L83.8,109.96 L81.7,110.68 L80.21,112.53 L77.94,112.68 L75.97,113.3 L73.73,115.33 L71.7,115.53 L70.41,114.05 L67.71,114.6 L65.87,113.67 L65.5,111.63 L63.78,110.56 L61.63,109.19 L62.76,106.68 L62.58,104.94 L60.96,103.37 L62.34,101.79 L64.29,100.59 L63.49,98.82 L64.09,97.33 L66.78,97.06 L67.59,95.97 L67.21,94.22Z"/></clipPath><g clip-path="url(#cl53599)">
<circle cx="69.89" cy="95.29" r="1.66" fill="#ffffff"/>
<circle cx="74.84" cy="98.37" r="1.82" fill="#ffffff"/>
<circle cx="66.09" cy="95.55" r="2.77" fill="#ffffff"/>
<circle cx="93.09" cy="110.52" r="1.67" fill="#ffffff"/>
<circle cx="70.77" cy="111.04" r="1.78" fill="#ffffff"/>
<circle cx="63.87" cy="103.34" r="1.46" fill="#ebe6d6"/>
<circle cx="84.47" cy="94.89" r="1.38" fill="#ffffff"/>
<circle cx="83.59" cy="112.78" r="1.81" fill="#dfd9c5"/>
<circle cx="77.79" cy="101.64" r="1.76" fill="#ffffff"/>
<circle cx="82.03" cy="113.71" r="1.58" fill="#dfd9c5"/>
<circle cx="75.63" cy="104.8" r="2.32" fill="#fbfaf5"/>
<circle cx="92.64" cy="98.05" r="1.88" fill="#fbfaf5"/>
<circle cx="92.94" cy="101.79" r="1.96" fill="#dfd9c5"/>
<circle cx="76.67" cy="108.77" r="2.06" fill="#ffffff"/>
<circle cx="86.84" cy="113.08" r="1.36" fill="#ffffff"/>
<circle cx="67.67" cy="109.76" r="2.44" fill="#ffffff"/>
<circle cx="84.35" cy="96.47" r="1.38" fill="#fbfaf5"/>
<circle cx="82.2" cy="95.48" r="2.27" fill="#fbfaf5"/>
<circle cx="94.9" cy="94.53" r="1.81" fill="#ebe6d6"/>
<circle cx="72.27" cy="103.64" r="1.66" fill="#ffffff"/>
<circle cx="63.61" cy="97.6" r="2.78" fill="#fbfaf5"/>
<circle cx="65.7" cy="100.34" r="2.07" fill="#fbfaf5"/>
<circle cx="78.66" cy="112.92" r="2.47" fill="#fbfaf5"/>
<circle cx="77.43" cy="107.13" r="2.2" fill="#ebe6d6"/>
<circle cx="90.34" cy="96.56" r="1.43" fill="#ffffff"/>
<circle cx="77.35" cy="99.02" r="1.46" fill="#fbfaf5"/>
<circle cx="78.02" cy="108.07" r="2.2" fill="#ffffff"/>
<circle cx="76.7" cy="96.75" r="1.97" fill="#fbfaf5"/>
<circle cx="74.52" cy="96.87" r="2.39" fill="#dfd9c5"/>
<circle cx="64.55" cy="101.53" r="2.69" fill="#ffffff"/>
<circle cx="84.65" cy="101.9" r="2.21" fill="#ffffff"/>
<circle cx="69.07" cy="101.62" r="1.65" fill="#ffffff"/>
<circle cx="76.49" cy="99.59" r="2.7" fill="#fbfaf5"/>
<circle cx="85.97" cy="112.26" r="2" fill="#fbfaf5"/>
<circle cx="85.47" cy="111.81" r="2.65" fill="#ffffff"/>
<circle cx="93.34" cy="104.33" r="2" fill="#ffffff"/>
<circle cx="81.39" cy="95.21" r="1.58" fill="#ffffff"/>
<circle cx="65.16" cy="109.16" r="1.39" fill="#fbfaf5"/>
<circle cx="77.58" cy="98.45" r="1.95" fill="#ffffff"/>
<circle cx="73.38" cy="109.56" r="1.51" fill="#ffffff"/>
<circle cx="76.65" cy="112.94" r="1.53" fill="#ffffff"/>
<circle cx="87.17" cy="108.72" r="1.86" fill="#fbfaf5"/>
<circle cx="67.32" cy="100.83" r="2.8" fill="#fbfaf5"/>
<circle cx="69.35" cy="113.92" r="1.99" fill="#ffffff"/>
<circle cx="91.26" cy="110.88" r="2.7" fill="#ebe6d6"/>
<circle cx="79.15" cy="94.79" r="2.1" fill="#ffffff"/>
<circle cx="67.47" cy="95.52" r="1.83" fill="#ffffff"/>
<circle cx="93.87" cy="101.87" r="1.58" fill="#ffffff"/>
<circle cx="62.44" cy="103.28" r="2.21" fill="#ffffff"/>
<circle cx="88.77" cy="103.64" r="1.93" fill="#dfd9c5"/>
<circle cx="70.59" cy="95.39" r="2.79" fill="#fbfaf5"/>
<circle cx="67.46" cy="109.96" r="2.42" fill="#ffffff"/>
<circle cx="89.77" cy="102.87" r="2.13" fill="#ffffff"/>
<circle cx="71.23" cy="97.93" r="2.65" fill="#ebe6d6"/>
<circle cx="91.9" cy="103.99" r="2.07" fill="#fbfaf5"/>
<circle cx="74.24" cy="107.33" r="2.33" fill="#ffffff"/>
<circle cx="94.74" cy="105.61" r="1.97" fill="#ffffff"/>
<circle cx="71.19" cy="99.69" r="1.53" fill="#fbfaf5"/>
<circle cx="72.39" cy="105.1" r="2.54" fill="#ffffff"/>
<circle cx="92.73" cy="106.93" r="2.03" fill="#ebe6d6"/>
<circle cx="71.24" cy="108.9" r="1.95" fill="#ffffff"/>
<circle cx="64.5" cy="95.18" r="1.97" fill="#fbfaf5"/>
<circle cx="72.28" cy="101.52" r="1.77" fill="#ffffff"/>
<circle cx="70.94" cy="113.78" r="2.22" fill="#ffffff"/>
<circle cx="80.32" cy="95.22" r="2.77" fill="#ffffff"/>
<circle cx="64.62" cy="99.16" r="2.35" fill="#ffffff"/>
<circle cx="65.8" cy="107.34" r="2.71" fill="#ebe6d6"/>
<circle cx="94.15" cy="108.55" r="1.99" fill="#ffffff"/>
<circle cx="71.55" cy="105.86" r="2.74" fill="#dfd9c5"/>
<circle cx="66.76" cy="112.88" r="2.31" fill="#dfd9c5"/>
<circle cx="83.35" cy="97.39" r="1.77" fill="#ebe6d6"/>
<circle cx="83.41" cy="97.15" r="2.1" fill="#ebe6d6"/>
<circle cx="74.62" cy="96.67" r="1.72" fill="#ffffff"/>
<circle cx="66.33" cy="97.45" r="2.71" fill="#ffffff"/>
<circle cx="81.92" cy="113.47" r="2.8" fill="#dfd9c5"/>
<circle cx="94.34" cy="99.49" r="1.46" fill="#ffffff"/>
<circle cx="89.95" cy="104.1" r="2.42" fill="#fbfaf5"/>
<circle cx="87.8" cy="106.05" r="1.76" fill="#fbfaf5"/>
<circle cx="66.92" cy="103.76" r="1.74" fill="#fbfaf5"/>
<circle cx="86.74" cy="109.68" r="1.78" fill="#ebe6d6"/>
<circle cx="89.72" cy="97.15" r="0.7" fill="#cfc6a6"/>
<circle cx="63.88" cy="106.97" r="0.49" fill="#cfc6a6"/>
<circle cx="80.92" cy="97.71" r="0.46" fill="#cfc6a6"/>
<circle cx="75.31" cy="106.05" r="0.59" fill="#cfc6a6"/>
<circle cx="85" cy="100.09" r="0.63" fill="#cfc6a6"/>
<circle cx="81.17" cy="101.11" r="0.7" fill="#cfc6a6"/>
<circle cx="69.21" cy="103.76" r="0.68" fill="#cfc6a6"/>
<circle cx="83.01" cy="106.5" r="0.75" fill="#cfc6a6"/>
<circle cx="87.44" cy="109.18" r="0.57" fill="#cfc6a6"/>
<circle cx="84.78" cy="101.43" r="0.89" fill="#cfc6a6"/>
<circle cx="71.82" cy="98.2" r="0.7" fill="#cfc6a6"/>
<circle cx="69.3" cy="114.71" r="0.76" fill="#cfc6a6"/>
<circle cx="70.2" cy="103.32" r="0.53" fill="#cfc6a6"/>
<circle cx="66.29" cy="101.29" r="0.79" fill="#cfc6a6"/>
<circle cx="67.8" cy="107.09" r="0.66" fill="#cfc6a6"/>
<circle cx="94.82" cy="95.55" r="0.61" fill="#cfc6a6"/>
<circle cx="80.15" cy="106.89" r="0.55" fill="#cfc6a6"/>
<circle cx="69.8" cy="102.25" r="0.51" fill="#cfc6a6"/>
<circle cx="64.47" cy="104.93" r="0.43" fill="#cfc6a6"/>
<circle cx="78.3" cy="96.89" r="0.77" fill="#cfc6a6"/>
<circle cx="74.86" cy="105.88" r="0.41" fill="#cfc6a6"/>
<circle cx="74.28" cy="102.03" r="0.62" fill="#cfc6a6"/>
<circle cx="91.96" cy="108.41" r="0.45" fill="#cfc6a6"/>
<circle cx="78.34" cy="101.06" r="0.4" fill="#cfc6a6"/>
<circle cx="64.12" cy="94.5" r="0.84" fill="#cfc6a6"/>
<circle cx="68.9" cy="103.33" r="0.5" fill="#cfc6a6"/>
</g>
<path d="M145.65,79.4 L147.22,78.65 L150.18,79.78 L152.62,78.68 L155.06,77.99 L157.28,78.5 L158.95,80.39 L161.5,80.37 L163.13,81.87 L164.07,83.99 L165.01,86.11 L167.48,87.63 L166.63,90.12 L167.29,92.05 L168.08,94.22 L167.06,96.21 L165.42,97.75 L165.65,100.23 L163.91,101.82 L160.98,101.89 L160.2,104.34 L158.28,105.2 L155.71,103.57 L154.04,105.58 L151.93,106.52 L149.99,105.22 L148.01,104.44 L144.99,105.28 L144.45,102.49 L143.67,100.61 L140.94,100.06 L139.23,98.4 L140.8,95.66 L139.82,93.78 L138.01,91.43 L139.97,89.3 L140.14,87.06 L140.89,84.72 L143.25,83.14 L144.92,81.38 L145.93,79.88Z" fill="#f6f4ec" stroke="#e2ddcb" stroke-width="0.6"/>
<clipPath id="cl662028"><path d="M145.65,79.4 L147.22,78.65 L150.18,79.78 L152.62,78.68 L155.06,77.99 L157.28,78.5 L158.95,80.39 L161.5,80.37 L163.13,81.87 L164.07,83.99 L165.01,86.11 L167.48,87.63 L166.63,90.12 L167.29,92.05 L168.08,94.22 L167.06,96.21 L165.42,97.75 L165.65,100.23 L163.91,101.82 L160.98,101.89 L160.2,104.34 L158.28,105.2 L155.71,103.57 L154.04,105.58 L151.93,106.52 L149.99,105.22 L148.01,104.44 L144.99,105.28 L144.45,102.49 L143.67,100.61 L140.94,100.06 L139.23,98.4 L140.8,95.66 L139.82,93.78 L138.01,91.43 L139.97,89.3 L140.14,87.06 L140.89,84.72 L143.25,83.14 L144.92,81.38 L145.93,79.88Z"/></clipPath><g clip-path="url(#cl662028)">
<circle cx="164.36" cy="101.06" r="2.62" fill="#e2ddcb"/>
<circle cx="145.78" cy="87.31" r="1.38" fill="#ffffff"/>
<circle cx="153.9" cy="103.15" r="2.16" fill="#ffffff"/>
<circle cx="141.87" cy="84.84" r="1.89" fill="#fbfaf5"/>
<circle cx="149.06" cy="90.95" r="1.6" fill="#ffffff"/>
<circle cx="147.8" cy="103.07" r="2.23" fill="#e2ddcb"/>
<circle cx="149.37" cy="99.49" r="2.41" fill="#fbfaf5"/>
<circle cx="145.16" cy="80.13" r="2.24" fill="#ffffff"/>
<circle cx="153.22" cy="101.81" r="2.71" fill="#ecE8da"/>
<circle cx="142.83" cy="103.44" r="1.77" fill="#ffffff"/>
<circle cx="160.48" cy="87.43" r="2.55" fill="#fbfaf5"/>
<circle cx="141.08" cy="89.46" r="1.73" fill="#ffffff"/>
<circle cx="149.11" cy="79.94" r="1.47" fill="#fbfaf5"/>
<circle cx="145.63" cy="90.57" r="2.02" fill="#ffffff"/>
<circle cx="145.31" cy="100.63" r="1.56" fill="#ffffff"/>
<circle cx="160.38" cy="89.26" r="1.57" fill="#fbfaf5"/>
<circle cx="147.89" cy="88.72" r="2.04" fill="#e2ddcb"/>
<circle cx="155.6" cy="85.83" r="2.04" fill="#fbfaf5"/>
<circle cx="150.32" cy="92.17" r="2.79" fill="#ffffff"/>
<circle cx="152.93" cy="83.38" r="2.6" fill="#ffffff"/>
<circle cx="143.51" cy="87.27" r="2.58" fill="#ffffff"/>
<circle cx="152.78" cy="93.22" r="1.86" fill="#ffffff"/>
<circle cx="140.66" cy="87.98" r="1.44" fill="#fbfaf5"/>
<circle cx="160.66" cy="93.59" r="2.63" fill="#fbfaf5"/>
<circle cx="154.55" cy="105.48" r="2.28" fill="#fbfaf5"/>
<circle cx="165.18" cy="90.05" r="1.93" fill="#ffffff"/>
<circle cx="149.79" cy="83.45" r="2.14" fill="#ffffff"/>
<circle cx="150.22" cy="81.49" r="2.67" fill="#ffffff"/>
<circle cx="153.01" cy="93.27" r="2.13" fill="#ffffff"/>
<circle cx="149.67" cy="98.26" r="1.6" fill="#fbfaf5"/>
<circle cx="153.54" cy="83.06" r="2.68" fill="#ecE8da"/>
<circle cx="163.65" cy="92.57" r="2.02" fill="#ffffff"/>
<circle cx="158.52" cy="84.79" r="2.72" fill="#ffffff"/>
<circle cx="152.75" cy="90.35" r="1.58" fill="#fbfaf5"/>
<circle cx="155.38" cy="92.44" r="1.67" fill="#ecE8da"/>
<circle cx="146.68" cy="87.99" r="1.45" fill="#ffffff"/>
<circle cx="159.06" cy="98.99" r="1.8" fill="#e2ddcb"/>
<circle cx="142.69" cy="101.12" r="2.3" fill="#ecE8da"/>
<circle cx="146.99" cy="92.39" r="2.42" fill="#ffffff"/>
<circle cx="153.52" cy="97.26" r="1.69" fill="#ffffff"/>
<circle cx="154.63" cy="94.49" r="1.35" fill="#ffffff"/>
<circle cx="151.49" cy="78.54" r="2.06" fill="#ffffff"/>
<circle cx="166" cy="101.65" r="1.69" fill="#ffffff"/>
<circle cx="156.97" cy="93.89" r="1.6" fill="#ffffff"/>
<circle cx="143.91" cy="105.27" r="1.94" fill="#ffffff"/>
<circle cx="147.53" cy="81.69" r="2.4" fill="#fbfaf5"/>
<circle cx="146.7" cy="80.87" r="1.51" fill="#fbfaf5"/>
<circle cx="139.7" cy="80.76" r="2.36" fill="#ffffff"/>
<circle cx="154.87" cy="96.61" r="2.35" fill="#ffffff"/>
<circle cx="139.56" cy="86.19" r="1.31" fill="#ffffff"/>
<circle cx="148.86" cy="98.33" r="1.45" fill="#ffffff"/>
<circle cx="161.8" cy="89.11" r="2.7" fill="#ffffff"/>
<circle cx="159.55" cy="95.62" r="2.5" fill="#ffffff"/>
<circle cx="149.1" cy="84.78" r="1.89" fill="#ffffff"/>
<circle cx="166.78" cy="81.63" r="1.74" fill="#ffffff"/>
<circle cx="140.19" cy="79.22" r="1.98" fill="#ffffff"/>
<circle cx="153.69" cy="95.98" r="2.29" fill="#ffffff"/>
<circle cx="159.95" cy="92.74" r="2.5" fill="#ffffff"/>
<circle cx="144.44" cy="90.84" r="2.69" fill="#ffffff"/>
<circle cx="155.68" cy="95.52" r="1.76" fill="#ffffff"/>
<circle cx="154.01" cy="84.67" r="1.48" fill="#ffffff"/>
<circle cx="153.39" cy="91.59" r="1.33" fill="#ffffff"/>
<circle cx="140.14" cy="95.47" r="2.66" fill="#e2ddcb"/>
<circle cx="140.83" cy="96.93" r="2.04" fill="#ffffff"/>
<circle cx="161.15" cy="100.39" r="1.91" fill="#ecE8da"/>
<circle cx="157.56" cy="81.6" r="1.43" fill="#ffffff"/>
<circle cx="160.21" cy="92.99" r="1.51" fill="#fbfaf5"/>
<circle cx="144.07" cy="104.76" r="1.31" fill="#fbfaf5"/>
<circle cx="141.4" cy="96.96" r="2.3" fill="#ffffff"/>
<circle cx="148.75" cy="99.87" r="2.2" fill="#ffffff"/>
<circle cx="140.3" cy="86.84" r="2.48" fill="#ffffff"/>
<circle cx="160.29" cy="84.11" r="2.42" fill="#e2ddcb"/>
<circle cx="166.1" cy="91.52" r="2.2" fill="#e2ddcb"/>
<circle cx="157.94" cy="105.74" r="1.66" fill="#e2ddcb"/>
<circle cx="144.55" cy="81.18" r="1.98" fill="#fbfaf5"/>
<circle cx="151.49" cy="90.01" r="1.95" fill="#ffffff"/>
<circle cx="140.61" cy="98.51" r="2.66" fill="#ffffff"/>
<circle cx="150.38" cy="92.86" r="2.45" fill="#ecE8da"/>
<circle cx="140.36" cy="89.78" r="2.45" fill="#fbfaf5"/>
<circle cx="152.8" cy="88.83" r="2.22" fill="#ffffff"/>
<circle cx="152.69" cy="80.09" r="2.67" fill="#ffffff"/>
<circle cx="144.9" cy="102.82" r="1.45" fill="#fbfaf5"/>
<circle cx="162.2" cy="89.31" r="1.48" fill="#ffffff"/>
<circle cx="156.03" cy="104.35" r="2.66" fill="#ecE8da"/>
<circle cx="151.6" cy="82.46" r="1.93" fill="#fbfaf5"/>
<circle cx="148.28" cy="90.59" r="2.12" fill="#ffffff"/>
<circle cx="155.92" cy="87.86" r="2.76" fill="#ffffff"/>
<circle cx="147.34" cy="80.84" r="2.58" fill="#ffffff"/>
<circle cx="163.74" cy="87.62" r="1.8" fill="#ffffff"/>
<circle cx="147.93" cy="84.39" r="2.39" fill="#fbfaf5"/>
<circle cx="139.55" cy="96.09" r="0.81" fill="#cfc6a6"/>
<circle cx="146.17" cy="82.47" r="0.54" fill="#cfc6a6"/>
<circle cx="155.78" cy="100.1" r="0.57" fill="#cfc6a6"/>
<circle cx="147.58" cy="87.91" r="0.51" fill="#cfc6a6"/>
<circle cx="145.06" cy="95.57" r="0.79" fill="#cfc6a6"/>
<circle cx="152.13" cy="85.35" r="0.67" fill="#cfc6a6"/>
<circle cx="150.48" cy="94.29" r="0.81" fill="#cfc6a6"/>
<circle cx="154.12" cy="90.81" r="0.5" fill="#cfc6a6"/>
<circle cx="149.21" cy="80.92" r="0.61" fill="#cfc6a6"/>
<circle cx="161" cy="98.03" r="0.8" fill="#cfc6a6"/>
<circle cx="161.15" cy="85" r="0.77" fill="#cfc6a6"/>
<circle cx="156.4" cy="81.84" r="0.49" fill="#cfc6a6"/>
<circle cx="148.4" cy="94.9" r="0.51" fill="#cfc6a6"/>
<circle cx="140.82" cy="99.77" r="0.7" fill="#cfc6a6"/>
<circle cx="141.39" cy="102.85" r="0.68" fill="#cfc6a6"/>
<circle cx="140.06" cy="90.58" r="0.75" fill="#cfc6a6"/>
<circle cx="167.25" cy="83.1" r="0.4" fill="#cfc6a6"/>
<circle cx="161.26" cy="88.59" r="0.83" fill="#cfc6a6"/>
<circle cx="147.23" cy="101.64" r="0.5" fill="#cfc6a6"/>
<circle cx="152.31" cy="91.42" r="0.75" fill="#cfc6a6"/>
<circle cx="159.84" cy="104" r="0.56" fill="#cfc6a6"/>
<circle cx="155.19" cy="93.12" r="0.41" fill="#cfc6a6"/>
<circle cx="141.56" cy="86.82" r="0.52" fill="#cfc6a6"/>
<circle cx="154.28" cy="96.51" r="0.49" fill="#cfc6a6"/>
<circle cx="159.99" cy="104.77" r="0.56" fill="#cfc6a6"/>
<circle cx="149.58" cy="78.62" r="0.51" fill="#cfc6a6"/>
<circle cx="148.76" cy="78.9" r="0.71" fill="#cfc6a6"/>
<circle cx="166.85" cy="83.01" r="0.72" fill="#cfc6a6"/>
<circle cx="153.46" cy="88.01" r="0.64" fill="#cfc6a6"/>
<circle cx="139.74" cy="91.06" r="0.62" fill="#cfc6a6"/>
</g>
<path d="M237.67,103.63 L239.31,103.36 L241.73,103.64 L243.88,102.54 L246.24,101.61 L247.85,102.79 L249.32,103.8 L252.03,103.66 L253.39,104.78 L253.12,106.67 L255.67,107.71 L256.69,109.42 L255.21,110.97 L255.51,112.42 L255.76,114.15 L253.18,114.89 L251.28,115.51 L250.14,116.62 L248.52,117.75 L245.9,117.19 L244.02,118.35 L241.68,118.94 L239.95,117.37 L237.81,117.36 L235.78,117.19 L234.68,116.17 L234.62,114.53 L233.53,113.4 L233.07,112.06 L234.18,110.66 L232.67,109.32 L233.32,108.06 L234.43,107.15 L235.36,106.28 L235.86,105.07 L237.51,104.78 L238.03,104.04Z" fill="#d9d2bf" stroke="#bfb69c" stroke-width="0.6"/>
<clipPath id="cl81811"><path d="M237.67,103.63 L239.31,103.36 L241.73,103.64 L243.88,102.54 L246.24,101.61 L247.85,102.79 L249.32,103.8 L252.03,103.66 L253.39,104.78 L253.12,106.67 L255.67,107.71 L256.69,109.42 L255.21,110.97 L255.51,112.42 L255.76,114.15 L253.18,114.89 L251.28,115.51 L250.14,116.62 L248.52,117.75 L245.9,117.19 L244.02,118.35 L241.68,118.94 L239.95,117.37 L237.81,117.36 L235.78,117.19 L234.68,116.17 L234.62,114.53 L233.53,113.4 L233.07,112.06 L234.18,110.66 L232.67,109.32 L233.32,108.06 L234.43,107.15 L235.36,106.28 L235.86,105.07 L237.51,104.78 L238.03,104.04Z"/></clipPath><g clip-path="url(#cl81811)">
<circle cx="238.63" cy="104.97" r="2.51" fill="#e8e3d4"/>
<circle cx="238.78" cy="116.56" r="1.8" fill="#e8e3d4"/>
<circle cx="250.49" cy="114.52" r="1.58" fill="#c9c0a8"/>
<circle cx="242.02" cy="107.13" r="1.95" fill="#f5f2ea"/>
<circle cx="238.23" cy="103.97" r="2.4" fill="#f5f2ea"/>
<circle cx="243.23" cy="103.25" r="2.29" fill="#f5f2ea"/>
<circle cx="246.82" cy="112.03" r="2.42" fill="#f5f2ea"/>
<circle cx="250.73" cy="113.98" r="1.43" fill="#e8e3d4"/>
<circle cx="248.81" cy="115.08" r="2.37" fill="#e8e3d4"/>
<circle cx="237.91" cy="106.49" r="2.66" fill="#f5f2ea"/>
<circle cx="239.24" cy="117.87" r="2.74" fill="#f5f2ea"/>
<circle cx="243.55" cy="111.22" r="1.59" fill="#f5f2ea"/>
<circle cx="244.93" cy="103.98" r="2.03" fill="#e8e3d4"/>
<circle cx="234.39" cy="114.72" r="1.57" fill="#e8e3d4"/>
<circle cx="243.65" cy="111.21" r="2.01" fill="#f5f2ea"/>
<circle cx="238.77" cy="105.55" r="1.82" fill="#c9c0a8"/>
<circle cx="233.55" cy="102.99" r="1.56" fill="#efebe0"/>
<circle cx="241.53" cy="115.26" r="2.25" fill="#f5f2ea"/>
<circle cx="234.78" cy="114.12" r="1.51" fill="#e8e3d4"/>
<circle cx="239.77" cy="106.29" r="2.17" fill="#e8e3d4"/>
<circle cx="236.72" cy="109.09" r="2" fill="#efebe0"/>
<circle cx="242.39" cy="102.75" r="1.42" fill="#f5f2ea"/>
<circle cx="253.88" cy="108.94" r="1.57" fill="#efebe0"/>
<circle cx="251.21" cy="103.89" r="2.33" fill="#e8e3d4"/>
<circle cx="242.84" cy="106.3" r="1.36" fill="#bfb69c"/>
<circle cx="239.32" cy="108.15" r="1.82" fill="#f5f2ea"/>
<circle cx="242.61" cy="102.72" r="1.83" fill="#f5f2ea"/>
<circle cx="244.72" cy="114.08" r="2.34" fill="#e8e3d4"/>
<circle cx="239.82" cy="104.88" r="1.3" fill="#f5f2ea"/>
<circle cx="247.87" cy="109.98" r="2.77" fill="#bfb69c"/>
<circle cx="250.33" cy="110.65" r="2.63" fill="#e8e3d4"/>
<circle cx="237.08" cy="115.31" r="2.44" fill="#e8e3d4"/>
<circle cx="242.14" cy="105.62" r="2.61" fill="#efebe0"/>
<circle cx="248.16" cy="108.05" r="1.75" fill="#e8e3d4"/>
<circle cx="253.57" cy="112.74" r="2.46" fill="#f5f2ea"/>
<circle cx="236.83" cy="107.77" r="2.63" fill="#bfb69c"/>
<circle cx="250.32" cy="106.74" r="2.28" fill="#bfb69c"/>
<circle cx="238.16" cy="113.64" r="2.61" fill="#e8e3d4"/>
<circle cx="239.28" cy="106.25" r="2.77" fill="#efebe0"/>
<circle cx="235.88" cy="111.31" r="2.62" fill="#f5f2ea"/>
<circle cx="242.61" cy="115.63" r="2.12" fill="#f5f2ea"/>
<circle cx="254.32" cy="107.26" r="2.09" fill="#f5f2ea"/>
<circle cx="239.15" cy="116.93" r="2.45" fill="#e8e3d4"/>
<circle cx="248.4" cy="106.47" r="2.59" fill="#f5f2ea"/>
<circle cx="250.44" cy="114.26" r="1.32" fill="#bfb69c"/>
<circle cx="246" cy="110.01" r="1.95" fill="#bfb69c"/>
<circle cx="235.99" cy="108.51" r="1.83" fill="#e8e3d4"/>
<circle cx="253.4" cy="108.65" r="1.41" fill="#c9c0a8"/>
<circle cx="239.04" cy="114.43" r="2.59" fill="#c9c0a8"/>
<circle cx="246.56" cy="107.83" r="2.17" fill="#efebe0"/>
<circle cx="247.38" cy="107.43" r="0.6" fill="#cfc6a6"/>
<circle cx="255.52" cy="117.56" r="0.4" fill="#cfc6a6"/>
<circle cx="237.78" cy="105.91" r="0.8" fill="#cfc6a6"/>
<circle cx="237.87" cy="105.04" r="0.78" fill="#cfc6a6"/>
<circle cx="237.17" cy="117.65" r="0.63" fill="#cfc6a6"/>
<circle cx="253.44" cy="115.19" r="0.5" fill="#cfc6a6"/>
<circle cx="250.92" cy="108.87" r="0.51" fill="#cfc6a6"/>
<circle cx="234.43" cy="113.37" r="0.68" fill="#cfc6a6"/>
<circle cx="240.16" cy="115.39" r="0.5" fill="#cfc6a6"/>
<circle cx="243.32" cy="103.76" r="0.58" fill="#cfc6a6"/>
<circle cx="253.13" cy="110.2" r="0.48" fill="#cfc6a6"/>
<circle cx="238.68" cy="112.45" r="0.54" fill="#cfc6a6"/>
<circle cx="253.18" cy="103.34" r="0.83" fill="#cfc6a6"/>
<circle cx="247.27" cy="115.23" r="0.58" fill="#cfc6a6"/>
<circle cx="234.94" cy="105.09" r="0.71" fill="#cfc6a6"/>
<circle cx="233.98" cy="104.12" r="0.79" fill="#cfc6a6"/>
</g>
<line x1="139" y1="101.9" x2="118.7" y2="101.9" stroke="#6cc8dc" stroke-width="1.3" opacity="0.85" stroke-dasharray="1.6,0.6"/>
<polygon points="111.7,101.9 118.7,98.1 118.7,105.7" fill="#3bbad6"/>
<line x1="164.3" y1="101.9" x2="185.6" y2="101.9" stroke="#6cc8dc" stroke-width="1.3" opacity="0.85" stroke-dasharray="1.6,0.6"/>
<polygon points="192.6,101.9 185.6,105.7 185.6,98.1" fill="#3bbad6"/>
<line x1="152.2" y1="105.8" x2="152.2" y2="114.4" stroke="#6cc8dc" stroke-width="1.3" opacity="0.85" stroke-dasharray="1.6,0.6"/>
<polygon points="152.2,121.4 148.4,114.4 156,114.4" fill="#3bbad6"/>
<line x1="152.6" y1="80.5" x2="152.6" y2="79.1" stroke="#6cc8dc" stroke-width="1.3" opacity="0.85" stroke-dasharray="1.6,0.6"/>
<polygon points="152.6,75.6 155.2,79.1 150,79.1" fill="#3bbad6"/>
<polyline points="53.98,65.29 54.51,65.3 55.02,65.5 55.52,65.8 56.03,65.93 56.59,65.71 57.17,65.22 57.74,64.85 58.25,65 58.7,65.75 59.13,66.7 59.6,67.22 60.17,66.87 60.81,65.8 61.44,64.87 61.99,64.73 62.43,65.5 62.83,66.72 63.27,67.62 63.79,67.65 64.41,66.83 65.06,65.73 65.65,65.1 66.15,65.4 66.57,66.47" fill="none" stroke="#e47272" stroke-width="1" stroke-linejoin="round" stroke-linecap="round" opacity="0.95"/>
<line x1="59.13" y1="66.7" x2="60.94" y2="65.12" stroke="#e47272" stroke-width="0.7" opacity="0.9"/>
<line x1="62.43" y1="65.5" x2="63.56" y2="67.62" stroke="#e47272" stroke-width="0.7" opacity="0.9"/>
<line x1="65.06" y1="65.73" x2="66.83" y2="67.35" stroke="#e47272" stroke-width="0.7" opacity="0.9"/>
<line x1="65.06" y1="65.73" x2="67.54" y2="64.05" stroke="#e47272" stroke-width="0.5" opacity="0.85"/>
<polyline points="53.47,67.79 53.89,67.9 54.36,67.85 54.82,67.83 55.21,68.07 55.5,68.61 55.77,69.19 56.16,69.43 56.71,69.11 57.38,68.44 57.99,67.95 58.38,68.16 58.53,69.15 58.61,70.35 58.88,70.97 59.42,70.69 60.16,69.76 60.89,68.9 61.4,68.74 61.62,69.47 61.7,70.71 61.84,71.72 62.24,71.92 62.89,71.28 63.66,70.28" fill="none" stroke="#e06666" stroke-width="1" stroke-linejoin="round" stroke-linecap="round" opacity="0.95"/>
<line x1="57.99" y1="67.95" x2="60.01" y2="66.67" stroke="#e06666" stroke-width="0.7" opacity="0.9"/>
<line x1="60.16" y1="69.76" x2="61.58" y2="71.7" stroke="#e06666" stroke-width="0.7" opacity="0.9"/>
<line x1="61.84" y1="71.72" x2="62.67" y2="73.97" stroke="#e06666" stroke-width="0.7" opacity="0.9"/>
<line x1="61.84" y1="71.72" x2="63.47" y2="74.24" stroke="#e06666" stroke-width="0.5" opacity="0.85"/>
<polyline points="52.65,69.81 53.09,69.97 53.43,70.3 53.73,70.73 54.1,71.02 54.63,70.98 55.29,70.7 55.89,70.51 56.27,70.78 56.37,71.59 56.37,72.61 56.56,73.26 57.14,73.13 58.05,72.33 58.91,71.64 59.43,71.63 59.53,72.46 59.41,73.7 59.43,74.69 59.83,74.91 60.63,74.35 61.56,73.51 62.29,73.08 62.61,73.47 62.57,74.57" fill="none" stroke="#d65454" stroke-width="1" stroke-linejoin="round" stroke-linecap="round" opacity="0.95"/>
<line x1="56.37" y1="72.61" x2="58.74" y2="72.21" stroke="#d65454" stroke-width="0.7" opacity="0.9"/>
<line x1="59.53" y1="72.46" x2="60.66" y2="74.57" stroke="#d65454" stroke-width="0.7" opacity="0.9"/>
<line x1="61.56" y1="73.51" x2="63.9" y2="72.96" stroke="#d65454" stroke-width="0.7" opacity="0.9"/>
<line x1="61.56" y1="73.51" x2="62.74" y2="76.26" stroke="#d65454" stroke-width="0.5" opacity="0.85"/>
<polyline points="49.19,74.12 49.46,74.55 49.87,74.86 50.39,75.09 50.81,75.4 50.94,75.94 50.84,76.67 50.78,77.37 51.09,77.76 51.9,77.76 52.94,77.56 53.71,77.59 53.82,78.15 53.29,79.22 52.78,80.28 52.83,80.89 53.61,80.91 54.82,80.58 55.87,80.37 56.29,80.68 56.01,81.56 55.41,82.69 55.11,83.59 55.5,83.92 56.54,83.72" fill="none" stroke="#da5a5a" stroke-width="1" stroke-linejoin="round" stroke-linecap="round" opacity="0.95"/>
<line x1="52.94" y1="77.56" x2="52.57" y2="79.93" stroke="#da5a5a" stroke-width="0.7" opacity="0.9"/>
<line x1="53.61" y1="80.91" x2="55.92" y2="81.57" stroke="#da5a5a" stroke-width="0.7" opacity="0.9"/>
<line x1="55.41" y1="82.69" x2="55.3" y2="85.09" stroke="#da5a5a" stroke-width="0.7" opacity="0.9"/>
<line x1="55.41" y1="82.69" x2="58.36" y2="83.25" stroke="#da5a5a" stroke-width="0.5" opacity="0.85"/>
<polyline points="46.78,75.67 47,76.03 47.05,76.47 47.03,76.95 47.19,77.34 47.68,77.56 48.35,77.7 48.85,77.91 48.86,78.38 48.37,79.09 47.79,79.85 47.68,80.37 48.37,80.5 49.6,80.35 50.58,80.33 50.8,80.69 50.22,81.45 49.36,82.35 48.9,83.04 49.27,83.33 50.34,83.27 51.54,83.13 52.2,83.27 52.02,83.83 51.24,84.69" fill="none" stroke="#d65454" stroke-width="1" stroke-linejoin="round" stroke-linecap="round" opacity="0.95"/>
<line x1="47.79" y1="79.85" x2="50.16" y2="80.25" stroke="#d65454" stroke-width="0.7" opacity="0.9"/>
<line x1="50.22" y1="81.45" x2="49.24" y2="83.64" stroke="#d65454" stroke-width="0.7" opacity="0.9"/>
<line x1="51.54" y1="83.13" x2="51.16" y2="85.5" stroke="#d65454" stroke-width="0.7" opacity="0.9"/>
<line x1="51.54" y1="83.13" x2="50.84" y2="86.05" stroke="#d65454" stroke-width="0.5" opacity="0.85"/>
<polyline points="43.14,76.86 43.12,77.36 43.25,77.82 43.58,78.25 43.94,78.68 44.01,79.16 43.67,79.7 43.13,80.29 42.84,80.82 43.19,81.25 44.12,81.58 45.12,81.9 45.52,82.32 44.9,82.91 43.83,83.59 43.06,84.21 43.15,84.68 44.09,85.01 45.32,85.28 46.09,85.64 45.95,86.15 45.04,86.8 44.01,87.47 43.6,88.03 44.12,88.42" fill="none" stroke="#da5a5a" stroke-width="1" stroke-linejoin="round" stroke-linecap="round" opacity="0.95"/>
<line x1="44.12" y1="81.58" x2="42.5" y2="83.35" stroke="#da5a5a" stroke-width="0.7" opacity="0.9"/>
<line x1="43.15" y1="84.68" x2="41.7" y2="86.6" stroke="#da5a5a" stroke-width="0.7" opacity="0.9"/>
<line x1="45.04" y1="86.8" x2="43.91" y2="88.92" stroke="#da5a5a" stroke-width="0.7" opacity="0.9"/>
<line x1="45.04" y1="86.8" x2="43.53" y2="89.39" stroke="#da5a5a" stroke-width="0.5" opacity="0.85"/>
<polyline points="39.49,76.98 39.51,77.47 39.62,77.97 39.6,78.46 39.28,78.92 38.79,79.35 38.46,79.81 38.61,80.31 39.24,80.87 39.94,81.44 40.12,81.95 39.5,82.37 38.34,82.74 37.46,83.13 37.47,83.62 38.32,84.2 39.42,84.81 40.02,85.37 39.69,85.82 38.61,86.19 37.45,86.56 36.95,86.99 37.39,87.53 38.45,88.14 39.4,88.73" fill="none" stroke="#da5a5a" stroke-width="1" stroke-linejoin="round" stroke-linecap="round" opacity="0.95"/>
<line x1="40.12" y1="81.95" x2="38.35" y2="83.57" stroke="#da5a5a" stroke-width="0.7" opacity="0.9"/>
<line x1="39.42" y1="84.81" x2="41.04" y2="86.59" stroke="#da5a5a" stroke-width="0.7" opacity="0.9"/>
<line x1="36.95" y1="86.99" x2="34.96" y2="88.33" stroke="#da5a5a" stroke-width="0.7" opacity="0.9"/>
<line x1="36.95" y1="86.99" x2="38.62" y2="89.48" stroke="#da5a5a" stroke-width="0.5" opacity="0.85"/>
<polyline points="35.23,75.77 35.02,76.23 34.96,76.77 34.9,77.3 34.6,77.72 34.01,78 33.34,78.24 32.98,78.63 33.14,79.27 33.68,80.09 34.09,80.85 33.86,81.3 32.87,81.39 31.62,81.36 30.87,81.56 30.97,82.17 31.72,83.09 32.47,84.01 32.6,84.64 31.87,84.85 30.63,84.82 29.53,84.86 29.16,85.24 29.62,86.02 30.46,86.99" fill="none" stroke="#e47272" stroke-width="1" stroke-linejoin="round" stroke-linecap="round" opacity="0.95"/>
<line x1="34.09" y1="80.85" x2="34.6" y2="83.19" stroke="#e47272" stroke-width="0.7" opacity="0.9"/>
<line x1="31.72" y1="83.09" x2="32.31" y2="85.41" stroke="#e47272" stroke-width="0.7" opacity="0.9"/>
<line x1="29.53" y1="84.86" x2="27.3" y2="85.74" stroke="#e47272" stroke-width="0.7" opacity="0.9"/>
<line x1="29.53" y1="84.86" x2="26.8" y2="86.09" stroke="#e47272" stroke-width="0.5" opacity="0.85"/>
<polyline points="31.03,72.6 30.71,72.93 30.49,73.37 30.21,73.76 29.75,73.93 29.11,73.89 28.49,73.89 28.16,74.21 28.19,74.94 28.39,75.86 28.38,76.54 27.84,76.63 26.83,76.17 25.79,75.7 25.25,75.78 25.33,76.57 25.75,77.74 26.01,78.73 25.72,79.09 24.83,78.78 23.71,78.21 22.86,77.94 22.62,78.36 22.91,79.38 23.32,80.54" fill="none" stroke="#e47272" stroke-width="1" stroke-linejoin="round" stroke-linecap="round" opacity="0.95"/>
<line x1="28.38" y1="76.54" x2="25.99" y2="76.33" stroke="#e47272" stroke-width="0.7" opacity="0.9"/>
<line x1="25.75" y1="77.74" x2="23.36" y2="77.96" stroke="#e47272" stroke-width="0.7" opacity="0.9"/>
<line x1="22.86" y1="77.94" x2="20.53" y2="77.39" stroke="#e47272" stroke-width="0.7" opacity="0.9"/>
<line x1="22.86" y1="77.94" x2="22.42" y2="80.91" stroke="#e47272" stroke-width="0.5" opacity="0.85"/>
<polyline points="28.46,68.19 28.04,68.37 27.67,68.69 27.28,68.96 26.79,68.97 26.22,68.7 25.64,68.44 25.19,68.54 24.93,69.18 24.77,70.12 24.52,70.82 24.03,70.79 23.28,70.02 22.49,69.14 21.93,68.91 21.68,69.58 21.61,70.8 21.5,71.88 21.13,72.2 20.46,71.66 19.64,70.7 18.93,70.06 18.51,70.24 18.37,71.24 18.32,72.49" fill="none" stroke="#d65454" stroke-width="1" stroke-linejoin="round" stroke-linecap="round" opacity="0.95"/>
<line x1="24.52" y1="70.82" x2="22.24" y2="70.09" stroke="#d65454" stroke-width="0.7" opacity="0.9"/>
<line x1="21.61" y1="70.8" x2="20.55" y2="72.95" stroke="#d65454" stroke-width="0.7" opacity="0.9"/>
<line x1="18.93" y1="70.06" x2="16.67" y2="69.27" stroke="#d65454" stroke-width="0.7" opacity="0.9"/>
<line x1="18.93" y1="70.06" x2="17.39" y2="72.63" stroke="#d65454" stroke-width="0.5" opacity="0.85"/>
<polyline points="27.85,65.55 27.33,65.51 26.84,65.63 26.37,65.96 25.9,66.29 25.39,66.32 24.84,65.95 24.26,65.39 23.71,65.11 23.25,65.47 22.85,66.4 22.47,67.37 22,67.7 21.4,67.03 20.75,65.93 20.15,65.17 19.65,65.29 19.26,66.25 18.91,67.47 18.49,68.18 17.95,67.97 17.32,67.01 16.68,65.97 16.12,65.58 15.68,66.13" fill="none" stroke="#d65454" stroke-width="1" stroke-linejoin="round" stroke-linecap="round" opacity="0.95"/>
<line x1="22.85" y1="66.4" x2="20.73" y2="65.29" stroke="#d65454" stroke-width="0.7" opacity="0.9"/>
<line x1="19.65" y1="65.29" x2="17.89" y2="63.66" stroke="#d65454" stroke-width="0.7" opacity="0.9"/>
<line x1="17.32" y1="67.01" x2="15.22" y2="65.85" stroke="#d65454" stroke-width="0.7" opacity="0.9"/>
<line x1="17.32" y1="67.01" x2="15.28" y2="69.21" stroke="#d65454" stroke-width="0.5" opacity="0.85"/>
<polyline points="28.04,61.13 27.64,61.06 27.2,61.16 26.77,61.22 26.4,61.01 26.09,60.5 25.79,59.96 25.41,59.78 24.91,60.17 24.33,60.91 23.8,61.43 23.43,61.23 23.22,60.24 23.06,59.07 22.76,58.51 22.26,58.89 21.63,59.89 21.01,60.81 20.56,60.98 20.3,60.24 20.15,59.02 19.94,58.05 19.55,57.93 18.97,58.66 18.33,59.72" fill="none" stroke="#d65454" stroke-width="1" stroke-linejoin="round" stroke-linecap="round" opacity="0.95"/>
<line x1="23.8" y1="61.43" x2="22.83" y2="59.23" stroke="#d65454" stroke-width="0.7" opacity="0.9"/>
<line x1="21.63" y1="59.89" x2="20.6" y2="57.72" stroke="#d65454" stroke-width="0.7" opacity="0.9"/>
<line x1="19.94" y1="58.05" x2="18.09" y2="59.58" stroke="#d65454" stroke-width="0.7" opacity="0.9"/>
<line x1="19.94" y1="58.05" x2="18.1" y2="55.68" stroke="#d65454" stroke-width="0.5" opacity="0.85"/>
<polyline points="29.88,56.71 29.56,56.36 29.2,56.06 28.72,55.95 28.14,56 27.62,55.96 27.32,55.57 27.25,54.82 27.23,54.01 26.97,53.57 26.31,53.74 25.36,54.34 24.5,54.82 24.14,54.52 24.25,53.51 24.5,52.28 24.47,51.48 23.93,51.47 22.98,52.08 21.99,52.76 21.35,52.89 21.23,52.22 21.46,51.03 21.63,49.93 21.37,49.47" fill="none" stroke="#e06666" stroke-width="1" stroke-linejoin="round" stroke-linecap="round" opacity="0.95"/>
<line x1="26.31" y1="53.74" x2="24" y2="54.4" stroke="#e06666" stroke-width="0.7" opacity="0.9"/>
<line x1="24.47" y1="51.48" x2="22.17" y2="52.18" stroke="#e06666" stroke-width="0.7" opacity="0.9"/>
<line x1="21.23" y1="52.22" x2="21.16" y2="49.82" stroke="#e06666" stroke-width="0.7" opacity="0.9"/>
<line x1="21.23" y1="52.22" x2="20.37" y2="49.35" stroke="#e06666" stroke-width="0.5" opacity="0.85"/>
<polyline points="31.58,54.62 31.17,54.39 30.82,54.11 30.64,53.66 30.58,53.09 30.41,52.62 29.96,52.44 29.21,52.56 28.44,52.7 28,52.5 28.08,51.79 28.49,50.75 28.75,49.85 28.34,49.64 27.34,50 26.22,50.5 25.49,50.59 25.43,50.02 25.87,48.95 26.31,47.87 26.26,47.29 25.54,47.37 24.42,47.87 23.42,48.24 22.99,48.04" fill="none" stroke="#e47272" stroke-width="1" stroke-linejoin="round" stroke-linecap="round" opacity="0.95"/>
<line x1="28.08" y1="51.79" x2="27.95" y2="49.39" stroke="#e47272" stroke-width="0.7" opacity="0.9"/>
<line x1="25.49" y1="50.59" x2="23.1" y2="50.35" stroke="#e47272" stroke-width="0.7" opacity="0.9"/>
<line x1="25.54" y1="47.37" x2="23.18" y2="47.78" stroke="#e47272" stroke-width="0.7" opacity="0.9"/>
<line x1="25.54" y1="47.37" x2="22.55" y2="47.13" stroke="#e47272" stroke-width="0.5" opacity="0.85"/>
<polyline points="33.04,53.35 32.64,53 32.24,52.65 32.02,52.16 31.99,51.53 31.96,50.91 31.64,50.5 30.93,50.37 30.03,50.39 29.36,50.24 29.27,49.66 29.7,48.69 30.23,47.65 30.13,47.07 29.29,47.05 28.05,47.32 27.01,47.44 26.66,47.06 27.02,46.14 27.65,45.02 27.93,44.16 27.48,43.85 26.39,44.01 25.16,44.27 24.4,44.19" fill="none" stroke="#da5a5a" stroke-width="1" stroke-linejoin="round" stroke-linecap="round" opacity="0.95"/>
<line x1="29.27" y1="49.66" x2="29.77" y2="47.32" stroke="#da5a5a" stroke-width="0.7" opacity="0.9"/>
<line x1="27.01" y1="47.44" x2="24.65" y2="47.01" stroke="#da5a5a" stroke-width="0.7" opacity="0.9"/>
<line x1="27.48" y1="43.85" x2="25.13" y2="43.35" stroke="#da5a5a" stroke-width="0.7" opacity="0.9"/>
<line x1="27.48" y1="43.85" x2="24.56" y2="43.16" stroke="#da5a5a" stroke-width="0.5" opacity="0.85"/>
<polyline points="38.57,50.95 38.46,50.53 38.2,50.13 38.01,49.72 38.1,49.26 38.47,48.75 38.8,48.24 38.72,47.81 38.09,47.48 37.2,47.19 36.61,46.85 36.79,46.38 37.71,45.77 38.66,45.15 38.9,44.66 38.21,44.34 37,44.11 36,43.85 35.83,43.44 36.54,42.86 37.61,42.22 38.31,41.66 38.1,41.25 37.09,40.98 35.89,40.76" fill="none" stroke="#da5a5a" stroke-width="1" stroke-linejoin="round" stroke-linecap="round" opacity="0.95"/>
<line x1="36.61" y1="46.85" x2="34.88" y2="45.2" stroke="#da5a5a" stroke-width="0.7" opacity="0.9"/>
<line x1="37" y1="44.11" x2="35.16" y2="42.58" stroke="#da5a5a" stroke-width="0.7" opacity="0.9"/>
<line x1="38.31" y1="41.66" x2="36.46" y2="40.12" stroke="#da5a5a" stroke-width="0.7" opacity="0.9"/>
<line x1="38.31" y1="41.66" x2="39.8" y2="39.06" stroke="#da5a5a" stroke-width="0.5" opacity="0.85"/>
<polyline points="41.19,50.75 41.31,50.23 41.44,49.72 41.36,49.2 41.02,48.68 40.67,48.15 40.65,47.63 41.13,47.13 41.88,46.63 42.38,46.12 42.19,45.6 41.29,45.06 40.24,44.52 39.91,44 40.51,43.49 41.67,43 42.63,42.51 42.77,41.99 42.01,41.46 40.84,40.92 40.06,40.38 40.17,39.87 41.11,39.37 42.28,38.88 42.91,38.38" fill="none" stroke="#e06666" stroke-width="1" stroke-linejoin="round" stroke-linecap="round" opacity="0.95"/>
<line x1="42.19" y1="45.6" x2="40.62" y2="43.78" stroke="#e06666" stroke-width="0.7" opacity="0.9"/>
<line x1="42.63" y1="42.51" x2="44.49" y2="40.98" stroke="#e06666" stroke-width="0.7" opacity="0.9"/>
<line x1="40.17" y1="39.87" x2="38.57" y2="38.08" stroke="#e06666" stroke-width="0.7" opacity="0.9"/>
<line x1="40.17" y1="39.87" x2="42.15" y2="37.62" stroke="#e06666" stroke-width="0.5" opacity="0.85"/>
<polyline points="44.56,51.26 44.73,50.75 44.72,50.18 44.66,49.61 44.83,49.09 45.33,48.67 45.99,48.3 46.42,47.86 46.29,47.27 45.68,46.52 45.05,45.78 45,45.2 45.8,44.87 47.08,44.68 47.99,44.38 48.03,43.83 47.27,43.05 46.32,42.21 45.89,41.52 46.36,41.1 47.52,40.87 48.72,40.66 49.26,40.25 48.89,39.58 47.95,38.74" fill="none" stroke="#e47272" stroke-width="1" stroke-linejoin="round" stroke-linecap="round" opacity="0.95"/>
<line x1="45.05" y1="45.78" x2="43.54" y2="43.92" stroke="#e47272" stroke-width="0.7" opacity="0.9"/>
<line x1="47.27" y1="43.05" x2="46.13" y2="40.94" stroke="#e47272" stroke-width="0.7" opacity="0.9"/>
<line x1="48.72" y1="40.66" x2="50.97" y2="39.82" stroke="#e47272" stroke-width="0.7" opacity="0.9"/>
<line x1="48.72" y1="40.66" x2="51.21" y2="38.99" stroke="#e47272" stroke-width="0.5" opacity="0.85"/>
<polyline points="48.29,53.02 48.69,52.65 49.01,52.23 49.14,51.67 49.15,51.04 49.29,50.5 49.79,50.19 50.6,50.11 51.4,50.01 51.78,49.63 51.57,48.84 51.01,47.82 50.68,46.96 51.18,46.66 52.31,46.79 53.54,46.98 54.25,46.82 54.17,46.13 53.55,45.07 52.99,44.05 53.05,43.46 53.89,43.38 55.15,43.6 56.2,43.67 56.55,43.27" fill="none" stroke="#e47272" stroke-width="1" stroke-linejoin="round" stroke-linecap="round" opacity="0.95"/>
<line x1="51.57" y1="48.84" x2="53.93" y2="48.45" stroke="#e47272" stroke-width="0.7" opacity="0.9"/>
<line x1="54.25" y1="46.82" x2="53.86" y2="44.46" stroke="#e47272" stroke-width="0.7" opacity="0.9"/>
<line x1="53.89" y1="43.38" x2="53.78" y2="40.99" stroke="#e47272" stroke-width="0.7" opacity="0.9"/>
<line x1="53.89" y1="43.38" x2="53.58" y2="40.4" stroke="#e47272" stroke-width="0.5" opacity="0.85"/>
<polyline points="52.52,57.74 52.99,57.59 53.38,57.28 53.68,56.82 54.01,56.41 54.5,56.3 55.17,56.52 55.86,56.81 56.38,56.74 56.58,56.09 56.57,55.04 56.64,54.13 57.07,53.9 57.94,54.51 58.9,55.3 59.61,55.61 59.89,55.09 59.82,53.93 59.74,52.74 59.97,52.15 60.66,52.41 61.62,53.18 62.5,53.83 63.02,53.77 63.1,52.89" fill="none" stroke="#e06666" stroke-width="1" stroke-linejoin="round" stroke-linecap="round" opacity="0.95"/>
<line x1="56.57" y1="55.04" x2="57.54" y2="52.84" stroke="#e06666" stroke-width="0.7" opacity="0.9"/>
<line x1="59.89" y1="55.09" x2="60.37" y2="52.74" stroke="#e06666" stroke-width="0.7" opacity="0.9"/>
<line x1="61.62" y1="53.18" x2="62.56" y2="50.98" stroke="#e06666" stroke-width="0.7" opacity="0.9"/>
<line x1="61.62" y1="53.18" x2="64.55" y2="53.82" stroke="#e06666" stroke-width="0.5" opacity="0.85"/>
<polyline points="53.75,61.06 54.27,61.07 54.79,61.04 55.26,60.8 55.68,60.34 56.12,59.92 56.63,59.88 57.25,60.29 57.9,60.88 58.48,61.12 58.9,60.66 59.19,59.59 59.48,58.52 59.95,58.27 60.61,58.91 61.36,59.94 62.04,60.63 62.52,60.44 62.82,59.43 63.07,58.19 63.44,57.46 64,57.64 64.73,58.55 65.46,59.51 66.06,59.83" fill="none" stroke="#e06666" stroke-width="1" stroke-linejoin="round" stroke-linecap="round" opacity="0.95"/>
<line x1="58.9" y1="60.66" x2="60.78" y2="62.15" stroke="#e06666" stroke-width="0.7" opacity="0.9"/>
<line x1="62.04" y1="60.63" x2="63.06" y2="58.45" stroke="#e06666" stroke-width="0.7" opacity="0.9"/>
<line x1="64" y1="57.64" x2="66.21" y2="58.58" stroke="#e06666" stroke-width="0.7" opacity="0.9"/>
<line x1="64" y1="57.64" x2="66.66" y2="59.03" stroke="#e06666" stroke-width="0.5" opacity="0.85"/>
<circle cx="40.9" cy="63.9" r="14.3" fill="url(#sph)"/>
<line x1="49.31" y1="63.68" x2="49.08" y2="65.67" stroke="#f2a090" stroke-width="1" opacity="0.9"/>
<line x1="35.62" y1="72.64" x2="35.19" y2="74.59" stroke="#f2a090" stroke-width="1" opacity="0.9"/>
<line x1="45.07" y1="60.9" x2="46.05" y2="62.64" stroke="#f2a090" stroke-width="1" opacity="0.9"/>
<line x1="38.62" y1="52.98" x2="39.99" y2="54.44" stroke="#f2a090" stroke-width="1" opacity="0.9"/>
<line x1="47.2" y1="61.17" x2="47.54" y2="63.14" stroke="#f2a090" stroke-width="1" opacity="0.9"/>
<line x1="38.21" y1="53.12" x2="36.22" y2="53.31" stroke="#f2a090" stroke-width="1" opacity="0.9"/>
<line x1="44.4" y1="55.19" x2="46.26" y2="55.9" stroke="#f2a090" stroke-width="1" opacity="0.9"/>
<line x1="34.57" y1="63.99" x2="33.59" y2="65.73" stroke="#f2a090" stroke-width="1" opacity="0.9"/>
<line x1="45.18" y1="65.3" x2="44.5" y2="67.18" stroke="#f2a090" stroke-width="1" opacity="0.9"/>
<line x1="47.88" y1="64.03" x2="48.67" y2="65.86" stroke="#f2a090" stroke-width="1" opacity="0.9"/>
<line x1="40.22" y1="74.31" x2="39.16" y2="76" stroke="#f2a090" stroke-width="1" opacity="0.9"/>
<line x1="48.75" y1="63.49" x2="46.75" y2="63.58" stroke="#f2a090" stroke-width="1" opacity="0.9"/>
<line x1="32.87" y1="58.42" x2="31.69" y2="60.04" stroke="#f2a090" stroke-width="1" opacity="0.9"/>
<line x1="47.26" y1="57.64" x2="46.03" y2="59.22" stroke="#f2a090" stroke-width="1" opacity="0.9"/>
<line x1="42.66" y1="57.17" x2="40.66" y2="57.3" stroke="#f2a090" stroke-width="1" opacity="0.9"/>
<line x1="48.12" y1="71.05" x2="46.58" y2="72.32" stroke="#f2a090" stroke-width="1" opacity="0.9"/>
<polyline points="161.92,55.94 162.4,55.92 162.89,55.8 163.37,55.81 163.82,56.12 164.25,56.61 164.69,56.94 165.19,56.78 165.73,56.15 166.27,55.45 166.77,55.24 167.19,55.85 167.56,57.01 167.95,57.88 168.43,57.88 168.99,57.03 169.57,55.92 170.11,55.31 170.56,55.62 170.93,56.69 171.3,57.84 171.73,58.35 172.25,57.92 172.83,56.85 173.4,55.89" fill="none" stroke="#e47272" stroke-width="1" stroke-linejoin="round" stroke-linecap="round" opacity="0.95"/>
<line x1="166.77" y1="55.24" x2="168.43" y2="56.98" stroke="#e47272" stroke-width="0.7" opacity="0.9"/>
<line x1="169.57" y1="55.92" x2="171.15" y2="57.74" stroke="#e47272" stroke-width="0.7" opacity="0.9"/>
<line x1="171.73" y1="58.35" x2="173.29" y2="56.53" stroke="#e47272" stroke-width="0.7" opacity="0.9"/>
<line x1="171.73" y1="58.35" x2="174.2" y2="56.65" stroke="#e47272" stroke-width="0.5" opacity="0.85"/>
<polyline points="161.22,59.06 161.64,59.11 162.08,59.11 162.46,59.28 162.74,59.71 162.99,60.25 163.32,60.54 163.83,60.36 164.46,59.82 165.07,59.35 165.47,59.46 165.61,60.3 165.62,61.5 165.8,62.23 166.29,62.06 167.04,61.21 167.8,60.33 168.33,60.07 168.54,60.71 168.55,61.91 168.6,62.99 168.92,63.32 169.55,62.78 170.34,61.82 171.02,61.16" fill="none" stroke="#e06666" stroke-width="1" stroke-linejoin="round" stroke-linecap="round" opacity="0.95"/>
<line x1="165.47" y1="59.46" x2="167.46" y2="58.11" stroke="#e06666" stroke-width="0.7" opacity="0.9"/>
<line x1="167.8" y1="60.33" x2="169.01" y2="62.4" stroke="#e06666" stroke-width="0.7" opacity="0.9"/>
<line x1="168.92" y1="63.32" x2="169.8" y2="65.55" stroke="#e06666" stroke-width="0.7" opacity="0.9"/>
<line x1="168.92" y1="63.32" x2="171.73" y2="62.27" stroke="#e06666" stroke-width="0.5" opacity="0.85"/>
<polyline points="159.95,61.64 160.32,61.81 160.58,62.14 160.79,62.57 161.08,62.87 161.56,62.86 162.2,62.61 162.77,62.45 163.08,62.73 163.05,63.51 162.9,64.5 162.97,65.14 163.51,65.04 164.45,64.31 165.33,63.68 165.8,63.69 165.77,64.49 165.48,65.69 165.35,66.65 165.68,66.88 166.48,66.37 167.45,65.6 168.17,65.22 168.4,65.61 168.2,66.66" fill="none" stroke="#e47272" stroke-width="1" stroke-linejoin="round" stroke-linecap="round" opacity="0.95"/>
<line x1="162.9" y1="64.5" x2="163.23" y2="66.88" stroke="#e47272" stroke-width="0.7" opacity="0.9"/>
<line x1="165.77" y1="64.49" x2="166.57" y2="66.75" stroke="#e47272" stroke-width="0.7" opacity="0.9"/>
<line x1="167.45" y1="65.6" x2="168.37" y2="67.82" stroke="#e47272" stroke-width="0.7" opacity="0.9"/>
<line x1="167.45" y1="65.6" x2="170.42" y2="65.21" stroke="#e47272" stroke-width="0.5" opacity="0.85"/>
<polyline points="158.02,63.99 158.46,64.28 158.88,64.6 159.12,65.08 159.22,65.7 159.37,66.27 159.79,66.58 160.55,66.57 161.42,66.45 162.01,66.6 162.07,67.25 161.71,68.31 161.38,69.35 161.67,69.78 162.61,69.59 163.82,69.15 164.73,68.99 164.99,69.46 164.66,70.49 164.19,71.66 164.12,72.44 164.73,72.56 165.86,72.19 167,71.82 167.63,71.93" fill="none" stroke="#da5a5a" stroke-width="1" stroke-linejoin="round" stroke-linecap="round" opacity="0.95"/>
<line x1="162.07" y1="67.25" x2="162.46" y2="69.62" stroke="#da5a5a" stroke-width="0.7" opacity="0.9"/>
<line x1="164.73" y1="68.99" x2="164.21" y2="71.33" stroke="#da5a5a" stroke-width="0.7" opacity="0.9"/>
<line x1="164.73" y1="72.56" x2="164.9" y2="74.95" stroke="#da5a5a" stroke-width="0.7" opacity="0.9"/>
<line x1="164.73" y1="72.56" x2="164.93" y2="75.55" stroke="#da5a5a" stroke-width="0.5" opacity="0.85"/>
<polyline points="152.89,67.01 153.12,67.46 153.42,67.88 153.55,68.36 153.41,68.92 153.15,69.52 153.09,70.05 153.52,70.43 154.36,70.69 155.16,70.96 155.4,71.4 154.88,72.08 153.95,72.89 153.43,73.56 153.8,73.96 154.91,74.14 156.13,74.28 156.75,74.6 156.47,75.21 155.56,76.01 154.72,76.78 154.58,77.34 155.35,77.62 156.6,77.75 157.62,77.96" fill="none" stroke="#da5a5a" stroke-width="1" stroke-linejoin="round" stroke-linecap="round" opacity="0.95"/>
<line x1="155.4" y1="71.4" x2="157.58" y2="72.42" stroke="#da5a5a" stroke-width="0.7" opacity="0.9"/>
<line x1="156.13" y1="74.28" x2="154.89" y2="76.34" stroke="#da5a5a" stroke-width="0.7" opacity="0.9"/>
<line x1="154.58" y1="77.34" x2="156.82" y2="78.22" stroke="#da5a5a" stroke-width="0.7" opacity="0.9"/>
<line x1="154.58" y1="77.34" x2="153.41" y2="80.1" stroke="#da5a5a" stroke-width="0.5" opacity="0.85"/>
<polyline points="150.2,67.53 150.2,67.99 150.06,68.45 149.98,68.91 150.19,69.34 150.67,69.75 151.13,70.17 151.17,70.62 150.65,71.11 149.86,71.63 149.38,72.13 149.68,72.55 150.72,72.92 151.81,73.28 152.16,73.7 151.59,74.2 150.47,74.75 149.58,75.28 149.52,75.73 150.35,76.11 151.56,76.46 152.38,76.85 152.29,77.31 151.39,77.84 150.28,78.38" fill="none" stroke="#da5a5a" stroke-width="1" stroke-linejoin="round" stroke-linecap="round" opacity="0.95"/>
<line x1="149.38" y1="72.13" x2="147.58" y2="73.72" stroke="#da5a5a" stroke-width="0.7" opacity="0.9"/>
<line x1="150.47" y1="74.75" x2="148.95" y2="76.6" stroke="#da5a5a" stroke-width="0.7" opacity="0.9"/>
<line x1="152.38" y1="76.85" x2="150.95" y2="78.77" stroke="#da5a5a" stroke-width="0.7" opacity="0.9"/>
<line x1="152.38" y1="76.85" x2="154.5" y2="78.97" stroke="#da5a5a" stroke-width="0.5" opacity="0.85"/>
<polyline points="147.91,67.52 147.74,67.99 147.68,68.47 147.85,68.97 148.15,69.48 148.26,69.97 147.94,70.43 147.26,70.85 146.64,71.27 146.56,71.75 147.19,72.29 148.17,72.86 148.81,73.4 148.44,73.85 147.34,74.23 146.21,74.61 145.76,75.05 146.24,75.58 147.33,76.17 148.27,76.74 148.42,77.23 147.65,77.65 146.44,78.02 145.55,78.42 145.53,78.9" fill="none" stroke="#da5a5a" stroke-width="1" stroke-linejoin="round" stroke-linecap="round" opacity="0.95"/>
<line x1="147.19" y1="72.29" x2="145.35" y2="73.83" stroke="#da5a5a" stroke-width="0.7" opacity="0.9"/>
<line x1="145.76" y1="75.05" x2="143.92" y2="76.6" stroke="#da5a5a" stroke-width="0.7" opacity="0.9"/>
<line x1="147.65" y1="77.65" x2="149.22" y2="79.46" stroke="#da5a5a" stroke-width="0.7" opacity="0.9"/>
<line x1="147.65" y1="77.65" x2="145.52" y2="79.75" stroke="#da5a5a" stroke-width="0.5" opacity="0.85"/>
<polyline points="144.1,66.57 143.92,67 143.58,67.36 143.23,67.71 143.12,68.17 143.31,68.75 143.6,69.38 143.59,69.88 143.05,70.15 142.11,70.26 141.26,70.4 141.04,70.81 141.61,71.56 142.5,72.43 142.91,73.11 142.45,73.42 141.31,73.44 140.12,73.44 139.53,73.7 139.82,74.32 140.68,75.19 141.42,76 141.45,76.52 140.63,76.67 139.37,76.65" fill="none" stroke="#e47272" stroke-width="1" stroke-linejoin="round" stroke-linecap="round" opacity="0.95"/>
<line x1="141.26" y1="70.4" x2="142.52" y2="72.45" stroke="#e47272" stroke-width="0.7" opacity="0.9"/>
<line x1="141.31" y1="73.44" x2="139.2" y2="74.57" stroke="#e47272" stroke-width="0.7" opacity="0.9"/>
<line x1="141.42" y1="76" x2="139.37" y2="77.25" stroke="#e47272" stroke-width="0.7" opacity="0.9"/>
<line x1="141.42" y1="76" x2="142.32" y2="78.87" stroke="#e47272" stroke-width="0.5" opacity="0.85"/>
<polyline points="140.91,64.64 140.63,65.02 140.48,65.51 140.27,65.95 139.85,66.22 139.21,66.3 138.58,66.39 138.25,66.73 138.36,67.43 138.7,68.33 138.84,69.05 138.38,69.28 137.32,69.03 136.19,68.71 135.59,68.83 135.73,69.55 136.31,70.64 136.76,71.62 136.58,72.09 135.71,71.98 134.5,71.6 133.56,71.44 133.31,71.84 133.71,72.78 134.3,73.88" fill="none" stroke="#d65454" stroke-width="1" stroke-linejoin="round" stroke-linecap="round" opacity="0.95"/>
<line x1="138.84" y1="69.05" x2="136.47" y2="69.46" stroke="#d65454" stroke-width="0.7" opacity="0.9"/>
<line x1="136.31" y1="70.64" x2="133.91" y2="70.63" stroke="#d65454" stroke-width="0.7" opacity="0.9"/>
<line x1="133.56" y1="71.44" x2="134.15" y2="73.76" stroke="#d65454" stroke-width="0.7" opacity="0.9"/>
<line x1="133.56" y1="71.44" x2="130.61" y2="71.98" stroke="#d65454" stroke-width="0.5" opacity="0.85"/>
<polyline points="137.49,60.28 137.07,60.39 136.72,60.66 136.45,61.08 136.16,61.46 135.72,61.53 135.11,61.26 134.48,60.92 134.01,60.93 133.83,61.54 133.84,62.56 133.8,63.45 133.42,63.65 132.63,63 131.75,62.15 131.09,61.77 130.84,62.24 130.91,63.37 131,64.54 130.8,65.11 130.18,64.82 129.31,63.99 128.49,63.28 128.02,63.27 127.94,64.1" fill="none" stroke="#e47272" stroke-width="1" stroke-linejoin="round" stroke-linecap="round" opacity="0.95"/>
<line x1="133.84" y1="62.56" x2="131.48" y2="62.14" stroke="#e47272" stroke-width="0.7" opacity="0.9"/>
<line x1="130.84" y1="62.24" x2="128.59" y2="61.41" stroke="#e47272" stroke-width="0.7" opacity="0.9"/>
<line x1="129.31" y1="63.99" x2="126.99" y2="63.38" stroke="#e47272" stroke-width="0.7" opacity="0.9"/>
<line x1="129.31" y1="63.99" x2="126.4" y2="63.24" stroke="#e47272" stroke-width="0.5" opacity="0.85"/>
<polyline points="136.28,55.89 135.87,55.83 135.45,55.73 135.06,55.82 134.69,56.18 134.32,56.62 133.94,56.78 133.5,56.43 133.03,55.73 132.58,55.17 132.18,55.26 131.86,56.1 131.56,57.25 131.21,57.81 130.77,57.43 130.27,56.38 129.77,55.37 129.34,55.09 129,55.74 128.7,56.93 128.39,57.9 128,58.03 127.53,57.28 127.02,56.14 126.54,55.4" fill="none" stroke="#d65454" stroke-width="1" stroke-linejoin="round" stroke-linecap="round" opacity="0.95"/>
<line x1="132.18" y1="55.26" x2="130.54" y2="57.01" stroke="#d65454" stroke-width="0.7" opacity="0.9"/>
<line x1="129.77" y1="55.37" x2="128.17" y2="53.59" stroke="#d65454" stroke-width="0.7" opacity="0.9"/>
<line x1="128" y1="58.03" x2="126.47" y2="56.18" stroke="#d65454" stroke-width="0.7" opacity="0.9"/>
<line x1="128" y1="58.03" x2="125.89" y2="60.17" stroke="#d65454" stroke-width="0.5" opacity="0.85"/>
<polyline points="136.41,52.5 135.99,52.48 135.6,52.27 135.23,51.95 134.83,51.78 134.38,51.95 133.87,52.42 133.38,52.81 132.97,52.7 132.67,51.98 132.42,51 132.1,50.4 131.63,50.65 131.03,51.67 130.44,52.62 129.98,52.83 129.67,52.12 129.46,50.9 129.2,49.93 128.8,49.8 128.25,50.54 127.63,51.62 127.09,52.29 126.71,52.06 126.46,51.04" fill="none" stroke="#e06666" stroke-width="1" stroke-linejoin="round" stroke-linecap="round" opacity="0.95"/>
<line x1="132.42" y1="51" x2="130.73" y2="52.71" stroke="#e06666" stroke-width="0.7" opacity="0.9"/>
<line x1="129.67" y1="52.12" x2="127.76" y2="53.57" stroke="#e06666" stroke-width="0.7" opacity="0.9"/>
<line x1="127.63" y1="51.62" x2="126.41" y2="49.56" stroke="#e06666" stroke-width="0.7" opacity="0.9"/>
<line x1="127.63" y1="51.62" x2="125.7" y2="49.32" stroke="#e06666" stroke-width="0.5" opacity="0.85"/>
<polyline points="137.21,49.76 136.77,49.68 136.32,49.64 135.94,49.42 135.67,48.95 135.43,48.42 135.07,48.15 134.52,48.35 133.84,48.87 133.22,49.25 132.85,49.01 132.76,48.09 132.79,46.9 132.59,46.27 132.02,46.51 131.2,47.36 130.4,48.16 129.89,48.26 129.74,47.5 129.79,46.27 129.74,45.26 129.37,45.02 128.66,45.61 127.81,46.53 127.12,47.07" fill="none" stroke="#e47272" stroke-width="1" stroke-linejoin="round" stroke-linecap="round" opacity="0.95"/>
<line x1="132.85" y1="49.01" x2="132.09" y2="46.74" stroke="#e47272" stroke-width="0.7" opacity="0.9"/>
<line x1="130.4" y1="48.16" x2="129.69" y2="45.87" stroke="#e47272" stroke-width="0.7" opacity="0.9"/>
<line x1="129.37" y1="45.02" x2="127.12" y2="45.86" stroke="#e47272" stroke-width="0.7" opacity="0.9"/>
<line x1="129.37" y1="45.02" x2="127.99" y2="42.36" stroke="#e47272" stroke-width="0.5" opacity="0.85"/>
<polyline points="138.8,46.97 138.3,46.75 137.83,46.48 137.51,46.02 137.3,45.41 137.03,44.89 136.51,44.69 135.73,44.84 134.9,45.06 134.33,44.94 134.2,44.22 134.39,43.09 134.49,42.06 134.04,41.77 133.08,42.17 131.96,42.78 131.13,43 130.86,42.47 131.04,41.33 131.29,40.12 131.15,39.42 130.44,39.48 129.34,40.05 128.3,40.55 127.72,40.44" fill="none" stroke="#e47272" stroke-width="1" stroke-linejoin="round" stroke-linecap="round" opacity="0.95"/>
<line x1="134.2" y1="44.22" x2="131.82" y2="44.52" stroke="#e47272" stroke-width="0.7" opacity="0.9"/>
<line x1="131.13" y1="43" x2="130.79" y2="40.62" stroke="#e47272" stroke-width="0.7" opacity="0.9"/>
<line x1="130.44" y1="39.48" x2="129.75" y2="37.18" stroke="#e47272" stroke-width="0.7" opacity="0.9"/>
<line x1="130.44" y1="39.48" x2="127.44" y2="39.65" stroke="#e47272" stroke-width="0.5" opacity="0.85"/>
<polyline points="142.44,43.68 142.11,43.33 141.92,42.9 141.91,42.37 141.89,41.83 141.62,41.46 140.99,41.29 140.22,41.22 139.69,40.99 139.72,40.43 140.24,39.57 140.77,38.71 140.74,38.18 139.85,38.18 138.6,38.39 137.67,38.41 137.49,37.97 138.04,37.1 138.79,36.1 139.1,35.37 138.6,35.13 137.46,35.27 136.28,35.44 135.67,35.27 135.87,34.61" fill="none" stroke="#d65454" stroke-width="1" stroke-linejoin="round" stroke-linecap="round" opacity="0.95"/>
<line x1="140.24" y1="39.57" x2="140.65" y2="37.21" stroke="#d65454" stroke-width="0.7" opacity="0.9"/>
<line x1="137.49" y1="37.97" x2="137.97" y2="35.62" stroke="#d65454" stroke-width="0.7" opacity="0.9"/>
<line x1="137.46" y1="35.27" x2="137.75" y2="32.89" stroke="#d65454" stroke-width="0.7" opacity="0.9"/>
<line x1="137.46" y1="35.27" x2="134.62" y2="34.31" stroke="#d65454" stroke-width="0.5" opacity="0.85"/>
<polyline points="144.68,42.6 144.6,42.2 144.35,41.86 143.96,41.56 143.69,41.23 143.75,40.77 144.12,40.2 144.45,39.65 144.35,39.25 143.64,39.07 142.62,39.01 141.9,38.84 141.97,38.38 142.82,37.64 143.7,36.88 143.94,36.36 143.28,36.17 142.08,36.17 141.01,36.13 140.7,35.81 141.25,35.17 142.21,34.39 142.86,33.71 142.68,33.35 141.7,33.27" fill="none" stroke="#d65454" stroke-width="1" stroke-linejoin="round" stroke-linecap="round" opacity="0.95"/>
<line x1="142.62" y1="39.01" x2="143.74" y2="36.89" stroke="#d65454" stroke-width="0.7" opacity="0.9"/>
<line x1="143.28" y1="36.17" x2="143.88" y2="33.84" stroke="#d65454" stroke-width="0.7" opacity="0.9"/>
<line x1="142.21" y1="34.39" x2="139.9" y2="33.73" stroke="#d65454" stroke-width="0.7" opacity="0.9"/>
<line x1="142.21" y1="34.39" x2="139.61" y2="32.89" stroke="#d65454" stroke-width="0.5" opacity="0.85"/>
<polyline points="149.38,41.82 149.44,41.33 149.32,40.84 149.07,40.34 148.98,39.85 149.26,39.36 149.81,38.88 150.28,38.4 150.24,37.9 149.58,37.4 148.68,36.89 148.17,36.38 148.52,35.9 149.64,35.43 150.68,34.96 150.96,34.48 150.31,33.97 149.16,33.45 148.27,32.94 148.23,32.45 149.08,31.97 150.26,31.51 151.01,31.03 150.84,30.54 149.88,30.02" fill="none" stroke="#d65454" stroke-width="1" stroke-linejoin="round" stroke-linecap="round" opacity="0.95"/>
<line x1="148.68" y1="36.89" x2="146.92" y2="35.25" stroke="#d65454" stroke-width="0.7" opacity="0.9"/>
<line x1="150.31" y1="33.97" x2="152" y2="32.26" stroke="#d65454" stroke-width="0.7" opacity="0.9"/>
<line x1="150.26" y1="31.51" x2="152.19" y2="30.08" stroke="#d65454" stroke-width="0.7" opacity="0.9"/>
<line x1="150.26" y1="31.51" x2="148.38" y2="29.17" stroke="#d65454" stroke-width="0.5" opacity="0.85"/>
<polyline points="154.27,42.9 154.35,42.42 154.53,41.99 154.93,41.64 155.43,41.34 155.73,40.96 155.63,40.4 155.23,39.71 154.93,39.06 155.14,38.64 156,38.5 157.12,38.47 157.87,38.28 157.68,37.68 156.87,36.81 156.09,35.96 155.99,35.39 156.74,35.21 157.99,35.24 159.03,35.18 159.32,34.78 158.78,34.03 157.9,33.13 157.37,32.38 157.67,32" fill="none" stroke="#e06666" stroke-width="1" stroke-linejoin="round" stroke-linecap="round" opacity="0.95"/>
<line x1="156" y1="38.5" x2="155.43" y2="36.16" stroke="#e06666" stroke-width="0.7" opacity="0.9"/>
<line x1="155.99" y1="35.39" x2="154.71" y2="33.36" stroke="#e06666" stroke-width="0.7" opacity="0.9"/>
<line x1="158.78" y1="34.03" x2="161.1" y2="33.4" stroke="#e06666" stroke-width="0.7" opacity="0.9"/>
<line x1="158.78" y1="34.03" x2="161.47" y2="32.71" stroke="#e06666" stroke-width="0.5" opacity="0.85"/>
<polyline points="156.55,44.19 156.78,43.72 156.95,43.21 157.24,42.79 157.78,42.54 158.43,42.37 158.92,42.08 158.99,41.5 158.7,40.66 158.43,39.84 158.62,39.34 159.45,39.3 160.67,39.53 161.57,39.53 161.71,39 161.2,38.01 160.58,36.93 160.43,36.2 161.06,36.02 162.25,36.23 163.41,36.42 163.98,36.19 163.78,35.41 163.14,34.33 162.67,33.36" fill="none" stroke="#d65454" stroke-width="1" stroke-linejoin="round" stroke-linecap="round" opacity="0.95"/>
<line x1="158.62" y1="39.34" x2="158.25" y2="36.96" stroke="#d65454" stroke-width="0.7" opacity="0.9"/>
<line x1="160.58" y1="36.93" x2="162.97" y2="36.76" stroke="#d65454" stroke-width="0.7" opacity="0.9"/>
<line x1="163.98" y1="36.19" x2="166.3" y2="35.57" stroke="#d65454" stroke-width="0.7" opacity="0.9"/>
<line x1="163.98" y1="36.19" x2="166.88" y2="35.43" stroke="#d65454" stroke-width="0.5" opacity="0.85"/>
<polyline points="158.84,46.27 159.21,46.03 159.66,45.88 160.03,45.64 160.2,45.17 160.24,44.54 160.36,44 160.79,43.83 161.55,44.04 162.39,44.34 162.94,44.3 162.95,43.65 162.57,42.54 162.31,41.56 162.6,41.23 163.48,41.57 164.57,42.17 165.4,42.45 165.62,42.04 165.31,41.02 164.9,39.87 164.86,39.16 165.45,39.16 166.49,39.69 167.52,40.21" fill="none" stroke="#d65454" stroke-width="1" stroke-linejoin="round" stroke-linecap="round" opacity="0.95"/>
<line x1="162.94" y1="44.3" x2="162.84" y2="41.91" stroke="#d65454" stroke-width="0.7" opacity="0.9"/>
<line x1="164.57" y1="42.17" x2="164.4" y2="39.78" stroke="#d65454" stroke-width="0.7" opacity="0.9"/>
<line x1="164.86" y1="39.16" x2="164.7" y2="36.76" stroke="#d65454" stroke-width="0.7" opacity="0.9"/>
<line x1="164.86" y1="39.16" x2="167.86" y2="39.12" stroke="#d65454" stroke-width="0.5" opacity="0.85"/>
<polyline points="161.65,51.82 162.17,51.67 162.65,51.37 163.14,51.13 163.7,51.17 164.32,51.48 164.93,51.78 165.46,51.68 165.86,51.04 166.19,50.1 166.59,49.45 167.16,49.56 167.91,50.4 168.67,51.32 169.27,51.55 169.66,50.86 169.92,49.63 170.23,48.58 170.72,48.32 171.41,48.95 172.19,49.97 172.89,50.64 173.4,50.44 173.71,49.42 173.97,48.17" fill="none" stroke="#da5a5a" stroke-width="1" stroke-linejoin="round" stroke-linecap="round" opacity="0.95"/>
<line x1="166.59" y1="49.45" x2="168.78" y2="50.44" stroke="#da5a5a" stroke-width="0.7" opacity="0.9"/>
<line x1="169.92" y1="49.63" x2="171.87" y2="51.03" stroke="#da5a5a" stroke-width="0.7" opacity="0.9"/>
<line x1="172.89" y1="50.64" x2="175.02" y2="51.76" stroke="#da5a5a" stroke-width="0.7" opacity="0.9"/>
<line x1="172.89" y1="50.64" x2="174.7" y2="48.25" stroke="#da5a5a" stroke-width="0.5" opacity="0.85"/>
<circle cx="149.1" cy="54.7" r="14" fill="url(#sph)"/>
<line x1="144.92" y1="45.75" x2="143.1" y2="46.57" stroke="#f2a090" stroke-width="1" opacity="0.9"/>
<line x1="146.09" y1="43" x2="144.24" y2="43.75" stroke="#f2a090" stroke-width="1" opacity="0.9"/>
<line x1="139.39" y1="56.22" x2="140.14" y2="58.07" stroke="#f2a090" stroke-width="1" opacity="0.9"/>
<line x1="140.43" y1="52.68" x2="142.35" y2="53.23" stroke="#f2a090" stroke-width="1" opacity="0.9"/>
<line x1="156.58" y1="53.15" x2="157.64" y2="54.84" stroke="#f2a090" stroke-width="1" opacity="0.9"/>
<line x1="154.24" y1="48.98" x2="153.63" y2="50.89" stroke="#f2a090" stroke-width="1" opacity="0.9"/>
<line x1="154.41" y1="60.95" x2="153.73" y2="62.83" stroke="#f2a090" stroke-width="1" opacity="0.9"/>
<line x1="154.31" y1="46.61" x2="156.19" y2="47.3" stroke="#f2a090" stroke-width="1" opacity="0.9"/>
<line x1="137.4" y1="53.93" x2="138.83" y2="55.33" stroke="#f2a090" stroke-width="1" opacity="0.9"/>
<line x1="151.27" y1="50.4" x2="150.85" y2="52.35" stroke="#f2a090" stroke-width="1" opacity="0.9"/>
<line x1="144.99" y1="59.73" x2="143.64" y2="61.2" stroke="#f2a090" stroke-width="1" opacity="0.9"/>
<line x1="149.96" y1="48.5" x2="151.73" y2="49.43" stroke="#f2a090" stroke-width="1" opacity="0.9"/>
<line x1="159.84" y1="50.93" x2="159.68" y2="52.93" stroke="#f2a090" stroke-width="1" opacity="0.9"/>
<line x1="148.02" y1="44.86" x2="148.69" y2="46.75" stroke="#f2a090" stroke-width="1" opacity="0.9"/>
<line x1="139.26" y1="46.76" x2="141.23" y2="47.11" stroke="#f2a090" stroke-width="1" opacity="0.9"/>
<line x1="145.61" y1="45.49" x2="145.66" y2="47.49" stroke="#f2a090" stroke-width="1" opacity="0.9"/>
<polyline points="250.75,76.99 251.24,76.99 251.73,76.81 252.21,76.59 252.7,76.61 253.2,76.98 253.7,77.49 254.2,77.74 254.68,77.42 255.15,76.61 255.62,75.8 256.1,75.62 256.61,76.32 257.13,77.48 257.63,78.22 258.12,78.06 258.59,77.08 259.05,75.92 259.52,75.34 260.02,75.7 260.54,76.77 261.05,77.83 261.55,78.18 262.02,77.59 262.49,76.43" fill="none" stroke="#d65454" stroke-width="1" stroke-linejoin="round" stroke-linecap="round" opacity="0.95"/>
<line x1="255.62" y1="75.8" x2="257.07" y2="73.89" stroke="#d65454" stroke-width="0.7" opacity="0.9"/>
<line x1="258.59" y1="77.08" x2="260.38" y2="78.67" stroke="#d65454" stroke-width="0.7" opacity="0.9"/>
<line x1="261.05" y1="77.83" x2="262.76" y2="76.14" stroke="#d65454" stroke-width="0.7" opacity="0.9"/>
<line x1="261.05" y1="77.83" x2="263.3" y2="75.84" stroke="#d65454" stroke-width="0.5" opacity="0.85"/>
<polyline points="249.86,82.08 250.28,82.25 250.77,82.25 251.26,82.24 251.67,82.44 251.96,82.96 252.2,83.62 252.53,84.01 253.08,83.86 253.8,83.27 254.5,82.71 254.98,82.75 255.13,83.61 255.13,84.87 255.3,85.71 255.79,85.69 256.58,84.93 257.41,84.04 258.03,83.71 258.31,84.26 258.34,85.44 258.38,86.59 258.69,87.06 259.33,86.65 260.18,85.74" fill="none" stroke="#da5a5a" stroke-width="1" stroke-linejoin="round" stroke-linecap="round" opacity="0.95"/>
<line x1="254.5" y1="82.71" x2="256.75" y2="81.86" stroke="#da5a5a" stroke-width="0.7" opacity="0.9"/>
<line x1="256.58" y1="84.93" x2="258.86" y2="84.19" stroke="#da5a5a" stroke-width="0.7" opacity="0.9"/>
<line x1="258.38" y1="86.59" x2="259.58" y2="88.67" stroke="#da5a5a" stroke-width="0.7" opacity="0.9"/>
<line x1="258.38" y1="86.59" x2="259.81" y2="89.22" stroke="#da5a5a" stroke-width="0.5" opacity="0.85"/>
<polyline points="248.36,84.87 248.76,85.09 249.04,85.48 249.27,85.94 249.62,86.23 250.17,86.23 250.86,86.04 251.44,86 251.71,86.4 251.66,87.26 251.52,88.24 251.68,88.8 252.35,88.64 253.39,87.95 254.29,87.46 254.7,87.66 254.6,88.58 254.3,89.8 254.23,90.69 254.69,90.83 255.61,90.3 256.64,89.63 257.34,89.41 257.5,89.97 257.26,91.11" fill="none" stroke="#d65454" stroke-width="1" stroke-linejoin="round" stroke-linecap="round" opacity="0.95"/>
<line x1="251.52" y1="88.24" x2="251.46" y2="90.64" stroke="#d65454" stroke-width="0.7" opacity="0.9"/>
<line x1="254.6" y1="88.58" x2="254.55" y2="90.98" stroke="#d65454" stroke-width="0.7" opacity="0.9"/>
<line x1="256.64" y1="89.63" x2="257.02" y2="92" stroke="#d65454" stroke-width="0.7" opacity="0.9"/>
<line x1="256.64" y1="89.63" x2="257.4" y2="92.53" stroke="#d65454" stroke-width="0.5" opacity="0.85"/>
<polyline points="247.11,86.39 247.51,86.64 247.95,86.87 248.24,87.23 248.35,87.79 248.41,88.4 248.67,88.8 249.29,88.84 250.14,88.62 250.87,88.52 251.16,88.9 250.93,89.82 250.5,90.94 250.49,91.63 251.13,91.63 252.23,91.15 253.29,90.72 253.82,90.83 253.71,91.62 253.25,92.78 252.96,93.77 253.24,94.14 254.15,93.87 255.3,93.34 256.16,93.12" fill="none" stroke="#da5a5a" stroke-width="1" stroke-linejoin="round" stroke-linecap="round" opacity="0.95"/>
<line x1="251.16" y1="88.9" x2="253.54" y2="89.18" stroke="#da5a5a" stroke-width="0.7" opacity="0.9"/>
<line x1="253.29" y1="90.72" x2="253.31" y2="93.12" stroke="#da5a5a" stroke-width="0.7" opacity="0.9"/>
<line x1="253.24" y1="94.14" x2="253.01" y2="96.53" stroke="#da5a5a" stroke-width="0.7" opacity="0.9"/>
<line x1="253.24" y1="94.14" x2="253.57" y2="97.12" stroke="#da5a5a" stroke-width="0.5" opacity="0.85"/>
<polyline points="241.32,89.92 241.35,90.42 241.42,90.9 241.71,91.32 242.2,91.68 242.59,92.07 242.59,92.57 242.17,93.2 241.66,93.86 241.54,94.4 242.13,94.73 243.24,94.91 244.24,95.11 244.37,95.58 243.67,96.29 242.69,97.09 242.16,97.75 242.52,98.15 243.62,98.33 244.83,98.47 245.45,98.79 245.17,99.38 244.24,100.16 243.39,100.92 243.24,101.47" fill="none" stroke="#d65454" stroke-width="1" stroke-linejoin="round" stroke-linecap="round" opacity="0.95"/>
<line x1="242.13" y1="94.73" x2="240.92" y2="96.8" stroke="#d65454" stroke-width="0.7" opacity="0.9"/>
<line x1="242.16" y1="97.75" x2="240.8" y2="99.73" stroke="#d65454" stroke-width="0.7" opacity="0.9"/>
<line x1="245.17" y1="99.38" x2="243.63" y2="101.23" stroke="#d65454" stroke-width="0.7" opacity="0.9"/>
<line x1="245.17" y1="99.38" x2="247.67" y2="101.04" stroke="#d65454" stroke-width="0.5" opacity="0.85"/>
<polyline points="240.37,90.16 240.58,90.56 240.71,90.97 240.6,91.43 240.35,91.92 240.25,92.38 240.56,92.75 241.26,93.04 241.96,93.33 242.16,93.73 241.65,94.28 240.73,94.91 240.08,95.49 240.38,95.87 241.45,96.08 242.64,96.26 243.23,96.57 242.9,97.08 241.92,97.73 240.99,98.37 240.78,98.86 241.49,99.14 242.71,99.32 243.7,99.54 243.87,99.95" fill="none" stroke="#d65454" stroke-width="1" stroke-linejoin="round" stroke-linecap="round" opacity="0.95"/>
<line x1="241.65" y1="94.28" x2="240.01" y2="96.02" stroke="#d65454" stroke-width="0.7" opacity="0.9"/>
<line x1="243.23" y1="96.57" x2="241.75" y2="98.46" stroke="#d65454" stroke-width="0.7" opacity="0.9"/>
<line x1="241.49" y1="99.14" x2="243.42" y2="100.56" stroke="#d65454" stroke-width="0.7" opacity="0.9"/>
<line x1="241.49" y1="99.14" x2="240.08" y2="101.79" stroke="#d65454" stroke-width="0.5" opacity="0.85"/>
<polyline points="233.92,89.93 233.78,90.45 233.46,90.91 233.13,91.37 233.03,91.9 233.26,92.53 233.6,93.19 233.66,93.76 233.16,94.17 232.22,94.46 231.35,94.76 231.12,95.25 231.72,95.98 232.69,96.82 233.19,97.53 232.8,97.97 231.67,98.2 230.45,98.4 229.84,98.78 230.13,99.43 231.05,100.25 231.89,101.05 232,101.64 231.21,101.97 229.95,102.16" fill="none" stroke="#e47272" stroke-width="1" stroke-linejoin="round" stroke-linecap="round" opacity="0.95"/>
<line x1="231.35" y1="94.76" x2="232.54" y2="96.85" stroke="#e47272" stroke-width="0.7" opacity="0.9"/>
<line x1="231.67" y1="98.2" x2="233.13" y2="100.11" stroke="#e47272" stroke-width="0.7" opacity="0.9"/>
<line x1="231.89" y1="101.05" x2="232.98" y2="103.19" stroke="#e47272" stroke-width="0.7" opacity="0.9"/>
<line x1="231.89" y1="101.05" x2="229.39" y2="102.71" stroke="#e47272" stroke-width="0.5" opacity="0.85"/>
<polyline points="231.92,89.17 231.7,89.64 231.64,90.18 231.57,90.72 231.26,91.15 230.66,91.44 229.99,91.69 229.63,92.09 229.8,92.75 230.33,93.58 230.72,94.34 230.48,94.8 229.48,94.9 228.23,94.87 227.48,95.09 227.59,95.71 228.33,96.64 229.08,97.58 229.19,98.2 228.45,98.42 227.19,98.4 226.1,98.45 225.74,98.85 226.19,99.64 227.03,100.62" fill="none" stroke="#da5a5a" stroke-width="1" stroke-linejoin="round" stroke-linecap="round" opacity="0.95"/>
<line x1="230.72" y1="94.34" x2="231.33" y2="96.66" stroke="#da5a5a" stroke-width="0.7" opacity="0.9"/>
<line x1="228.33" y1="96.64" x2="229.34" y2="98.82" stroke="#da5a5a" stroke-width="0.7" opacity="0.9"/>
<line x1="226.1" y1="98.45" x2="227.03" y2="100.66" stroke="#da5a5a" stroke-width="0.7" opacity="0.9"/>
<line x1="226.1" y1="98.45" x2="226.85" y2="101.35" stroke="#da5a5a" stroke-width="0.5" opacity="0.85"/>
<polyline points="229.09,87.33 228.85,87.77 228.48,88.1 227.96,88.3 227.45,88.51 227.17,88.92 227.2,89.59 227.36,90.36 227.28,90.94 226.7,91.09 225.7,90.89 224.71,90.69 224.23,90.93 224.52,91.81 225.1,92.95 225.38,93.83 224.97,94.13 223.93,93.89 222.74,93.52 221.96,93.5 221.9,94.09 222.39,95.15 222.9,96.23 222.89,96.86 222.16,96.88" fill="none" stroke="#e06666" stroke-width="1" stroke-linejoin="round" stroke-linecap="round" opacity="0.95"/>
<line x1="225.7" y1="90.89" x2="223.32" y2="90.6" stroke="#e06666" stroke-width="0.7" opacity="0.9"/>
<line x1="224.97" y1="94.13" x2="225.48" y2="96.47" stroke="#e06666" stroke-width="0.7" opacity="0.9"/>
<line x1="222.39" y1="95.15" x2="220.02" y2="95.53" stroke="#e06666" stroke-width="0.7" opacity="0.9"/>
<line x1="222.39" y1="95.15" x2="222.38" y2="98.15" stroke="#e06666" stroke-width="0.5" opacity="0.85"/>
<polyline points="225.25,81.85 224.84,81.89 224.47,82.09 224.18,82.48 223.89,82.86 223.49,82.97 222.96,82.68 222.36,82.24 221.86,82.07 221.59,82.52 221.51,83.49 221.44,84.47 221.14,84.84 220.49,84.25 219.71,83.29 219.04,82.68 218.69,82.9 218.63,83.91 218.65,85.14 218.48,85.87 217.99,85.72 217.25,84.88 216.49,83.99 215.96,83.73 215.75,84.36" fill="none" stroke="#d65454" stroke-width="1" stroke-linejoin="round" stroke-linecap="round" opacity="0.95"/>
<line x1="221.51" y1="83.49" x2="220.99" y2="85.83" stroke="#d65454" stroke-width="0.7" opacity="0.9"/>
<line x1="218.69" y1="82.9" x2="217.33" y2="84.88" stroke="#d65454" stroke-width="0.7" opacity="0.9"/>
<line x1="217.25" y1="84.88" x2="214.93" y2="84.26" stroke="#d65454" stroke-width="0.7" opacity="0.9"/>
<line x1="217.25" y1="84.88" x2="214.43" y2="83.86" stroke="#d65454" stroke-width="0.5" opacity="0.85"/>
<polyline points="224.78,80.26 224.29,80.34 223.77,80.27 223.26,80.26 222.81,80.52 222.43,81.06 222.04,81.6 221.57,81.74 220.97,81.34 220.3,80.63 219.69,80.2 219.25,80.51 218.99,81.58 218.75,82.74 218.36,83.22 217.75,82.78 217.01,81.78 216.31,80.95 215.79,80.9 215.47,81.74 215.26,83 214.96,83.91 214.46,83.96 213.78,83.19 213.03,82.17" fill="none" stroke="#d65454" stroke-width="1" stroke-linejoin="round" stroke-linecap="round" opacity="0.95"/>
<line x1="219.69" y1="80.2" x2="217.65" y2="78.93" stroke="#d65454" stroke-width="0.7" opacity="0.9"/>
<line x1="217.01" y1="81.78" x2="215.17" y2="80.24" stroke="#d65454" stroke-width="0.7" opacity="0.9"/>
<line x1="214.96" y1="83.91" x2="213.24" y2="82.24" stroke="#d65454" stroke-width="0.7" opacity="0.9"/>
<line x1="214.96" y1="83.91" x2="212.29" y2="82.55" stroke="#d65454" stroke-width="0.5" opacity="0.85"/>
<polyline points="224.45,76.98 223.98,76.94 223.52,76.75 223.05,76.61 222.58,76.76 222.1,77.19 221.62,77.61 221.15,77.63 220.7,77.07 220.25,76.23 219.79,75.67 219.32,75.88 218.83,76.86 218.34,77.92 217.86,78.27 217.4,77.68 216.96,76.52 216.52,75.55 216.05,75.39 215.57,76.15 215.07,77.31 214.58,78.11 214.12,78.02 213.67,77.09 213.23,75.92" fill="none" stroke="#e47272" stroke-width="1" stroke-linejoin="round" stroke-linecap="round" opacity="0.95"/>
<line x1="219.79" y1="75.67" x2="217.79" y2="76.99" stroke="#e47272" stroke-width="0.7" opacity="0.9"/>
<line x1="216.96" y1="76.52" x2="215.05" y2="77.97" stroke="#e47272" stroke-width="0.7" opacity="0.9"/>
<line x1="214.58" y1="78.11" x2="213.31" y2="76.08" stroke="#e47272" stroke-width="0.7" opacity="0.9"/>
<line x1="214.58" y1="78.11" x2="212.24" y2="79.99" stroke="#e47272" stroke-width="0.5" opacity="0.85"/>
<polyline points="226.07,70.96 225.65,70.82 225.19,70.75 224.82,70.52 224.58,70.05 224.4,69.46 224.11,69.08 223.58,69.14 222.85,69.57 222.14,69.94 221.72,69.8 221.68,68.97 221.84,67.77 221.78,66.97 221.27,66.99 220.4,67.67 219.48,68.44 218.86,68.64 218.71,68.02 218.86,66.83 218.97,65.72 218.72,65.28 218.01,65.66 217.07,66.47 216.25,67.04" fill="none" stroke="#e47272" stroke-width="1" stroke-linejoin="round" stroke-linecap="round" opacity="0.95"/>
<line x1="221.72" y1="69.8" x2="219.43" y2="70.53" stroke="#e47272" stroke-width="0.7" opacity="0.9"/>
<line x1="219.48" y1="68.44" x2="217.35" y2="69.55" stroke="#e47272" stroke-width="0.7" opacity="0.9"/>
<line x1="218.72" y1="65.28" x2="218.19" y2="62.94" stroke="#e47272" stroke-width="0.7" opacity="0.9"/>
<line x1="218.72" y1="65.28" x2="215.77" y2="65.87" stroke="#e47272" stroke-width="0.5" opacity="0.85"/>
<polyline points="228.2,68.09 227.87,67.76 227.65,67.3 227.44,66.84 227.05,66.57 226.42,66.53 225.73,66.56 225.27,66.35 225.22,65.73 225.47,64.81 225.62,63.97 225.3,63.62 224.38,63.89 223.24,64.38 222.47,64.49 222.36,63.92 222.76,62.84 223.18,61.73 223.13,61.1 222.42,61.15 221.29,61.63 220.26,62.01 219.79,61.82 219.96,60.97 220.44,59.8" fill="none" stroke="#e06666" stroke-width="1" stroke-linejoin="round" stroke-linecap="round" opacity="0.95"/>
<line x1="225.62" y1="63.97" x2="225.64" y2="61.57" stroke="#e06666" stroke-width="0.7" opacity="0.9"/>
<line x1="222.76" y1="62.84" x2="223.01" y2="60.45" stroke="#e06666" stroke-width="0.7" opacity="0.9"/>
<line x1="220.26" y1="62.01" x2="220.23" y2="59.61" stroke="#e06666" stroke-width="0.7" opacity="0.9"/>
<line x1="220.26" y1="62.01" x2="219.98" y2="59.02" stroke="#e06666" stroke-width="0.5" opacity="0.85"/>
<polyline points="232.67,65.1 232.53,64.68 232.21,64.33 231.84,64 231.65,63.6 231.8,63.06 232.13,62.44 232.28,61.9 231.92,61.57 231.04,61.44 230.09,61.35 229.63,61.05 230,60.42 230.91,59.57 231.56,58.83 231.4,58.42 230.43,58.33 229.18,58.35 228.36,58.21 228.39,57.71 229.15,56.93 230.03,56.09 230.34,55.48 229.78,55.23 228.59,55.23" fill="none" stroke="#d65454" stroke-width="1" stroke-linejoin="round" stroke-linecap="round" opacity="0.95"/>
<line x1="230.09" y1="61.35" x2="227.79" y2="60.65" stroke="#d65454" stroke-width="0.7" opacity="0.9"/>
<line x1="230.43" y1="58.33" x2="228.08" y2="57.83" stroke="#d65454" stroke-width="0.7" opacity="0.9"/>
<line x1="230.03" y1="56.09" x2="227.73" y2="55.39" stroke="#d65454" stroke-width="0.7" opacity="0.9"/>
<line x1="230.03" y1="56.09" x2="227.38" y2="54.69" stroke="#d65454" stroke-width="0.5" opacity="0.85"/>
<polyline points="233.63,64.76 233.35,64.29 233.11,63.81 233.09,63.26 233.27,62.64 233.4,62.04 233.16,61.56 232.48,61.22 231.64,60.92 231.15,60.52 231.36,59.9 232.14,59.09 232.9,58.29 232.85,57.75 231.94,57.48 230.66,57.33 229.74,57.06 229.69,56.52 230.42,55.73 231.36,54.88 231.78,54.18 231.31,53.78 230.14,53.59 228.94,53.41 228.39,53.03" fill="none" stroke="#da5a5a" stroke-width="1" stroke-linejoin="round" stroke-linecap="round" opacity="0.95"/>
<line x1="231.36" y1="59.9" x2="229.07" y2="59.17" stroke="#da5a5a" stroke-width="0.7" opacity="0.9"/>
<line x1="229.74" y1="57.06" x2="227.45" y2="56.35" stroke="#da5a5a" stroke-width="0.7" opacity="0.9"/>
<line x1="231.31" y1="53.78" x2="229.25" y2="52.54" stroke="#da5a5a" stroke-width="0.7" opacity="0.9"/>
<line x1="231.31" y1="53.78" x2="228.77" y2="52.17" stroke="#da5a5a" stroke-width="0.5" opacity="0.85"/>
<polyline points="237.78,64.15 237.74,63.6 237.57,63.06 237.48,62.51 237.7,61.98 238.16,61.44 238.54,60.9 238.48,60.36 237.88,59.81 237.08,59.26 236.65,58.71 237.02,58.17 238.08,57.64 239.08,57.12 239.29,56.58 238.58,56.03 237.42,55.47 236.57,54.91 236.6,54.37 237.49,53.84 238.66,53.32 239.35,52.78 239.12,52.24 238.11,51.68 237,51.12" fill="none" stroke="#da5a5a" stroke-width="1" stroke-linejoin="round" stroke-linecap="round" opacity="0.95"/>
<line x1="236.65" y1="58.71" x2="235.17" y2="56.82" stroke="#da5a5a" stroke-width="0.7" opacity="0.9"/>
<line x1="237.42" y1="55.47" x2="239.21" y2="53.87" stroke="#da5a5a" stroke-width="0.7" opacity="0.9"/>
<line x1="239.35" y1="52.78" x2="241.13" y2="51.17" stroke="#da5a5a" stroke-width="0.7" opacity="0.9"/>
<line x1="239.35" y1="52.78" x2="241.32" y2="50.52" stroke="#da5a5a" stroke-width="0.5" opacity="0.85"/>
<polyline points="241.98,64.89 242,64.47 242.13,64.08 242.48,63.78 242.93,63.5 243.19,63.16 243.04,62.68 242.57,62.08 242.19,61.51 242.33,61.13 243.14,60.99 244.24,60.94 244.97,60.77 244.74,60.25 243.85,59.51 242.99,58.77 242.79,58.27 243.49,58.08 244.7,58.08 245.74,58.02 246,57.68 245.4,57.03 244.43,56.26 243.81,55.61 244.03,55.25" fill="none" stroke="#da5a5a" stroke-width="1" stroke-linejoin="round" stroke-linecap="round" opacity="0.95"/>
<line x1="243.14" y1="60.99" x2="245.38" y2="60.13" stroke="#da5a5a" stroke-width="0.7" opacity="0.9"/>
<line x1="242.79" y1="58.27" x2="244.93" y2="57.18" stroke="#da5a5a" stroke-width="0.7" opacity="0.9"/>
<line x1="245.4" y1="57.03" x2="244.62" y2="54.76" stroke="#da5a5a" stroke-width="0.7" opacity="0.9"/>
<line x1="245.4" y1="57.03" x2="244.34" y2="54.23" stroke="#da5a5a" stroke-width="0.5" opacity="0.85"/>
<polyline points="244.7,66.23 244.84,65.79 245.02,65.38 245.41,65.1 245.95,64.93 246.4,64.69 246.51,64.24 246.26,63.55 245.93,62.82 245.96,62.31 246.61,62.21 247.71,62.38 248.69,62.49 248.9,62.1 248.39,61.25 247.65,60.25 247.32,59.51 247.77,59.28 248.87,59.46 250.05,59.69 250.69,59.58 250.53,58.95 249.83,57.98 249.21,57.06 249.22,56.54" fill="none" stroke="#da5a5a" stroke-width="1" stroke-linejoin="round" stroke-linecap="round" opacity="0.95"/>
<line x1="246.61" y1="62.21" x2="246.11" y2="59.86" stroke="#da5a5a" stroke-width="0.7" opacity="0.9"/>
<line x1="247.32" y1="59.51" x2="249.56" y2="58.67" stroke="#da5a5a" stroke-width="0.7" opacity="0.9"/>
<line x1="250.53" y1="58.95" x2="250.19" y2="56.58" stroke="#da5a5a" stroke-width="0.7" opacity="0.9"/>
<line x1="250.53" y1="58.95" x2="253.4" y2="58.07" stroke="#da5a5a" stroke-width="0.5" opacity="0.85"/>
<polyline points="248.67,70.18 249.02,69.83 249.36,69.47 249.82,69.28 250.42,69.31 251.03,69.35 251.46,69.12 251.62,68.47 251.63,67.58 251.77,66.9 252.29,66.8 253.19,67.29 254.18,67.92 254.78,67.96 254.88,67.21 254.67,65.98 254.56,64.91 254.89,64.53 255.72,64.91 256.76,65.63 257.61,66.05 257.98,65.72 257.89,64.68 257.68,63.44 257.74,62.64" fill="none" stroke="#da5a5a" stroke-width="1" stroke-linejoin="round" stroke-linecap="round" opacity="0.95"/>
<line x1="252.29" y1="66.8" x2="252.98" y2="64.5" stroke="#da5a5a" stroke-width="0.7" opacity="0.9"/>
<line x1="254.56" y1="64.91" x2="256.91" y2="65.42" stroke="#da5a5a" stroke-width="0.7" opacity="0.9"/>
<line x1="257.98" y1="65.72" x2="258.63" y2="63.41" stroke="#da5a5a" stroke-width="0.7" opacity="0.9"/>
<line x1="257.98" y1="65.72" x2="258.86" y2="62.85" stroke="#da5a5a" stroke-width="0.5" opacity="0.85"/>
<polyline points="250.24,73.66 250.75,73.64 251.21,73.48 251.61,73.1 252,72.68 252.46,72.5 253.03,72.73 253.68,73.21 254.28,73.51 254.7,73.21 254.95,72.3 255.15,71.22 255.49,70.65 256.13,71.08 256.92,72.05 257.65,72.83 258.16,72.83 258.42,71.95 258.56,70.69 258.81,69.78 259.31,69.73 260.03,70.48 260.82,71.46 261.47,71.93 261.85,71.5" fill="none" stroke="#da5a5a" stroke-width="1" stroke-linejoin="round" stroke-linecap="round" opacity="0.95"/>
<line x1="254.95" y1="72.3" x2="257.12" y2="73.32" stroke="#da5a5a" stroke-width="0.7" opacity="0.9"/>
<line x1="258.16" y1="72.83" x2="258.98" y2="70.57" stroke="#da5a5a" stroke-width="0.7" opacity="0.9"/>
<line x1="260.03" y1="70.48" x2="261.39" y2="68.5" stroke="#da5a5a" stroke-width="0.7" opacity="0.9"/>
<line x1="260.03" y1="70.48" x2="262.77" y2="71.71" stroke="#da5a5a" stroke-width="0.5" opacity="0.85"/>
<circle cx="237.6" cy="77.3" r="14.3" fill="url(#sph)"/>
<line x1="243.57" y1="74.53" x2="243.04" y2="76.46" stroke="#f2a090" stroke-width="1" opacity="0.9"/>
<line x1="241.07" y1="85.32" x2="242.09" y2="87.04" stroke="#f2a090" stroke-width="1" opacity="0.9"/>
<line x1="236.59" y1="80.97" x2="238.21" y2="82.14" stroke="#f2a090" stroke-width="1" opacity="0.9"/>
<line x1="233.52" y1="66.04" x2="233.43" y2="68.03" stroke="#f2a090" stroke-width="1" opacity="0.9"/>
<line x1="225.35" y1="74.77" x2="225.84" y2="76.71" stroke="#f2a090" stroke-width="1" opacity="0.9"/>
<line x1="230.04" y1="75.05" x2="231.55" y2="76.37" stroke="#f2a090" stroke-width="1" opacity="0.9"/>
<line x1="227.38" y1="80.64" x2="228.23" y2="82.45" stroke="#f2a090" stroke-width="1" opacity="0.9"/>
<line x1="235.83" y1="71.6" x2="237.8" y2="71.91" stroke="#f2a090" stroke-width="1" opacity="0.9"/>
<line x1="235.48" y1="84.21" x2="233.55" y2="84.73" stroke="#f2a090" stroke-width="1" opacity="0.9"/>
<line x1="225.38" y1="80.04" x2="227.26" y2="80.74" stroke="#f2a090" stroke-width="1" opacity="0.9"/>
<line x1="244.34" y1="76.75" x2="243.56" y2="78.59" stroke="#f2a090" stroke-width="1" opacity="0.9"/>
<line x1="231.2" y1="87.72" x2="229.91" y2="89.24" stroke="#f2a090" stroke-width="1" opacity="0.9"/>
<line x1="232.64" y1="71.31" x2="231.04" y2="72.51" stroke="#f2a090" stroke-width="1" opacity="0.9"/>
<line x1="238.53" y1="80.88" x2="239.21" y2="82.76" stroke="#f2a090" stroke-width="1" opacity="0.9"/>
<line x1="249.25" y1="80.81" x2="247.52" y2="81.81" stroke="#f2a090" stroke-width="1" opacity="0.9"/>
<line x1="234.78" y1="84.93" x2="233.38" y2="86.36" stroke="#f2a090" stroke-width="1" opacity="0.9"/>
<text x="326.4" y="13.6" font-size="18.5" text-anchor="start" fill="#000">b</text>
<rect x="348.5" y="15.5" width="154" height="153" fill="none" stroke="#8c8c8c" stroke-width="1"/>
<line x1="348.5" y1="163.4" x2="350.3" y2="163.4" stroke="#8c8c8c" stroke-width="0.8"/>
<line x1="502.5" y1="163.4" x2="500.7" y2="163.4" stroke="#8c8c8c" stroke-width="0.8"/>
<text x="346.6" y="166.5" font-size="8.7" text-anchor="end" fill="#1a1a1a">0</text>
<line x1="348.5" y1="136.48" x2="350.3" y2="136.48" stroke="#8c8c8c" stroke-width="0.8"/>
<line x1="502.5" y1="136.48" x2="500.7" y2="136.48" stroke="#8c8c8c" stroke-width="0.8"/>
<text x="346.6" y="139.58" font-size="8.7" text-anchor="end" fill="#1a1a1a">20</text>
<line x1="348.5" y1="109.56" x2="350.3" y2="109.56" stroke="#8c8c8c" stroke-width="0.8"/>
<line x1="502.5" y1="109.56" x2="500.7" y2="109.56" stroke="#8c8c8c" stroke-width="0.8"/>
<text x="346.6" y="112.66" font-size="8.7" text-anchor="end" fill="#1a1a1a">40</text>
<line x1="348.5" y1="82.64" x2="350.3" y2="82.64" stroke="#8c8c8c" stroke-width="0.8"/>
<line x1="502.5" y1="82.64" x2="500.7" y2="82.64" stroke="#8c8c8c" stroke-width="0.8"/>
<text x="346.6" y="85.74" font-size="8.7" text-anchor="end" fill="#1a1a1a">60</text>
<line x1="348.5" y1="55.72" x2="350.3" y2="55.72" stroke="#8c8c8c" stroke-width="0.8"/>
<line x1="502.5" y1="55.72" x2="500.7" y2="55.72" stroke="#8c8c8c" stroke-width="0.8"/>
<text x="346.6" y="58.82" font-size="8.7" text-anchor="end" fill="#1a1a1a">80</text>
<line x1="348.5" y1="28.8" x2="350.3" y2="28.8" stroke="#8c8c8c" stroke-width="0.8"/>
<line x1="502.5" y1="28.8" x2="500.7" y2="28.8" stroke="#8c8c8c" stroke-width="0.8"/>
<text x="346.6" y="31.9" font-size="8.7" text-anchor="end" fill="#1a1a1a">100</text>
<line x1="386.6" y1="168.5" x2="386.6" y2="166.7" stroke="#8c8c8c" stroke-width="0.8"/>
<line x1="386.6" y1="15.5" x2="386.6" y2="17.3" stroke="#8c8c8c" stroke-width="0.8"/>
<line x1="463.6" y1="168.5" x2="463.6" y2="166.7" stroke="#8c8c8c" stroke-width="0.8"/>
<line x1="463.6" y1="15.5" x2="463.6" y2="17.3" stroke="#8c8c8c" stroke-width="0.8"/>
<text x="386" y="178.6" font-size="8.7" text-anchor="middle" fill="#1a1a1a">Control</text>
<text x="463.7" y="178.6" font-size="8.7" text-anchor="middle" fill="#1a1a1a">Experimental</text>
<text x="332.7" y="87.6" font-size="9.1" text-anchor="middle" fill="#1a1a1a" transform="rotate(-90 332.7 87.6)"># of nanoparticles</text>
<line x1="386.6" y1="125.6" x2="386.6" y2="137.3" stroke="#333" stroke-width="0.7" stroke-dasharray="3,1.8"/>
<line x1="386.6" y1="153.1" x2="386.6" y2="162.4" stroke="#333" stroke-width="0.7" stroke-dasharray="3,1.8"/>
<line x1="381.9" y1="125.6" x2="391.5" y2="125.6" stroke="#333" stroke-width="0.7"/>
<line x1="381.9" y1="162.4" x2="391.5" y2="162.4" stroke="#333" stroke-width="0.7"/>
<rect x="374.9" y="137.3" width="23.3" height="15.8" fill="none" stroke="#6b6bff" stroke-width="0.8"/>
<line x1="374.9" y1="143.4" x2="398.2" y2="143.4" stroke="#ff7070" stroke-width="0.8"/>
<line x1="384.8" y1="102.6" x2="388.4" y2="102.6" stroke="#ff5050" stroke-width="0.7"/>
<line x1="386.6" y1="100.8" x2="386.6" y2="104.4" stroke="#ff5050" stroke-width="0.7"/>
<line x1="463.6" y1="22.3" x2="463.6" y2="64.6" stroke="#333" stroke-width="0.7" stroke-dasharray="3,1.8"/>
<line x1="463.6" y1="97" x2="463.6" y2="132" stroke="#333" stroke-width="0.7" stroke-dasharray="3,1.8"/>
<line x1="458.3" y1="22.3" x2="469" y2="22.3" stroke="#333" stroke-width="0.7"/>
<line x1="458.3" y1="132" x2="468.8" y2="132" stroke="#333" stroke-width="0.7"/>
<rect x="452.4" y="64.6" width="23" height="32.4" fill="none" stroke="#6b6bff" stroke-width="0.8"/>
<line x1="452.4" y1="74.4" x2="475.4" y2="74.4" stroke="#ff7070" stroke-width="0.8"/>
<rect x="421.8" y="26.3" width="23.4" height="112.7" fill="#fff" stroke="none"/>
<rect x="434" y="135.9" width="10.9" height="2.9" fill="#0072BD" stroke="none" stroke-width="1"/>
<rect x="434" y="132.1" width="10.9" height="3.8" fill="#D95319" stroke="none" stroke-width="1"/>
<rect x="434" y="123.7" width="10.9" height="8.4" fill="#EDB120" stroke="none" stroke-width="1"/>
<rect x="434" y="120.8" width="10.9" height="2.9" fill="#7E2F8E" stroke="none" stroke-width="1"/>
<rect x="434" y="116.1" width="10.9" height="4.7" fill="#77AC30" stroke="none" stroke-width="1"/>
<rect x="434" y="111.9" width="10.9" height="4.2" fill="#4DBEEE" stroke="none" stroke-width="1"/>
<rect x="434" y="109.1" width="10.9" height="2.8" fill="#A2142F" stroke="none" stroke-width="1"/>
<rect x="434" y="103.3" width="10.9" height="5.8" fill="#0072BD" stroke="none" stroke-width="1"/>
<rect x="434" y="96.4" width="10.9" height="6.9" fill="#D95319" stroke="none" stroke-width="1"/>
<rect x="434" y="95.1" width="10.9" height="1.3" fill="#EDB120" stroke="none" stroke-width="1"/>
<rect x="434" y="89.6" width="10.9" height="5.5" fill="#7E2F8E" stroke="none" stroke-width="1"/>
<rect x="434" y="83.8" width="10.9" height="5.8" fill="#77AC30" stroke="none" stroke-width="1"/>
<rect x="434" y="77.9" width="10.9" height="5.9" fill="#4DBEEE" stroke="none" stroke-width="1"/>
<rect x="434" y="72.5" width="10.9" height="5.4" fill="#A2142F" stroke="none" stroke-width="1"/>
<rect x="434" y="67.6" width="10.9" height="4.9" fill="#0072BD" stroke="none" stroke-width="1"/>
<rect x="434" y="62.4" width="10.9" height="5.2" fill="#D95319" stroke="none" stroke-width="1"/>
<rect x="434" y="56.5" width="10.9" height="5.9" fill="#EDB120" stroke="none" stroke-width="1"/>
<rect x="434" y="50.7" width="10.9" height="5.8" fill="#7E2F8E" stroke="none" stroke-width="1"/>
<rect x="434" y="44.6" width="10.9" height="6.1" fill="#77AC30" stroke="none" stroke-width="1"/>
<rect x="434" y="38.6" width="10.9" height="6" fill="#4DBEEE" stroke="none" stroke-width="1"/>
<rect x="421.8" y="136.9" width="10.8" height="1.9" fill="#0072BD" stroke="none" stroke-width="1"/>
<rect x="421.8" y="135.6" width="10.8" height="1.3" fill="#D95319" stroke="none" stroke-width="1"/>
<rect x="421.8" y="134.7" width="10.8" height="0.9" fill="#EDB120" stroke="none" stroke-width="1"/>
<rect x="421.8" y="132.9" width="10.8" height="1.8" fill="#7E2F8E" stroke="none" stroke-width="1"/>
<rect x="421.8" y="132.1" width="10.8" height="0.8" fill="#EDB120" stroke="none" stroke-width="1"/>
<rect x="421.8" y="131.2" width="10.8" height="0.9" fill="#77AC30" stroke="none" stroke-width="1"/>
<rect x="421.8" y="130.3" width="10.8" height="0.9" fill="#222222" stroke="none" stroke-width="1"/>
<rect x="421.8" y="129.2" width="10.8" height="1.1" fill="#0072BD" stroke="none" stroke-width="1"/>
<rect x="421.8" y="128.4" width="10.8" height="0.8" fill="#EDB120" stroke="none" stroke-width="1"/>
<rect x="421.8" y="126.7" width="10.8" height="1.7" fill="#D95319" stroke="none" stroke-width="1"/>
<rect x="421.8" y="123.6" width="10.8" height="3.1" fill="#EDB120" stroke="none" stroke-width="1"/>
<rect x="421.8" y="122.5" width="10.8" height="1.1" fill="#77AC30" stroke="none" stroke-width="1"/>
<rect x="421.8" y="121.7" width="10.8" height="0.8" fill="#222222" stroke="none" stroke-width="1"/>
<rect x="421.8" y="120.6" width="10.8" height="1.1" fill="#4DBEEE" stroke="none" stroke-width="1"/>
<rect x="421.8" y="119.8" width="10.8" height="0.8" fill="#EDB120" stroke="none" stroke-width="1"/>
<rect x="421.8" y="118.9" width="10.8" height="0.9" fill="#222222" stroke="none" stroke-width="1"/>
<rect x="421.8" y="117.8" width="10.8" height="1.1" fill="#D95319" stroke="none" stroke-width="1"/>
<rect x="421.8" y="116.9" width="10.8" height="0.9" fill="#A2142F" stroke="none" stroke-width="1"/>
<rect x="421.8" y="115" width="10.8" height="1.9" fill="#4DBEEE" stroke="none" stroke-width="1"/>
<line x1="421.8" y1="26.3" x2="421.8" y2="139" stroke="#8c8c8c" stroke-width="0.8"/>
<line x1="421.8" y1="26.3" x2="445.2" y2="26.3" stroke="#bbb" stroke-width="0.7"/>
<line x1="445.2" y1="26.3" x2="445.2" y2="139" stroke="#bbb" stroke-width="0.7"/>
<line x1="421.8" y1="139" x2="445.2" y2="139" stroke="#999" stroke-width="0.7"/>
<line x1="421.8" y1="139.2" x2="423.1" y2="139.2" stroke="#8c8c8c" stroke-width="0.6"/>
<text x="420.6" y="141.6" font-size="6.7" text-anchor="end" fill="#1a1a1a">0</text>
<line x1="421.8" y1="106.6" x2="423.1" y2="106.6" stroke="#8c8c8c" stroke-width="0.6"/>
<text x="420.6" y="109" font-size="6.7" text-anchor="end" fill="#1a1a1a">0.4</text>
<line x1="421.8" y1="74" x2="423.1" y2="74" stroke="#8c8c8c" stroke-width="0.6"/>
<text x="420.6" y="76.4" font-size="6.7" text-anchor="end" fill="#1a1a1a">0.8</text>
<line x1="421.8" y1="41.4" x2="423.1" y2="41.4" stroke="#8c8c8c" stroke-width="0.6"/>
<text x="420.6" y="43.8" font-size="6.7" text-anchor="end" fill="#1a1a1a">1.2</text>
<text x="415.2" y="25" font-size="6.4" text-anchor="start" fill="#1a1a1a">x10</text>
<text x="426.6" y="22.3" font-size="4.2" text-anchor="start" fill="#666">3</text>
<text x="408.8" y="77.6" font-size="8.2" text-anchor="middle" fill="#1a1a1a" transform="rotate(-90 408.8 77.6)">Accumulated # of nanoparticles</text>
<text x="427.4" y="142.6" font-size="7" text-anchor="end" fill="#1a1a1a" transform="rotate(-33 427.4 142.6)">Control</text>
<text x="440" y="142.2" font-size="7" text-anchor="end" fill="#1a1a1a" transform="rotate(-32 440 142.2)">Experimental</text>
<text x="519.9" y="13.7" font-size="18.5" text-anchor="start" fill="#000">c</text>
<line x1="532.3" y1="15.5" x2="684.3" y2="15.5" stroke="#8c8c8c" stroke-width="1"/>
<line x1="532.3" y1="15.5" x2="532.3" y2="166.7" stroke="#8c8c8c" stroke-width="1"/>
<line x1="684.3" y1="15.5" x2="684.3" y2="166.7" stroke="#8c8c8c" stroke-width="1"/>
<line x1="531.9" y1="166.7" x2="531.9" y2="165.4" stroke="#8c8c8c" stroke-width="0.6"/>
<line x1="531.9" y1="15.5" x2="531.9" y2="16.8" stroke="#8c8c8c" stroke-width="0.6"/>
<line x1="545.75" y1="166.7" x2="545.75" y2="165.4" stroke="#8c8c8c" stroke-width="0.6"/>
<line x1="545.75" y1="15.5" x2="545.75" y2="16.8" stroke="#8c8c8c" stroke-width="0.6"/>
<line x1="559.6" y1="166.7" x2="559.6" y2="165.4" stroke="#8c8c8c" stroke-width="0.6"/>
<line x1="559.6" y1="15.5" x2="559.6" y2="16.8" stroke="#8c8c8c" stroke-width="0.6"/>
<line x1="573.45" y1="166.7" x2="573.45" y2="165.4" stroke="#8c8c8c" stroke-width="0.6"/>
<line x1="573.45" y1="15.5" x2="573.45" y2="16.8" stroke="#8c8c8c" stroke-width="0.6"/>
<line x1="587.3" y1="166.7" x2="587.3" y2="165.4" stroke="#8c8c8c" stroke-width="0.6"/>
<line x1="587.3" y1="15.5" x2="587.3" y2="16.8" stroke="#8c8c8c" stroke-width="0.6"/>
<line x1="601.15" y1="166.7" x2="601.15" y2="165.4" stroke="#8c8c8c" stroke-width="0.6"/>
<line x1="601.15" y1="15.5" x2="601.15" y2="16.8" stroke="#8c8c8c" stroke-width="0.6"/>
<line x1="615" y1="166.7" x2="615" y2="165.4" stroke="#8c8c8c" stroke-width="0.6"/>
<line x1="615" y1="15.5" x2="615" y2="16.8" stroke="#8c8c8c" stroke-width="0.6"/>
<line x1="628.85" y1="166.7" x2="628.85" y2="165.4" stroke="#8c8c8c" stroke-width="0.6"/>
<line x1="628.85" y1="15.5" x2="628.85" y2="16.8" stroke="#8c8c8c" stroke-width="0.6"/>
<line x1="642.7" y1="166.7" x2="642.7" y2="165.4" stroke="#8c8c8c" stroke-width="0.6"/>
<line x1="642.7" y1="15.5" x2="642.7" y2="16.8" stroke="#8c8c8c" stroke-width="0.6"/>
<line x1="656.55" y1="166.7" x2="656.55" y2="165.4" stroke="#8c8c8c" stroke-width="0.6"/>
<line x1="656.55" y1="15.5" x2="656.55" y2="16.8" stroke="#8c8c8c" stroke-width="0.6"/>
<line x1="670.4" y1="166.7" x2="670.4" y2="165.4" stroke="#8c8c8c" stroke-width="0.6"/>
<line x1="670.4" y1="15.5" x2="670.4" y2="16.8" stroke="#8c8c8c" stroke-width="0.6"/>
<line x1="684.25" y1="166.7" x2="684.25" y2="165.4" stroke="#8c8c8c" stroke-width="0.6"/>
<line x1="684.25" y1="15.5" x2="684.25" y2="16.8" stroke="#8c8c8c" stroke-width="0.6"/>
<line x1="532.3" y1="153.42" x2="533.6" y2="153.42" stroke="#8c8c8c" stroke-width="0.6"/>
<line x1="684.3" y1="153.42" x2="683" y2="153.42" stroke="#8c8c8c" stroke-width="0.6"/>
<line x1="532.3" y1="139.64" x2="533.6" y2="139.64" stroke="#8c8c8c" stroke-width="0.6"/>
<line x1="684.3" y1="139.64" x2="683" y2="139.64" stroke="#8c8c8c" stroke-width="0.6"/>
<line x1="532.3" y1="125.86" x2="533.6" y2="125.86" stroke="#8c8c8c" stroke-width="0.6"/>
<line x1="684.3" y1="125.86" x2="683" y2="125.86" stroke="#8c8c8c" stroke-width="0.6"/>
<line x1="532.3" y1="112.08" x2="533.6" y2="112.08" stroke="#8c8c8c" stroke-width="0.6"/>
<line x1="684.3" y1="112.08" x2="683" y2="112.08" stroke="#8c8c8c" stroke-width="0.6"/>
<line x1="532.3" y1="98.3" x2="533.6" y2="98.3" stroke="#8c8c8c" stroke-width="0.6"/>
<line x1="684.3" y1="98.3" x2="683" y2="98.3" stroke="#8c8c8c" stroke-width="0.6"/>
<line x1="532.3" y1="84.52" x2="533.6" y2="84.52" stroke="#8c8c8c" stroke-width="0.6"/>
<line x1="684.3" y1="84.52" x2="683" y2="84.52" stroke="#8c8c8c" stroke-width="0.6"/>
<line x1="532.3" y1="70.74" x2="533.6" y2="70.74" stroke="#8c8c8c" stroke-width="0.6"/>
<line x1="684.3" y1="70.74" x2="683" y2="70.74" stroke="#8c8c8c" stroke-width="0.6"/>
<line x1="532.3" y1="56.96" x2="533.6" y2="56.96" stroke="#8c8c8c" stroke-width="0.6"/>
<line x1="684.3" y1="56.96" x2="683" y2="56.96" stroke="#8c8c8c" stroke-width="0.6"/>
<line x1="532.3" y1="43.18" x2="533.6" y2="43.18" stroke="#8c8c8c" stroke-width="0.6"/>
<line x1="684.3" y1="43.18" x2="683" y2="43.18" stroke="#8c8c8c" stroke-width="0.6"/>
<line x1="532.3" y1="29.4" x2="533.6" y2="29.4" stroke="#8c8c8c" stroke-width="0.6"/>
<line x1="684.3" y1="29.4" x2="683" y2="29.4" stroke="#8c8c8c" stroke-width="0.6"/>
<line x1="532.3" y1="15.62" x2="533.6" y2="15.62" stroke="#8c8c8c" stroke-width="0.6"/>
<line x1="684.3" y1="15.62" x2="683" y2="15.62" stroke="#8c8c8c" stroke-width="0.6"/>
<text x="530.3" y="170.9" font-size="8.8" text-anchor="end" fill="#1a1a1a">0</text>
<text x="530.3" y="143.34" font-size="8.8" text-anchor="end" fill="#1a1a1a">4</text>
<text x="530.3" y="115.78" font-size="8.8" text-anchor="end" fill="#1a1a1a">8</text>
<text x="530.3" y="88.22" font-size="8.8" text-anchor="end" fill="#1a1a1a">12</text>
<text x="530.3" y="60.66" font-size="8.8" text-anchor="end" fill="#1a1a1a">16</text>
<text x="530.3" y="33.1" font-size="8.8" text-anchor="end" fill="#1a1a1a">20</text>
<text x="533.2" y="174.6" font-size="8.8" text-anchor="middle" fill="#1a1a1a">0</text>
<text x="559.6" y="174.6" font-size="8.8" text-anchor="middle" fill="#1a1a1a">4</text>
<text x="587.3" y="174.6" font-size="8.8" text-anchor="middle" fill="#1a1a1a">8</text>
<text x="615" y="174.6" font-size="8.8" text-anchor="middle" fill="#1a1a1a">12</text>
<text x="642.7" y="174.6" font-size="8.8" text-anchor="middle" fill="#1a1a1a">16</text>
<text x="670.4" y="174.6" font-size="8.8" text-anchor="middle" fill="#1a1a1a">20</text>
<text x="611.6" y="183.4" font-size="9" text-anchor="middle" fill="#1a1a1a">Position X (μm)</text>
<text x="516.1" y="87.9" font-size="8.7" text-anchor="middle" fill="#1a1a1a" transform="rotate(-90 516.1 87.9)">Position Y (μm)</text>
<g fill="none" stroke-width="0.8" stroke-linejoin="round">
<polyline points="584.59,42.7 584.09,42.98 583.65,42.81 581.84,42.69 584.01,42.93 586.03,43.06 586.8,43.17 583.55,43.64 584.54,43.91 581.24,42.95 579.5,42.69 580.1,42.67 581.11,42.31 581.72,42.53 580.43,43.48 581.51,44.14 580.3,43.73 579.63,43.67 580.86,43.81 579.99,43.28 578.97,43.95 577.4,44.09 578.23,43.27 578.33,43.99 574.39,43.81 574.19,43.36 575.16,43.32 572.3,43.78 573.61,44.3 576.42,44.5 576.65,43.78 577.85,43.45 576.97,42.75 575.08,42.46 577.59,41.34 574.75,41.47 577.57,41.79 573.86,40.41 574.56,40 572.37,40.54 574.52,40.62 575,40.86 578.11,41.2 579.12,41.51 576.06,42.21 577.93,42.5 574.07,42.15 575.72,41.16 575.36,41.72 572.8,42.6 573.88,42.52" stroke="#0072BD"/>
<polyline points="544.6,59.53 544.74,60.82 544.79,63.09 544.5,62.27 544.96,62.32 544.57,64.2 545.22,63.32 544.61,63.05 544.54,62.46 545.17,60.42 545.72,57.9 545.38,59.15 545.88,60.86 546.03,61.14 546.1,62.28 546.02,62.84 546.27,62.84 546.61,63.96 547.5,64.61 547.31,63.87 547.3,65.7" stroke="#EDB120"/>
<polyline points="548.12,63.83 547.58,64 550.52,62.85 548.72,62.96 549.36,63.06 548.67,63.36 549.12,63.12 553.02,63.28 552.13,63.24 551.77,63.21 547.39,62.99 549.01,62.47 548.9,62.89 550.27,63.57 547.55,63.41 547,63.69 548.75,62.48 550.5,61.83 551.59,61.16 551.87,61.7 551.63,61.78 552.91,61.85 552.77,62.53 554.45,62.4 558.85,61.89 560.32,61.77 560.53,62.08 560.89,62.37 558.44,61.69 559.42,61.26 557.78,60.6 559.81,60.93 562.17,60.51 562.17,60 563.4,60.71 561.97,61.42" stroke="#77AC30"/>
<polyline points="596.46,54.66 597.05,54.5 595.86,55.78 595.8,55.23 596.04,55.6 596.95,54.68 597.64,56.02 598.52,55.86 598.07,56.78 598.14,56.9 599,56.66 597.61,56.31 596.49,57.05 596.68,56.49 596.67,57.25 596.72,58.45 596.68,59.4 597.59,60.86 597.18,61.65 596.04,60.67 594.86,61.64 594.11,61.63 593.99,61.6 593.64,61.81 594.72,61.85 595.04,62.76 594.92,61.62 594.59,62.59 593.59,62.05 594.2,62.77 594.2,63.5 594.3,62.43 593.36,61.85 593.92,61.34 593.37,60.64 592.44,60.53 591.73,60.86 590.3,61.16 589.91,59.4 590.35,59.15 589,58.36 589.18,57.94 589.65,58.62 590.05,58.91 590.86,59.51 591.13,57.62" stroke="#4DBEEE"/>
<polyline points="603,56.04 603.86,57.52 603.58,56.99 605.44,55 605.89,57.75 605,58.53 606.81,58.39 607.35,59.41 606.48,59.31 606.76,60.25 606.73,60.03 605.75,59.62 606.61,59.74 605.79,58.78 608.35,60.07 608.96,57.14 609.56,57.68 611.18,58.16 611.11,58.76 609.25,59.93 609.56,59.13 610.83,61.18 609.48,60.43 609.76,60.63 609.38,59.53 611.42,60.71 610.27,59.18 611.91,60.3 613.65,61.22 612.82,61.52 610.74,60.67 610.69,61.26 609.99,61.12 610.43,61.55 611.04,61.78 610.73,62.68 610.78,61.74 610.18,61.74 610.07,61.92 610.07,62.12 609.94,60.69 610.35,61.89 610.76,61.67 611.19,60.58 609.37,60.65 608.48,61.48 607.44,58.51 606.44,60.29 606.07,58.74 605.34,59.33 605.81,59.53 607.24,60.33 607.22,61.01 608.81,62.11 609.79,60.88 609.65,61.71 609.36,62.92 609.94,63.95 609.73,66.83 610.92,66.59 611.01,69.53 610.68,70.52 611.62,70.53 610.5,70.74 610.85,72.02 611.6,72.05 612.42,72.66 612.62,72.72 612.38,73.5 611.37,72.79 611.38,71.13 610.96,68.85 610.3,69.5 610.85,69.44 610.62,67.83 612.38,68.41 613.43,67.42 613.25,65.35 614,66.41 612.18,66.35 612.78,64.36" stroke="#4DBEEE"/>
<polyline points="612.8,56.8 611.09,56.27 610.5,55.57 610.53,55.69 611.12,56.04 612.53,56.62 611.3,56.37 610.31,55.83 610.23,55.84 610.69,55.04 609.54,55.03 609.35,54.88 609.29,54.5 609.95,54.67 609.86,54.34 609.7,52.98 608.78,53 607.37,53.1 607.51,52.41 607.28,52.25 607.71,52.56 607.67,52.13 607.54,52.1 608.23,52.25 607.55,51.57 607.2,51.2" stroke="#7E2F8E"/>
<polyline points="544.43,82.14 543.72,82.05 543.4,82.13 543.74,81.83 545.23,81.6 545.94,81.69 546.65,80 546.17,80.18 546.56,81.84 546.77,82.75 547.26,83.42 547.59,83.31 547.91,82.55 548.67,81.82 548.83,83.33 548.69,83.35 549.43,83.36 548.92,83.55 549.29,84.05 548.79,85.3 549.86,85.31 550.04,85.01 550.94,84.51 551.38,84.17 550.93,84.68 551.79,84.67 551.35,85.25 551.32,85.47 552.3,86.27 551.97,87.9 551.97,88.46 551.55,88.43 550.43,89.7 551.31,88.83 550.34,87.68 551.09,87.35 551.06,87.13 550.98,86.36 550.99,85.33 550.95,85.55 551.25,85.39 550.67,85.5 550.36,86.62 550.85,86.53 550.55,86.03 549.94,85.78" stroke="#7E2F8E"/>
<polyline points="623.44,17.8 623.72,19.41 624.25,25.96 623.59,26 626.2,20.17 625.71,20.7 625.86,21.97 625.63,23.12 625.68,25.52 623.92,22.76 623.92,19.54 622.94,21.5 622.33,23.48 623.03,24.44 623.5,24.11 622.19,24.02 622.61,22.37 622.52,24.7 621.7,26.7 623.44,24.97 623.58,24.5 625.01,25.49 625.85,23.33 625.84,23.3 624.18,27.8 625.02,22.34" stroke="#D95319"/>
<polyline points="646.09,23.77 647.61,23.54 648.53,24.18 645.47,23.81 648.51,22.81 646.43,20.45 643.94,21.04 647.39,21.78 647.89,25.66 646.83,24.49 647.91,25.44 645.84,23.41 646.43,23.84 643.77,23.49 642.66,24.29 642.42,24.14 641.7,25.97 644.54,25.33 646.26,24.01 646.41,25.31 649.5,24.65 649.35,24.99 646.29,25.02 644.91,25.66 642.61,22.23 642.69,22.69 641.56,24.23 641.01,23.18 641.98,20.46 640.6,20.42 642.33,20.14 642.96,19 643.58,21.89 642.18,25.99 640.86,26.02 641.22,27.8" stroke="#4DBEEE"/>
<polyline points="620.56,78.45 619.5,75.85 620.02,76.84 620.55,80.1 620.73,80.41 621.52,80.87 622.94,79.33 622.62,75.06 623.31,74.6 624.1,77.27 624.1,76.96 623.67,75.92 623.13,76.71 623.16,76.79 623.02,77.93 623.44,77.75 624,77.56 623.02,79.37 623.42,78.18 624.34,78.61 623,80.6 623.29,81.71 623.46,81.52 622.13,82.73 622.16,82.37 622.46,82.47 623.04,82.01 623.01,79.36 622.64,80.2 623.79,79.74 623.68,81.71 623.4,82.62 624.84,82.67 625.88,81.79 626.06,81.69 626.16,83.09 628.2,82.27 627.71,82.88 626.81,83.5 627.3,83.16 627.75,81.23 628.4,79.32 627.81,78.63 627.46,79.69 627.53,79.2 628,81.16" stroke="#0072BD"/>
<polyline points="662.99,58.82 663,59.62 664.64,60.21 662.94,65.7 665.86,61.33 665.81,62.25 667.09,63.72 666.73,61.4 666.86,63.67 665.42,61.41 665.39,57.14 665.04,56.18 665.64,54.63 664.47,53.76 664.41,52.3 664.42,53.95 665.99,57.71 664.96,56.79 661.67,60.97 660.71,60.9 661.4,57.9 662.02,57.85 659.6,58.49 661.18,54.37 662.25,54.83 662.88,55.81 664.6,55.31 665.76,54.41 666.72,52.62 666.58,56.43 667.17,56.08 665.65,54.34 665.91,56.41 666.47,57.57 666.42,60.55 665.9,59.33 667.08,59.47 666.71,58.21 666.37,59.58 666.84,56.91 667.4,57.31" stroke="#4DBEEE"/>
<polyline points="651.76,69.15 649.92,70.47 649.4,69.9 650.87,72.14 649.6,72.89 647.99,76.83 647.08,78.86 645.89,80.24 649.97,75.92 649.17,76.77 649,75.63 652.96,75.77 649.94,77.22 646.77,79.18 645.71,79.43 648.03,79.63 645.47,76.74 647.64,78 646.14,79.46 647.06,80.57 642.9,80.05 644.56,81.3 646.18,77.12 646.49,77.96 651.18,76.33 650.58,76.39 652.21,75.64 654.32,74.3 654.81,73.4 655.1,72.22 652.16,74.08 652.72,73.13 653.09,74.82 651.29,74.63 652.28,75.53 651.67,71.94 653.95,72.5 653.98,72.03 654.46,71.3 652.58,70.04 651.48,69 649.35,70.08 646.94,71.21 645.07,71.81 647.6,72.15 646.25,72.23" stroke="#E8743B"/>
<polyline points="649.22,90 649.44,86.87 648.55,87.16 647.87,87.31 648.94,88.69 650.26,89.75 649.84,89.72 649.44,89.16 649.18,86.04 648.69,86 647.28,85.95 648.03,85.66 651.05,80.95 650.75,77.65 652.18,82.44 648.53,82.67 649.29,82.13 650.09,78.08 651.33,78.75 651.37,77.69 652.3,76.81 652.62,75.89 649.35,75.83 649.64,77.19 648.37,77.13 649.27,77.4 651.08,81 649.75,77.53 651,80.29 652.34,81.76 651.44,80.47 652.74,78.82 650.1,77.02 653.72,80.5 652.73,79.18 653.06,77.83 654.97,77.68 653.39,80.05 652.54,80.45 652.52,79.88 652.99,78.63 650.31,74.64 648.46,73.27 648.43,73.37 649.24,73.59 648.09,72.31 645,72 645.71,72.96 645.53,72.64 646.89,72.67 647.97,73.72 648.28,76.08 647.44,75.43 646.27,73.99 648.53,77.17 648.57,78.2 650.28,79.66 652.03,77.38 651.1,78.19 653.19,78.38 651.94,77.74 650.98,76.19 653.16,75.06 653.19,78.97 654.92,79.57 654.03,80.32 656.39,81.44 658.23,81.62 658.98,81.26 659.6,83.6 657.52,83.49" stroke="#7E2F8E"/>
<polyline points="640.65,89.22 640.85,88.69 640.6,89.42 642.19,90 642.45,88.57 643.99,88.64 643.96,87.61 643.92,86.59 643.98,87.02 644,87.28 643.32,88.6 642.8,86.92 642.65,86.22 641.85,85.89 642.08,84.8 641.97,86.12 642.51,85.98 642.61,85.87 642.58,86.54 642.5,84.32 642.49,83.5" stroke="#EDB120"/>
<polyline points="536.81,102.92 537.21,102.08 537.31,105.1 536.65,103.54 535.77,100.21 534.6,100.72 534.21,98.12 533.28,98.98 532.8,98.47 533.01,100.35 534.21,101.79 534.3,102.04 535.43,104.03 535.23,104.66 535.41,104.74 535.1,102.89 534.77,100.75 535.53,101.5 534.78,103.43 535.33,100.78 536.48,101.91 537.77,100.2 538.1,100.79 538.22,101.02 538.88,98.95 538.11,97.01 537.76,96.17 537.99,96.54 538.01,95.6 537.73,96.92 538.21,97.06 538.01,99.22 537.64,100.12 538.36,99.75 538.87,98.2 539.5,98.48 538.51,99.41 537.96,101.19 537.53,100.96 537.71,100.5 537.87,99.73" stroke="#D95319"/>
<polyline points="553.97,105 554.8,105 555.06,102.5 556.49,102.53 554.29,102.62 554.87,103.59 553.54,104.99 553.34,107.17 553.16,107.79 552.71,106.77 554.06,107.6 555.95,108.38 555.24,106.87 554.44,106.25 553.44,106.78 553.84,106.54 554.06,106.4 554.32,107.09 555.5,106.46 553.65,107.76 553.79,108.77 551.77,108.47 551.8,107.16 551.16,107.81 552.49,109.26 551.43,107.99 552.07,108.84 552.31,107.66 553.27,108.38 553.95,107.94 554.32,108.66 553.64,106.98 554.04,107.42 554.06,108.23 553.33,108.15 552.96,108.67 554.92,108.44 557.45,109.83 558.42,110.37 560.6,110.2 560.46,109.24 561.05,110.46 561.7,110.84 561.45,111 559.7,111.95 559.2,110.95 558.27,110.2 559.32,111.16 557.65,112 558.75,111.47 556.92,110.8 556.14,111.11 555.7,109.26 555.98,107.87 557.1,106.77 556.25,106 555.58,107.18 556.63,107.72 557.02,106.32 556.38,105.82 555.18,106.28 554.27,105.63 552.98,103.76 553.71,104.97 553.93,104.09 550.6,104.24 552.1,104.51 553.24,105.86 554.62,105.46 555.92,106.16 554.03,105.79" stroke="#4DBEEE"/>
<polyline points="562.2,101.63 561.37,101.55 561.7,100.8 560.5,101.71 560.72,102.74 559.95,103.49 561.16,104.9 561.04,105.08 560.95,105.78 561.55,105.85 560.76,106.37 560.49,106.81 560.64,107.95 561.3,107.63 561.51,108.87 561.19,109.17 561.89,110.05 562.19,109.13 561.46,109.3 561.68,111.09 561.18,111.89 561.63,110.71 561.15,110.83 560.86,110.72 561.14,110.15 561.41,109.71 561.09,110.08 560.76,110.29 561.69,110.3 561.61,110.82 561.39,111.58 560.64,112.01 560.34,111.45 561.38,110.86 562.4,111.32 563.25,110.63 563.95,111.66 563.88,111.57 565.32,111.69 565.07,111.25 565.33,111.48 565.43,112.69 565.24,113.02 566.09,112.31 566.7,113.6 565.91,112.83 565.3,111.53 565.57,110.23 565.86,111.25 564.92,111.03 563.8,111.58 563.37,111.39 563.4,111.77 563.2,111.78 562.88,111.86 562.19,111.91 561.06,111.56 562.18,111.62 561.45,111.8 560.88,110.64 560.45,111.16 560.67,111.09 560.13,110.33 560.92,110.51 560.36,109.02 559.57,110.76 558.89,110.71 559.02,110.6 558.85,109.63 558.24,110.82 557.8,111.41" stroke="#4DBEEE"/>
<polyline points="574.37,117.56 572.68,117.35 572.94,118.14 571.82,118.6 572.2,118.04 572.68,117.35 571.89,117.34 569.18,117.25 568.18,116.13 567.76,116.72 567.36,117.68 566.2,116.68 567.75,116.99 568.69,116.35 569.49,116.55 570.14,116.57 571.34,116.08 570.38,114.95 571.54,114.38 570.5,113.66 570.05,112.69 569.76,112.21 569.21,111.48 569.25,111.13 569.36,111.32 569.7,109.64 569.17,109.03 569.94,107.83 569.23,107.6 568.89,108.36 568.45,109.1 566.99,107.71 568.21,108.05 568.69,108.14 569.18,107.21 570.12,106.8 571.1,106.87 569.14,105.89 570.26,105.78 569.87,105.97 569.44,105.55 569.55,105.66 571.06,105.7 572.93,107.08 574.64,107.89 574.77,107.99 574.63,107.43 574.56,106.94 576.2,107.35 575.75,105.89 575.7,105.57 574.62,104.7 572.38,105.13 572.31,107.11 572.28,106.99 573.72,107.1 573.89,106.81 573.28,107.96 574.28,109.27 573.93,109.29 573.05,110.03 571.66,110.47 572.76,111.54 571.82,112.38 571.11,111.8 569.79,112.68 571.43,112.23 570.68,111.97 573.18,112.74 572.63,111.36 571.96,112.27 573.83,112.07 573.14,111.68 571.26,112.37 570.17,113.19 568.47,112.21 568.76,111.63 569.54,111.64 568.37,112.11 569.21,110.65 571.03,111.03" stroke="#4DBEEE"/>
<polyline points="549.61,124.7 550.21,123.41 549.65,123.17 550.5,122.16 549.8,120.75 549.61,120.99 548.27,120.58 548.68,121.68 549.2,121.47 548.27,120.82 547.75,120.92 547.71,122.08 547.93,121.33 549.16,121.99 549.23,121.49 547.76,120.78 548.48,120.23 547.43,120.36 547.63,120.78 548.14,121.76 547.48,122.44 546.7,122.92 546.84,123.09 547.61,123.07 548.49,123.68 548.59,123.29 548,122.92 547.84,122.91 550.19,123.35 550.8,122.75 550.24,122.53 550.39,121.81 551.67,121.42 552.52,119.8 552.51,119.99 552.67,120.41 552.89,120.52 551.39,120.03 549.54,120.47 549.78,120.33 549.13,119.93 550.59,121.13 550.55,122.02 549.29,120.68 548.91,120.07 548.47,120.2 550.86,119.74 550.9,119.94 550.87,120.58 552.27,119.72 552.4,119.53 552.68,118.47 551.29,116.87 551.71,117 551.77,115.36 551.47,114.83 550.35,114.2 550.91,114.58 550.89,114.93 550.41,114.98 550.44,115.37 550.39,115.27 550.28,114.82 552.05,115.18 552.39,116.77 553.49,115.69 554.04,116.27 555.53,117.18 556.14,116.36 555.46,116.55 555.85,115.84 555.55,115.57 555.6,115.8 555.37,114.94 556.35,116.05 556.27,116.76 556.62,117.22 557,116.69 557.46,117.39 556.75,118.75 558.4,120.01" stroke="#4DBEEE"/>
<polyline points="564.48,98.82 567.23,99.56 566.76,98.96 565.64,99.08 565.59,99.75 562.8,102.05 565.95,102.03 566.88,102.5 567.26,102.29 567.09,101.47 567.34,101.45 567.78,100.59 567.84,100.64 568.67,99.58 569.25,100.56 570.08,100.19 569.4,99.96 570.41,101.51 570.19,100.87 570.71,101.07 569.45,100.33 569.31,101 567.66,99.99 568.35,98.77 568.5,99.12 568.35,98.1 568.27,97.77 568.73,96.93 570.24,95.26 570,95.27 571.33,94.67 572.08,94.1 573.1,95.83 572.55,96.27 571.26,97.24 572.94,97.28 571.37,97.68 572.96,98.77 574.08,96.94 573.14,98.36 571.45,99.49 574.05,100.25 575.6,99.92 573.91,99.81 573.63,99.77 574.59,99.62" stroke="#0072BD"/>
<polyline points="590.59,100.46 590.78,100.88 590.78,102.72 591.22,102.8 591.01,102.18 592.34,102.33 591.27,101.77 591.14,101.33 592.21,100.17 592.7,100.31 591.53,100.36 591.44,100.86 590.99,101.16 589.34,100.08 590.12,101.12 590.11,100.52 591.18,98.44 590.39,99.11 591.03,98.09 589.16,99.53 589.32,98.64 589.37,99.53 586.8,100.64 587.53,98.57 588.3,96.8 589.43,97.2" stroke="#7E2F8E"/>
<polyline points="599.8,118.87 602.65,118.28 602.65,119.3 601.84,118.61 601.37,118.54 600.01,119.01 600.69,119.08 602.84,118.76 604.49,118.23 605.45,116.34 605.7,116.17 605.07,115.57 604.63,114.87 601.86,114.29 601.17,113.78 599.83,113.64 600.82,113.4 600.2,114.73 601.43,115.63 602.9,115.31 602.73,116.39 602.03,116.28 602.51,116.64 602.16,117.6 601.93,118.31 603.29,118.95" stroke="#77AC30"/>
<polyline points="618.96,122.97 620.4,122.14 617.82,121.7 618.75,122.77 616.35,122.99 614.66,122.47 614.12,122.96 614.54,123.8 612.6,124.43 614.43,124.48 615.37,124.08 613.22,123.79 611.96,125.85 611,127.02 611.4,127.24 612.86,126.69 614.67,126.96 611.68,127.39 612.77,127.71 615.89,127.41 616.9,127.95 615.13,128.8 612.27,127.87 613.3,127.1 613.07,125.93 613.21,125.12" stroke="#77AC30"/>
<polyline points="640.19,137.5 640.47,136.38 640.84,136.19 640.89,136.14 641,135.18 638.88,135.2 638.11,134.87 638.46,133.43 637.83,132.98 636.95,133.22 636.84,132.62 636.02,133.21 635.48,133.64 635.85,132.26 634.95,132.26 635.24,132.83 635.9,133.58 635.59,133.43 636.23,133.12 637.11,131.96 637.65,131.83 636.02,132.55 636.28,132.56 635.39,132.22 636.64,131.62 633.77,131 632.78,130.9 632.45,130.24 631.76,131 630.56,132.42 630.11,131.63 630.76,132.04 629.9,132.59 628.38,131.91 629.31,131.73 628.24,132.1 628.99,132.08 627.5,131.83 627.85,132.39 629.38,132.21 628.98,132.18 629.98,131.49 631.05,129.49 631.71,129 632.09,129.5 631.12,129.44" stroke="#A2142F"/>
<polyline points="648.65,129.62 648.8,130.8 648.24,128.8 647.07,133.93 646.95,133.48 646.04,135.36 645.72,138.26 646.23,138.3 646.68,136.05 646.48,134.89 645.71,134.93 645.62,137.82 643.58,136.47 643.02,135.53 643.28,136.34 643.3,135.39 643.6,136.11 642.48,135.58 641.64,133.2 641.73,133.32 641.8,131.55 641.68,129.71 641.91,131.1 642.98,133.66 642.49,132.73 641.92,133.35 643.12,134.78 641.79,132.24 641,133.28 641,133.89 642.08,132.22" stroke="#7E2F8E"/>
<polyline points="655,85.18 654.17,86.21 654.5,85.8 652.51,85 650.11,85.04 650.15,85.56 650.02,85.19 649.29,86.19 647.56,86.28 647.58,86.61 647.18,86.87 647.99,86.79 647.54,86.69 646.59,86.58 646.29,86.69 647.6,87.38 647.17,87.7 647.46,88.1 647.48,88.24 647.02,87.82 647.87,88.51 648.52,88.73 648.79,88.5 647.03,88.85 647.23,88.56 646.28,89.23 644.51,90.15 645.14,91.39 644.43,91.38 643.94,91.46 643.73,91.07 644.79,90.66 644.29,90.95 643.76,90.72 644.11,90.53 642.89,90.48 642.67,91.37 641.59,91.88 640.82,91.69 640.5,91.83 641.35,92.75 640.72,93.45 641.7,93.88 640.95,94.35 640.85,94.54 640.58,94.88 641.68,95.48 641.48,96 642.9,95.51 644.35,94.81 644.88,95.12 646.34,95.27 645.87,94.85 644.64,95.25 644.41,94.87 644.93,94.47 644.5,94.23 646.12,95 645.97,94.17 646.24,94.21 646.58,94.51" stroke="#7E2F8E"/>
<polyline points="651.09,94.89 650.64,95.79 651.82,96 651.25,95.53 652.23,94.45 652,93.72 650.04,94.31 650,94.35 651.23,92.88 651.14,93.17 652.31,92.11 653.32,92.32 655.23,93.43 656.01,95.54 656.01,95.12 655.53,94.2 655.49,92.36 655.37,92.78 656.77,92.44 658.72,91.8 658.53,89.97 657.46,89.19 659.52,89.7 658,90.21 658.66,89.99 658.69,89.69 657.94,88 657.82,89.23 659.79,88.96 658.76,88.76 660,89.09 659.2,89.44 658.91,89.93 658.35,88.53 658.43,89.25 656.91,89.15" stroke="#0072BD"/>
<polyline points="643.71,90.48 644.58,90 643.94,92.58 644.76,93.88 643.82,95.95 642.19,95.29 642.92,96.98 642,96.14 642.19,93.7 642.82,94.4 642.38,95.08 643.15,95.48 643.66,97.39 643.19,97.59 642.68,98.9 642.28,99.5 642.41,99.58 644.1,99.47 645.49,100.52 646.78,100.31 647.69,101.26 647.09,101.6 646.96,101.56 648.24,100.65 646.59,98.46 646.15,97.65 646.16,98.36 647.89,98.75 648.34,97.82 648.91,99.53 650.22,97.08 651.09,99.07 651.89,97.19 651.59,97.93 652,96.91 651.13,98.12 649.83,99.92 649.85,100.29 648.55,99.55 649.22,97.7 651.24,95.95" stroke="#EDB120"/>
<polyline points="654,99.32 652.6,99.37 653.15,100.28 652.73,100.02 652.46,99.31 649.51,100.5 649.79,100.69 649.08,101 649.06,100.91 650.32,98.79 650.61,97.47 650.25,99.32 649.01,99.2 648.33,100.36 647.21,98.29 647.8,97.86 647.44,99.19 646.42,98.73 646.59,99.24 646,100.51 648.56,100.01 650.7,97.41 652.31,96.99 652.46,96.57 651.74,95 651.28,96.59" stroke="#77AC30"/>
<polyline points="652.39,85.97 654.39,85.65 653.47,85 651.35,86.66 652.52,86.77 651.66,85.83 653.97,86.54 652.3,87.45 650.35,88.04 648.66,87.66 649.53,88.06 651.31,87.29 654.09,88.53 654.07,88.96 652.7,88.82 650.37,88.9 650.73,90.13 652.39,90.88 651.76,90.67 651.16,90.88 647.76,91.59 645,91.11 645.04,90.64 647.97,90.55 650.73,91.63 649.86,92 652.14,91.69 652.3,91.18 652.4,90.86 652.55,91.78 655,91.9" stroke="#4DBEEE"/>
<polyline points="665.47,95 665.63,95.7 665.4,94.84 666.26,94.08 666.99,93.29 668.41,92.44 669.07,93.66 668.32,94.87 667.68,93.43 668.25,94.01 668.09,91.95 668.05,91.7 667.75,91.46 666.36,91 667.76,92.26 667.48,91.68 667.78,92.55 668.35,91.59 668.47,91.71 669.59,92.68 670,93.67" stroke="#7E2F8E"/>
<polyline points="683.01,101.53 682.64,103.82 682.25,104.41 683.1,103.05 682.45,100.43 682.6,100.35 682.3,101.09 680.34,101.06 680.42,100.66 681.16,103.27 680.74,101.87 680.19,102.01 680.73,100.73 681.65,99.2 682.42,99.84 682.85,103.05 682.6,102.8 683.04,104.09 681.81,104.5 681.12,105.43 682.39,105.51 682.29,105.78 679.55,106.93 680.07,107.18 679.71,106.09 679.54,107.89 679.45,109.9 677.06,109.22 677.32,109.2 675.78,108.21 676.94,106.28 676.02,104.65 675.51,105.61 676.06,102.58 677.41,101.7 676.87,104.19 676.79,102.34 676.2,101.26 675.27,100.76 676.08,101.28 674.8,105.43" stroke="#EDB120"/>
<polyline points="660.24,108.16 659.07,108.24 659.11,108.75 658.71,109.06 661.22,109.13 659.93,109.35 658.98,109.1 659.2,109.33 658.86,109.9 658.63,109.02 659.68,108.77 661.12,108.33 661.8,108.54 658.59,107.53 657.26,108.48 655.02,109.1 656.32,109.44 657.12,109.1 657.11,109.25 657.61,109.73 657.36,109.26 656.69,109.53 654.72,108.69 654.23,108.31 653.91,106.51 653.5,106.34 654.42,105 654.06,105.32 654.64,106.13 655.9,105.42 656.65,105.19" stroke="#0072BD"/>
<polyline points="665.82,110.12 665.01,110.93 664.38,110.48 663.97,110.03 664.98,110.23 666.39,110.45 665.77,111 665.11,110.76 664.95,110.78 666.15,110.46 666.5,110.44 665.23,109.87 665.01,110.08 665.34,110.33 665.39,110.1 665.81,109.57 664.46,109.39 663.02,109.12 662.27,108.83 662.23,108.4 661.8,107.5" stroke="#7E2F8E"/>
<polyline points="675.93,117.03 676.26,116.69 677.19,115.59 675.35,115.68 669.73,115.54 669.95,115.58 666.5,115.67 666.84,115.29 668.56,115.27 668.6,115.1 669.86,115.13 672.48,115.31 671.06,115.22 673.18,115.08 674.06,115.28 673.65,114.37 673.95,114.46 674.26,114.16 677.05,114.11 675.61,113.83 676.44,113.4 674.13,114.18 677.16,114.59 680.31,114.83 676.42,115.3 679.28,115.49 674.76,115.97 677.91,115.78 678.21,116.09 678.01,116.52 678.2,116.79 678.4,116.21 676.09,117.45 676.74,117.96 679.37,118.63 680.66,118.4 680.7,117.65 680.26,118 675.26,118.08 677.17,118.6 675.02,118.35 670.68,117.95 671.91,118.76 669.26,119.3 670.25,119.11 675.33,118.12" stroke="#A2142F"/>
<polyline points="660.65,120.5 660.6,120.6 662.22,121.46 663.95,121.52 664.69,122.17 665.08,122.34 664.94,122.15 664.01,123.08 663.67,122.09 663.87,122.07 664,122.93 663.92,122.81 663.35,122.8 663.02,122.89 665.4,123.08 664.75,124" stroke="#77AC30"/>
<polyline points="665.4,126.4 666.09,126.74 666.67,127.09 667.21,127.68 668.01,128.25 667.61,128.24 667.03,128.65 667.69,128.45 668.16,129.55 669.16,129.08 669.08,129.35 669.05,129.51 670,129.65 669.12,129.95 669.04,130 668.59,129.42" stroke="#0072BD"/>
<polyline points="683.1,128.8 682.29,128.49 681.59,126.14 682.34,125.13 681.86,125.6 680.29,126.76 679.79,127.33 679.48,127.6 679.54,127.59 678.35,126.32 678.32,127.54 677.97,128 678.07,128.42 678.72,127.12 678.9,126.97 678.7,126.23 678.18,125.34 677.47,127.51 678.58,127.52 679.06,126.68 677.25,125.1 677.34,126.34 677.31,125.48 677.15,124.61 676.24,124.41 675.98,123.71 675.4,122.9 675.56,124.11 675.42,126.05 674.36,126.28 673.61,126.14 673.67,126.63 674.41,126.15 673.6,125.98 673.79,125.38 674.38,126.84" stroke="#D95319"/>
<polyline points="607.24,144.36 606.17,144.64 606.93,143.17 607.09,143 606.02,144 606.18,143.64 606.51,144.13 607.09,144.57 607.4,143.67 607.08,143.77 605,145.4" stroke="#EDB120"/>
<polyline points="578.7,134 578.54,131.02 577.78,131.73 577.79,130.08 577.62,127.57 577.3,127.3 577.03,129.21 576.97,129.58 577.14,133.17 577.39,133.82 577.33,131.54 577.18,133.47 577.28,132.37 576.72,128.05 576.85,130.95 577.01,127.07 576.92,127.7 576.53,128.67 576.45,126.32 575.93,128.61 576.08,126.1 575.65,128.62 575.9,127.76 576.57,126.94 576.13,130.02 576.05,130.99 576.07,128.17 575.57,127.62 576.16,124.79 576.73,125.41 576.26,126.16 576.5,123.63 575.61,124.63 575.14,125.87 574.34,125.47 574,121.3" stroke="#7E2F8E"/>
<polyline points="568.07,142.23 567.87,142.43 567.4,141.07 567.58,139.05 568.03,139.62 569.45,140.64 569.75,140.94 569.77,139.41 571.01,140.02 570.76,138.7 572.02,139.31 571.02,140.09 572.62,140.06 572.95,139.58 572.42,140.82 575.02,140.95 574.91,141.86 574.66,142.7 575.36,141.53 574.45,141.45 575.15,141.76 576.2,140.18 576.62,139.47 576.7,139.84 575.88,139.57 574.9,139.88" stroke="#A2142F"/>
<polyline points="586.04,134.33 584.47,133.87 584.87,133.26 587,132.66 588.57,132.93 586.66,132.73 585.11,132.39 584.61,134.09 583.83,135.55 584.66,134.33 580.38,134.96 576.7,135.64 578.6,136 578.21,135.77 578.69,135.48 577.7,135.14 579.87,134.56 580.57,133.48 579.25,132.2 578.89,132.84 579.45,132.38 580.58,132.06 581.27,132.31 582.27,130 579.86,130.72 579.67,132.81 579.23,132.3 581.99,132.82 585.49,133.29 585.12,133.97 583.66,133.55 582.64,133.34 584.08,132.9 584.67,132.43 586.3,129.86 585.92,130.02 583.93,130.96 584.33,132.16 586.1,132.76 585.83,131.74 585.42,131.32 585.88,130.88 591.51,129.39 593.68,128.96 593.23,129.82 593.24,128.69 594,128.51 590.21,128.69 588.26,128 589.15,128.28 588.62,130.3" stroke="#A2142F"/>
<polyline points="602.84,142.58 603.83,141.89 604.4,141.76 599.15,140 595.85,142.3 595.41,141.99 594.07,143.09 594.13,144.99 596.01,146.82 595.73,147.24 594.7,147.05 590.59,146.4 588.33,145.68 591.22,145.97 594.13,146.92 596.31,148.04 594.88,148.94 594.11,148.35 596.95,150.75 594.63,152.69 596.6,151.74 597.25,152.16 598.14,151.76 595.09,151.79 597.13,152.67 598.7,153.89 596.35,153.85 597.16,154.96 597.53,155.53 597.84,157.87 592.66,157.84 598.54,158.1 594.19,158.25 590.79,157.5 591.32,159.4 592.42,160.15 594.83,160.37 592.8,160.26 593.6,159.95 592.02,159.55 588.45,158.41 588.24,158.01 588.33,159.57 589.04,159.54 586.26,158.34 587.15,157.37 588.16,156.18 588.48,156.1 590.84,155.66 589.96,155.93 590.09,157.81 589.48,157.21 588.72,157.74 589.28,158.51 586,161.26 590.36,161.23 587.5,161.4 588.48,158.92 588.51,157.28 589.6,158.81 592.05,157.14 595.32,158.15 594.47,158.7 598.06,158.34 598.03,157.71 600.77,155.32 604.13,154.25 606.33,152.44 604.11,151.78 606.07,149.98 607.5,149.27" stroke="#A2142F"/>
<polyline points="606.32,158.78 607.18,158.17 607.52,157.83 608.76,157.11 608.75,161.04 608.8,162.4 608.29,162.79 606.72,163 606.27,160.03 605.29,162.29 605.58,159.29 606.84,157.91 606.58,158.4 605.8,155.2 605.28,157.53 605.94,154.41 606.77,154.47 607.12,154.58 607.41,152.6 606.78,151.21 606.52,152.43 605.68,155.59 605.24,154.42 605.73,155.28 605.49,153.16 604.8,150" stroke="#A2142F"/>
<polyline points="560.71,138.7 563.7,139.52 568.6,139.89 569.47,140.46 571.97,140.27 572.89,141.89 568.45,140.83 565.93,141.4 569.04,141.14 570.8,141.11 571.59,140.7 571.52,140.7 574.48,142.38 569.72,142.78 569.71,143.51 572.5,144.1 574.62,143.38 570.14,144.64 573.31,143.92 576.7,144.43 570.26,145.11 567.67,145.98 565.88,145.42 561.83,145.26 564.5,144.75 559.62,146.37 564.46,146.89 563.05,145.98 558.75,146.4 562.16,145.6 562.16,145.39 561.49,145.77 566.98,145.29 569.21,146.11 568.46,146 564.94,146.81 563.55,146.32 563.72,145.67 560.99,145.45 564.89,145.29 566.28,144.18 561.16,145.56 560.11,144.39 559.84,144.85 555.3,144.19 555.98,143.49 558.08,144.22 559.24,143.89 559.12,143.41 558.77,143.65 557.98,144.39 564.81,143.98 565.71,144.6 567.4,144.42 566.14,145.18 567.79,145.56 565.67,146.04 567.76,145.9 569.46,147.54 564.52,148 561.44,146.97" stroke="#D95319"/>
<polyline points="560.7,148.86 560.46,149.23 560.52,148.44 559.07,148.06 559.09,147.5 557.58,148.69 556.74,148.58 556.18,148.18 556.23,147.98 556.85,147.18 555.35,148.5 555.28,149.02 556.46,149.4 556.5,148.34 554.89,149.01 555.57,149.39 553.9,147.94 552.84,147.14 553,146.44 554.59,146.02 554.03,146.61 554.36,146 555.19,147.31 553.95,147.14 552.87,145.81 553.5,146.29 554.48,146.58 552.45,146.56 551.78,145.76 550.66,146.28 550.36,147.62 550.84,146.32 551.74,147.17 551.77,146.35 553.55,145.45 553.47,144.15 552.2,142.99 553.3,143.79 552.89,142.86 552.83,143.12 551.29,142.33 551.19,142.81 551.26,143.12 550,141.42 550.32,140.79 550.19,140.53 550.68,140 552.14,140.02 552.67,140.45 553.73,140.73 551.95,140.3" stroke="#4DBEEE"/>
<polyline points="570,133.4 572.24,134.34 572.92,135.26 572.14,133.92 571.36,136.22 571.8,139.75 572.4,143.5 572.96,141.15 575.06,141.82 576.5,142.25 576.1,142.59 574.74,140.21 573.67,139.17 572.03,138.96 572.4,143 574.63,142.9 575.7,142.46 576.17,142.4 575.51,142.55 573.72,143.42 573.37,141.26 572.94,142.37 572.11,143.32 572.8,146.43 571.49,146.21 572.11,149.2 572.43,150.71 570.64,149.54 572.66,148.98 575.29,147.52 574.95,144.33 575.72,144.86 578.18,145.19 577.87,142.37 577.77,144.27 578.67,146.73 579.72,146.63 580.46,146.98 578.84,150.41 579.29,148.3 579.76,148.88 580.98,151.78 577.27,152.89 579.14,150.99 576.87,151.55 577.28,152.25 575.93,151.31 576.17,152.81 578.84,153.4 578.11,148.66 579.42,148.39 579.28,146.41 580.18,142.8 580.31,143.05 580.68,145.67 580.56,145.86 581.61,142.74 581.25,142.88 582.42,141.26 583.4,142.04 581.58,139.06" stroke="#EDB120"/>
<polyline points="592.29,138.08 590.37,138.23 590.65,138.99 591.75,138.41 593.19,139.28 593.82,139.79 592.09,140.17 590.7,138.9 590.23,139.05 590.16,138.7 588.82,138.9 587.82,137.4 587.94,138.95 587.4,137.82 589.26,139.64 588.87,139.42 589.15,142.56 589.33,143.62 589.93,141.68 588.45,140.37 589.03,140.48 591.44,140.19 591.86,140.27 592.04,142.75 592.43,144.32 594.18,143.67 595.1,143.26 595.25,143.43 595.28,142.93 597.37,142.65 598.32,144.44 599.17,145.54 601.04,146.7 603.36,145.17 606,145.2 603.64,144.52 601.76,144.5 599.75,143.42 600.15,143.59 599.07,143.34 598.94,143.42 598.93,143.18 600.12,141.46 599.45,141.61 598.91,141.02 598.32,141.24 600,141.04 599.64,141.42 599.31,139.35 599.67,138.95 598.9,139.62" stroke="#EDB120"/>
<polyline points="594.32,153.4 594.41,152.38 590.34,149.29 590.37,149.07 591.19,149.48 590.3,147.2 588.25,146.95 586.11,148.31 583.63,145.08 583.27,141.88 586.31,140.1 586.21,139.66 584.68,136.47 581.21,138.03 583.11,141.93 580.39,142.94 580.36,144.46 579.4,145.76 581.07,146.86 583.77,146.54 586.65,145.28 589.77,140.33 589.79,138.89 589.8,140.74 591.14,140.92 594.31,138.25 592.79,140.98 593.41,137.24 594.04,135.1 596.8,137.16 595.78,139.5 594.22,141.15 595.3,140.93 592.65,140.42 588.38,139.41 584.92,141.6 583.12,137.21 584.21,137.88 583.26,141.69 584.7,141.81 583.5,136.49 584.4,138.22 583.29,135.67 583.21,132.66 583.23,134.05 586.05,134.53 586.41,135.88 589.03,135.3 586.73,133.87 584.38,132.27 584.16,132.89 584.45,133.02 583.78,133.78 585.44,135.15 588.23,134.63 587.76,137.68 588.14,138.42 587.51,140.17 586.76,138.35 586.65,137.56 588.2,136.88 588.43,136.49 589.07,135.35 591.13,132.78 590.41,131.51 591.62,131.58 592.53,130.98 591.19,128.97 590.56,128 591.08,128.64 592.91,128.45" stroke="#77AC30"/>
<polyline points="583.58,150.55 582.47,149.4 582.56,149.79 585.46,149.99 588.07,152.01 586.51,153.32 588.2,154.78 588.19,155.81 587.47,155.73 587.5,157.66 587.18,158.69 587.28,157.93 587.64,158.64 586.58,159.33 585.52,158.38 585.85,158.12 584.39,156.36 584.42,156.62 583.74,156.83 581.46,157.25 582.08,157.55 581.17,157.64 581.37,158.79 581.78,159.07 580.7,160 582.44,159.47 583.39,159.8 583.33,158.41 585.94,156.39 586.39,155.99 588.09,155.53 588.15,156.19 588.83,155.63 589.84,156.05 591.31,155.5 591.24,155.08 590,155.35 590.6,156.88 590.12,157.3 591.82,157.18 591.91,157.32 590.89,156.26 592.54,156.44 592.43,155.11 592.61,156.37 590.9,155.41 592.55,156.95 594.85,156.36 595.74,155.55 596.51,155.15 596.8,156.6" stroke="#0072BD"/>
<polyline points="589.34,154.93 589.8,154.8 589.88,154.94 589.18,155.05 590,155.88 587.18,155.25 585.49,155.71 588.82,155.81 588.99,156.42 585.65,156.32 581.39,156.4 580.7,156.15 581.16,155.84 582.68,155.84 583.2,157.18 582.59,157.67 581.46,158.33 582.78,158.41 584.13,159.26 586.01,159.26 585.94,159.85 583.93,159.53 584.59,159.83 587.13,160.76 587.57,160.99 585.77,160.89 586.13,160.77 586.21,161.1 584.92,160.8 582.5,161.4 581.06,160.5 582.11,160.39 583.42,160.19 586.32,160.57 586.52,160.63 586.24,161.06" stroke="#4DBEEE"/>
<polyline points="627.3,55.5 628.87,55.11 628.14,55.47 629.01,54.28 628.58,53.46 629.08,53.75 628.62,52.84 629.21,51.23 629.77,51.04 631.27,51.69 630.92,51.41 630.8,50.79 630.94,51.42 629.91,51.17 631.09,51.64 630.57,50.96 630.02,49.7 630.96,49.67 630.52,48.53 630.32,48.07 631.67,47.65 631.84,48.36 632.42,48.14 630.89,49.1 631.41,48.69 631.43,47.91 630.85,46.73 631.3,47.03 631.51,47.53 631.99,47.54 631.42,47.89 632.37,48.28 633.38,47.85 632.74,48.69 632.39,48.79 632.33,48.72 632.21,48.24 630.98,49.57 631.21,48.07 630.63,47.16 630.16,45.2 630.67,46.33 630.57,46.79 631.09,45.8 632.07,44.48 631.73,44.13 632.74,44.14 632.73,43.46 632.87,43.41 633.49,44.36 634.12,44.29 634.09,45.39 634.32,45.29 635.72,46.37 636.22,46.2 635.83,46.91 635.58,47.53 635.09,47.53 635.47,47.55 635.72,47.75 634.98,46.86 634.95,48.1 634.94,47.34 634.54,47.28 635.49,46.79 635.98,46.84 635.8,46.07 635.77,45.46 636.25,44.09 637.16,44.56 637.66,45.58 638.19,44.24 638.31,44.49 637.89,43.58 638.29,43.88 638.06,43.62 637.77,43.12 637.81,43.83 636.71,43.5 637.98,43.65 638.17,44.18 637.52,43.21 636.39,42.07 636.65,42.61 636.43,42.03 636.81,42.4 637.08,40.92 636.76,38.99 637.02,38.29 636.62,39.31 637.67,39.58 637.95,39.62 637.61,39.51 639.09,38.78 638.68,38.82 639.42,39.35 638.79,39.17 638.68,38.19 638.82,37.76 639.57,38 639.09,37.97 638.91,37.43 638.64,38.13 638.42,36.79 637.93,37.3 639.58,36.45 639.41,36.13 638.46,36.34 638.51,36.47 640.22,36.19 640.88,36.72 640.5,36.21 641.72,36.65 641.91,35.77 642.63,36.07 644.32,37.07 644.99,37.18 645.11,36.7 645.42,36.8 645.98,37.51 646.29,37.03 646.96,38.08 646.43,38.31 646.91,38.62 647.36,38.47 647.37,39.62 648.72,38.52 646.95,38.75 646.54,38.3 645.46,38.47 645.5,38" stroke="#EDB120"/>
<polyline points="641,42 641.54,43.31 642.42,43.89 642.19,44.17 642.19,44.74 642.54,44.62 642.88,44.09 643.36,44.87 643.16,45.09 642.21,45.53 642.73,44.83 643.77,44.79 642.77,43.89 643.3,43.62 643.96,42.62 643.92,43.08 643.54,43.37 643.34,43.47 643.55,44.67 642.84,45.02 643.62,44.26 643.69,45.5 644.31,43.66 644.19,42.56 644.38,42.03 644.07,41.44 644.26,41.07 643.75,40.83 644,40.22 644.66,39.15 644.92,38.82 645.85,38.34 645.48,37.45 646.65,37.71 646.04,37.41 645.49,38.19 645.75,36.9 645.89,37.33 645.91,37.5 645.86,37.52 646,37" stroke="#EDB120"/>
<polyline points="617,32 617.34,32.31 617.49,32.2 617.16,32.55 617.73,31.61 617.64,32.49 618.26,32.37 619.08,32.12 618.87,33.29 618.82,33.41 618.19,33.15 617.79,33.31 617.07,34.06 617.06,33.99 616.92,34.58 617.84,34.61 618.79,35.62 619.61,35.99 619.06,36.55 619.03,36.87 618.28,36.96 618.56,36.74 618.87,37.78 619.15,37.67 620.48,36.85 620.2,37.28 620.08,36.39 620.38,37.02 620.16,37.97 620.57,38.77 620,39" stroke="#4DBEEE"/>
<polyline points="622,31.5 622.62,32.61 623.11,32.84 623.1,32.79 623.5,32.72 623.47,32.04 622.72,33.05 622.66,33.37 621.62,33.59 622.44,33.16 621.31,33.31 620.99,33.45 620.36,33.08 619.73,33.59 619.62,34.18 619.06,34.67 618.79,34.94 619.11,35.18 618.87,34.68 618.81,35.25 618.45,35.45 617.59,35.09 617.68,35.89 617.46,35.38 617.21,34.92 617,36" stroke="#4DBEEE"/>
<polyline points="627,54 627.2,53.93 627.83,53.72 628.05,53.86 628.34,53.01 628.78,53.55 627.46,51.97 626.96,52.87 627,53.29 627.35,53.83 627,53.5 627.24,53.88 627.61,54.1 627.34,54.77 627.65,55.41 626.17,56.03 624.76,56.17 624.39,56.26 624.13,56.09 624.27,56.32 623.82,54.84 623.39,55.18 622.91,55.45 622.72,54.91 623.44,55.91 623.4,55.9 623.99,55.13 623.5,55.82 624.06,55.55 623.62,55.77 622.81,55.5 622.7,54.06 623.07,54.53 623.73,53.69 622.99,53.23 622.24,54.46 621.69,54.3 621.83,54.59 622.72,53.96 623.27,54.06 622.59,54.17 621.78,55.16 621.38,55.77 622.17,55.42 621.66,55.52 621.06,56.07 621.19,55.64 620.81,56.09 619.97,57.11 619.53,57.01 619,58" stroke="#A2142F"/>
<polyline points="619,58 619.45,58.97 619.81,59.21 620.78,59.8 621,60.34 621.41,60.7 621.27,59.94 622.46,59.35 621.14,59.12 622.26,60.04 621.86,60.39 621.81,59.4 621.57,59.76 622.23,59.24 620.85,58.49 621.01,58.73 621.06,59.01 620.8,58.38 621.04,58.81 621.35,59.75 620.57,58.54 619.46,60.01 618.88,60.44 618.83,61.07 620.72,60.95 620.58,60.79 620.69,61.29 620.07,62.27 620.72,62.73 620.62,62.78 619.6,63.37 618.97,63.26 619.53,62.9 619.18,63.61 620.26,63.39 620.89,63.19 621.08,63.67 620.36,64.48 621.4,64.7 621.53,64.19 622.56,64.42 621.76,65.07 620.85,64.85 619.53,65.87 620.82,65.68 620.39,65.53 620.01,66.05 620.85,65.64 621.08,64.75 621.96,64.89 621.5,66" stroke="#A2142F"/>
<polyline points="621,52 621.1,52.83 621.8,53.8 621.55,53.98 621.89,54.02 622.81,53.81 623.47,54.64 622.65,54.3 622.35,54.17 622.7,54.23 622.9,54.15 623.01,54.53 623.54,54.29 623.64,54.05 623.71,53.48 624.34,53.96 624.43,53.76 624.36,53.57 623.75,54.54 625.55,54.07 625.12,54.5 625.58,53.86 624.77,54.28 623.93,55.13 623.84,55.32 624,55.19 624.08,55.18 624.86,55.28 625,55.16 624.84,54.94 625,56" stroke="#A2142F"/>
<polyline points="612.67,105.14 610.67,105.27 607.46,104.23 604.34,104.15 603.14,102.38 600.9,103.83 600.13,102.3 599.12,100.05 598.28,99.32 596.81,97.31 596.78,95.04 595.44,93.22 594.86,91.78 595.69,90.21 596.51,89.15 595.5,87.46 597.73,86.82 599.75,87.44 600.31,85.15 600.82,85.73 600.58,86.59 603.82,86.18 603.15,88.44 602.26,88.63 603.16,90.28 603.31,90.8 604.94,91.9 605.04,91.66 607.03,92.48 609.1,92.96 611.64,93.58 611.5,95.61 612.58,95.88 612.5,96.85 613.9,98.07 614.35,99.34 613.97,99.44 614.53,100.71 611.88,103.12 611.5,102.44 610.91,101.65 608.14,102.3 606.51,102.5 606.06,101.94 605.08,99.7 603.62,98.87 602.7,99.32 602.46,98.9 600.45,98.74 601.24,101.29 599.66,102.63 599.6,104.19 600.18,104.57 600.26,105.3 599.88,106.65 602.39,105.07 606.07,105.37 608.49,106.02 611.45,106 612.53,106.56 614.47,105.45 617.93,105.87 619.59,106.29 622.82,105.52 625.43,108.64 627.29,109.34 629.42,110.67 634.17,110.45 635.5,111.97 636.8,112.71 638.55,113.08 639.52,115.66 641.99,115.83 644.52,116.45 645.75,116.26 649,117.5" stroke="#E8703A"/>
<polyline points="601.38,106.6 599.81,106.99 599.36,109.06 599.71,110.02 598.44,111.21 598.19,111.55 597.7,112.6 598.24,115.04 597.42,116.69 598.04,117.58 597.12,118.67 596.65,121.54 597.72,122.62 597.76,124.21 598.8,125.27 599,126" stroke="#E8703A"/>
</g>
<defs><clipPath id="cclip"><rect x="532.3" y="15" width="152" height="152"/></clipPath></defs>
<polyline clip-path="url(#cclip)" points="531,84 531.15,83.55 531.36,82.91 531.61,82.16 531.86,81.37 532.1,80.63 532.3,80 532.44,79.55 532.54,79.24 532.62,78.96 532.71,78.64 532.83,78.18 533,77.5 533.22,76.54 533.46,75.37 533.74,74.06 534.04,72.7 534.36,71.35 534.7,70.1 535.06,68.94 535.44,67.81 535.85,66.7 536.28,65.6 536.73,64.5 537.2,63.4 537.69,62.29 538.21,61.17 538.74,60.05 539.3,58.94 539.89,57.86 540.5,56.8 541.14,55.76 541.8,54.72 542.49,53.7 543.21,52.71 543.94,51.78 544.7,50.9 545.49,50.08 546.3,49.31 547.14,48.59 548,47.91 548.85,47.28 549.7,46.7 550.54,46.19 551.39,45.75 552.24,45.36 553.09,44.99 553.94,44.61 554.8,44.2 555.66,43.75 556.53,43.28 557.41,42.8 558.28,42.33 559.14,41.89 560,41.5 560.79,41.18 561.5,40.92 562.21,40.69 562.99,40.45 563.89,40.16 565,39.8 566.36,39.33 567.91,38.78 569.61,38.19 571.36,37.59 573.12,37.01 574.8,36.5 576.42,36.06 578.04,35.67 579.65,35.31 581.26,34.96 582.88,34.59 584.5,34.2 586.15,33.79 587.83,33.37 589.52,32.95 591.18,32.5 592.78,32.02 594.3,31.5 595.74,30.93 597.12,30.31 598.45,29.66 599.72,28.98 600.94,28.29 602.1,27.6 603.18,26.88 604.18,26.13 605.12,25.37 606.03,24.61 606.95,23.88 607.9,23.2 608.88,22.56 609.86,21.95 610.85,21.36 611.84,20.81 612.82,20.29 613.8,19.8 614.77,19.35 615.73,18.94 616.69,18.57 617.66,18.22 618.62,17.9 619.6,17.6 620.56,17.32 621.5,17.06 622.44,16.83 623.42,16.63 624.46,16.45 625.6,16.3 626.83,16.19 628.14,16.1 629.51,16.05 630.94,16.02 632.4,16 633.9,16 635.48,16 637.16,16.01 638.89,16.04 640.59,16.1 642.22,16.18 643.7,16.3 645.03,16.46 646.26,16.66 647.41,16.89 648.5,17.15 649.56,17.42 650.6,17.7 651.62,17.99 652.61,18.29 653.57,18.61 654.49,18.95 655.36,19.31 656.2,19.7 656.99,20.1 657.73,20.5 658.43,20.92 659.1,21.38 659.76,21.9 660.4,22.5 661.03,23.18 661.64,23.93 662.24,24.73 662.81,25.59 663.37,26.48 663.9,27.4 664.42,28.36 664.91,29.37 665.39,30.43 665.85,31.5 666.29,32.6 666.7,33.7 667.08,34.81 667.42,35.95 667.74,37.11 668.06,38.27 668.37,39.44 668.7,40.6 669.05,41.76 669.4,42.91 669.75,44.07 670.1,45.23 670.45,46.41 670.8,47.6 671.12,48.77 671.42,49.9 671.72,51.04 672.03,52.24 672.39,53.55 672.8,55 673.29,56.63 673.83,58.42 674.42,60.31 675.02,62.26 675.62,64.2 676.2,66.1 676.76,67.99 677.33,69.91 677.89,71.84 678.45,73.73 678.99,75.57 679.5,77.3 679.99,78.95 680.46,80.53 680.91,82.06 681.35,83.51 681.78,84.89 682.2,86.2 682.62,87.43 683.03,88.6 683.43,89.69 683.81,90.7 684.17,91.64 684.5,92.5 684.81,93.29 685.11,94 685.39,94.64 685.64,95.2 685.85,95.65 686,96" fill="none" stroke="#3d74b0" stroke-width="1.3" stroke-dasharray="1.1,1.3"/>
<polyline clip-path="url(#cclip)" points="687,122.5 686.72,122.63 686.36,122.78 685.92,122.97 685.39,123.22 684.75,123.56 684,124 683.12,124.59 682.12,125.32 681.02,126.14 679.83,126.98 678.59,127.78 677.3,128.5 675.91,129.13 674.37,129.73 672.78,130.29 671.2,130.83 669.72,131.33 668.4,131.8 667.33,132.22 666.47,132.58 665.7,132.91 664.91,133.24 663.98,133.59 662.8,134 661.35,134.43 659.71,134.86 657.94,135.32 656.08,135.83 654.18,136.41 652.3,137.1 650.41,137.91 648.46,138.81 646.48,139.8 644.48,140.84 642.48,141.91 640.5,143 638.53,144.11 636.57,145.28 634.61,146.48 632.64,147.69 630.67,148.9 628.7,150.1 626.72,151.3 624.74,152.51 622.75,153.72 620.76,154.92 618.78,156.09 616.8,157.2 614.82,158.31 612.83,159.43 610.85,160.52 608.88,161.53 606.92,162.4 605,163.1 603.09,163.6 601.19,163.94 599.31,164.14 597.46,164.25 595.65,164.29 593.9,164.3 592.25,164.25 590.7,164.12 589.19,163.93 587.68,163.68 586.1,163.4 584.4,163.1 582.48,162.76 580.37,162.35 578.19,161.91 576.09,161.46 574.18,161.05 572.6,160.7 571.44,160.43 570.61,160.23 569.97,160.06 569.41,159.88 568.8,159.67 568,159.4 567,159.06 565.89,158.69 564.73,158.28 563.56,157.84 562.43,157.38 561.4,156.9 560.45,156.39 559.55,155.86 558.69,155.31 557.88,154.73 557.12,154.12 556.4,153.5 555.74,152.88 555.14,152.25 554.59,151.61 554.08,150.91 553.58,150.15 553.1,149.3 552.64,148.33 552.21,147.25 551.8,146.1 551.4,144.92 551.01,143.74 550.6,142.6 550.19,141.51 549.8,140.43 549.41,139.36 549,138.27 548.57,137.16 548.1,136 547.59,134.79 547.06,133.54 546.51,132.26 545.93,130.96 545.32,129.67 544.7,128.4 544.05,127.13 543.36,125.83 542.64,124.54 541.92,123.28 541.2,122.06 540.5,120.9 539.81,119.82 539.13,118.81 538.45,117.84 537.77,116.9 537.09,115.96 536.4,115 535.67,113.98 534.9,112.91 534.12,111.84 533.38,110.83 532.73,109.93 532.2,109.2 531.81,108.66 531.53,108.27 531.34,107.99 531.2,107.79 531.1,107.64 531,107.5" fill="none" stroke="#3d74b0" stroke-width="1.3" stroke-dasharray="1.1,1.3"/>
<text x="8.9" y="199.8" font-size="18.5" text-anchor="start" fill="#000">d</text>
<rect x="28" y="200.5" width="137.2" height="134.5" fill="#fff" stroke="#bdbdbd" stroke-width="1"/>
<rect x="34" y="311" width="4.2" height="24" fill="#F3C352" stroke="#7a6428" stroke-width="0.55"/>
<rect x="38.2" y="264" width="4.2" height="71" fill="#F3C352" stroke="#7a6428" stroke-width="0.55"/>
<rect x="42.4" y="259.3" width="4.2" height="75.7" fill="#F3C352" stroke="#7a6428" stroke-width="0.55"/>
<rect x="46.6" y="246.4" width="4.2" height="88.6" fill="#F3C352" stroke="#7a6428" stroke-width="0.55"/>
<rect x="50.8" y="224.2" width="4.2" height="110.8" fill="#F3C352" stroke="#7a6428" stroke-width="0.55"/>
<rect x="55" y="213.3" width="4.2" height="121.7" fill="#F3C352" stroke="#7a6428" stroke-width="0.55"/>
<rect x="59.2" y="209.4" width="4.2" height="125.6" fill="#F3C352" stroke="#7a6428" stroke-width="0.55"/>
<rect x="63.4" y="212.9" width="4.2" height="122.1" fill="#F3C352" stroke="#7a6428" stroke-width="0.55"/>
<rect x="67.6" y="223" width="4.2" height="112" fill="#F3C352" stroke="#7a6428" stroke-width="0.55"/>
<rect x="71.8" y="228.5" width="4.2" height="106.5" fill="#F3C352" stroke="#7a6428" stroke-width="0.55"/>
<rect x="76" y="238.2" width="4.2" height="96.8" fill="#F3C352" stroke="#7a6428" stroke-width="0.55"/>
<rect x="80.2" y="245.6" width="4.2" height="89.4" fill="#F3C352" stroke="#7a6428" stroke-width="0.55"/>
<rect x="84.4" y="251.5" width="4.2" height="83.5" fill="#F3C352" stroke="#7a6428" stroke-width="0.55"/>
<rect x="88.6" y="256.7" width="4.2" height="78.3" fill="#F3C352" stroke="#7a6428" stroke-width="0.55"/>
<rect x="92.8" y="263" width="4.2" height="72" fill="#F3C352" stroke="#7a6428" stroke-width="0.55"/>
<rect x="97" y="270.5" width="4.2" height="64.5" fill="#F3C352" stroke="#7a6428" stroke-width="0.55"/>
<rect x="101.2" y="278.3" width="4.2" height="56.7" fill="#F3C352" stroke="#7a6428" stroke-width="0.55"/>
<rect x="105.4" y="286.6" width="4.2" height="48.4" fill="#F3C352" stroke="#7a6428" stroke-width="0.55"/>
<rect x="109.6" y="295.6" width="4.2" height="39.4" fill="#F3C352" stroke="#7a6428" stroke-width="0.55"/>
<rect x="113.8" y="305.6" width="4.2" height="29.4" fill="#F3C352" stroke="#7a6428" stroke-width="0.55"/>
<rect x="118" y="315.4" width="4.2" height="19.6" fill="#F3C352" stroke="#7a6428" stroke-width="0.55"/>
<rect x="122.2" y="322.4" width="4.2" height="12.6" fill="#F3C352" stroke="#7a6428" stroke-width="0.55"/>
<rect x="126.4" y="325.2" width="4.2" height="9.8" fill="#F3C352" stroke="#7a6428" stroke-width="0.55"/>
<rect x="130.6" y="327.4" width="4.2" height="7.6" fill="#F3C352" stroke="#7a6428" stroke-width="0.55"/>
<rect x="134.8" y="329" width="4.2" height="6" fill="#F3C352" stroke="#7a6428" stroke-width="0.55"/>
<rect x="139" y="330.7" width="4.2" height="4.3" fill="#F3C352" stroke="#7a6428" stroke-width="0.55"/>
<rect x="143.2" y="332" width="4.2" height="3" fill="#F3C352" stroke="#7a6428" stroke-width="0.55"/>
<rect x="147.4" y="333" width="4.2" height="2" fill="#F3C352" stroke="#7a6428" stroke-width="0.55"/>
<rect x="151.6" y="334" width="4.2" height="1" fill="#F3C352" stroke="#7a6428" stroke-width="0.55"/>
<rect x="155.8" y="334.5" width="4.2" height="0.5" fill="#F3C352" stroke="#7a6428" stroke-width="0.55"/>
<line x1="28" y1="335" x2="29.5" y2="335" stroke="#8c8c8c" stroke-width="0.7"/>
<line x1="165.2" y1="335" x2="163.7" y2="335" stroke="#8c8c8c" stroke-width="0.7"/>
<text x="26.6" y="338.4" font-size="10.2" text-anchor="end" fill="#1a1a1a">0</text>
<line x1="28" y1="301.34" x2="29.5" y2="301.34" stroke="#8c8c8c" stroke-width="0.7"/>
<line x1="165.2" y1="301.34" x2="163.7" y2="301.34" stroke="#8c8c8c" stroke-width="0.7"/>
<text x="26.6" y="304.74" font-size="10.2" text-anchor="end" fill="#1a1a1a">2</text>
<line x1="28" y1="267.68" x2="29.5" y2="267.68" stroke="#8c8c8c" stroke-width="0.7"/>
<line x1="165.2" y1="267.68" x2="163.7" y2="267.68" stroke="#8c8c8c" stroke-width="0.7"/>
<text x="26.6" y="271.08" font-size="10.2" text-anchor="end" fill="#1a1a1a">4</text>
<line x1="28" y1="234.02" x2="29.5" y2="234.02" stroke="#8c8c8c" stroke-width="0.7"/>
<line x1="165.2" y1="234.02" x2="163.7" y2="234.02" stroke="#8c8c8c" stroke-width="0.7"/>
<text x="26.6" y="237.42" font-size="10.2" text-anchor="end" fill="#1a1a1a">6</text>
<line x1="28" y1="200.36" x2="29.5" y2="200.36" stroke="#8c8c8c" stroke-width="0.7"/>
<line x1="165.2" y1="200.36" x2="163.7" y2="200.36" stroke="#8c8c8c" stroke-width="0.7"/>
<text x="26.6" y="203.76" font-size="10.2" text-anchor="end" fill="#1a1a1a">8</text>
<line x1="64.4" y1="335" x2="64.4" y2="333.5" stroke="#8c8c8c" stroke-width="0.7"/>
<line x1="64.4" y1="200.5" x2="64.4" y2="202" stroke="#8c8c8c" stroke-width="0.7"/>
<line x1="101.4" y1="335" x2="101.4" y2="333.5" stroke="#8c8c8c" stroke-width="0.7"/>
<line x1="101.4" y1="200.5" x2="101.4" y2="202" stroke="#8c8c8c" stroke-width="0.7"/>
<line x1="138.4" y1="335" x2="138.4" y2="333.5" stroke="#8c8c8c" stroke-width="0.7"/>
<line x1="138.4" y1="200.5" x2="138.4" y2="202" stroke="#8c8c8c" stroke-width="0.7"/>
<text x="63.8" y="344.3" font-size="10" text-anchor="middle" fill="#1a1a1a">10</text>
<text x="102" y="344.3" font-size="10" text-anchor="middle" fill="#1a1a1a">20</text>
<text x="100.2" y="354" font-size="10.5" text-anchor="middle" fill="#1a1a1a">Localization precision (nm)</text>
<text x="15.3" y="262.3" font-size="10.5" text-anchor="middle" fill="#1a1a1a" transform="rotate(-90 15.3 262.3)">Proportion (%)</text>
<text x="172.2" y="199.8" font-size="18.5" text-anchor="start" fill="#000">e</text>
<rect x="190.9" y="200.6" width="136.6" height="134.8" fill="#fff" stroke="#bdbdbd" stroke-width="1"/>
<rect x="196.8" y="256.3" width="4.17" height="79.1" fill="#F3C352" stroke="#7a6428" stroke-width="0.55"/>
<rect x="200.97" y="223.3" width="4.17" height="112.1" fill="#F3C352" stroke="#7a6428" stroke-width="0.55"/>
<rect x="205.14" y="212.4" width="4.17" height="123" fill="#F3C352" stroke="#7a6428" stroke-width="0.55"/>
<rect x="209.31" y="211" width="4.17" height="124.4" fill="#F3C352" stroke="#7a6428" stroke-width="0.55"/>
<rect x="213.48" y="211.2" width="4.17" height="124.2" fill="#F3C352" stroke="#7a6428" stroke-width="0.55"/>
<rect x="217.65" y="219.2" width="4.17" height="116.2" fill="#F3C352" stroke="#7a6428" stroke-width="0.55"/>
<rect x="221.82" y="233.6" width="4.17" height="101.8" fill="#F3C352" stroke="#7a6428" stroke-width="0.55"/>
<rect x="225.99" y="233.4" width="4.17" height="102" fill="#F3C352" stroke="#7a6428" stroke-width="0.55"/>
<rect x="230.16" y="239.5" width="4.17" height="95.9" fill="#F3C352" stroke="#7a6428" stroke-width="0.55"/>
<rect x="234.33" y="253.2" width="4.17" height="82.2" fill="#F3C352" stroke="#7a6428" stroke-width="0.55"/>
<rect x="238.5" y="262.4" width="4.17" height="73" fill="#F3C352" stroke="#7a6428" stroke-width="0.55"/>
<rect x="242.67" y="268.9" width="4.17" height="66.5" fill="#F3C352" stroke="#7a6428" stroke-width="0.55"/>
<rect x="246.84" y="267.6" width="4.17" height="67.8" fill="#F3C352" stroke="#7a6428" stroke-width="0.55"/>
<rect x="251.01" y="267.3" width="4.17" height="68.1" fill="#F3C352" stroke="#7a6428" stroke-width="0.55"/>
<rect x="255.18" y="271.2" width="4.17" height="64.2" fill="#F3C352" stroke="#7a6428" stroke-width="0.55"/>
<rect x="259.35" y="275.5" width="4.17" height="59.9" fill="#F3C352" stroke="#7a6428" stroke-width="0.55"/>
<rect x="263.52" y="273.3" width="4.17" height="62.1" fill="#F3C352" stroke="#7a6428" stroke-width="0.55"/>
<rect x="267.69" y="277.6" width="4.17" height="57.8" fill="#F3C352" stroke="#7a6428" stroke-width="0.55"/>
<rect x="271.86" y="281.8" width="4.17" height="53.6" fill="#F3C352" stroke="#7a6428" stroke-width="0.55"/>
<rect x="276.03" y="280.4" width="4.17" height="55" fill="#F3C352" stroke="#7a6428" stroke-width="0.55"/>
<rect x="280.2" y="284.6" width="4.17" height="50.8" fill="#F3C352" stroke="#7a6428" stroke-width="0.55"/>
<rect x="284.37" y="291.5" width="4.17" height="43.9" fill="#F3C352" stroke="#7a6428" stroke-width="0.55"/>
<rect x="288.54" y="295.2" width="4.17" height="40.2" fill="#F3C352" stroke="#7a6428" stroke-width="0.55"/>
<rect x="292.71" y="299.3" width="4.17" height="36.1" fill="#F3C352" stroke="#7a6428" stroke-width="0.55"/>
<rect x="296.88" y="308" width="4.17" height="27.4" fill="#F3C352" stroke="#7a6428" stroke-width="0.55"/>
<rect x="301.05" y="314.4" width="4.17" height="21" fill="#F3C352" stroke="#7a6428" stroke-width="0.55"/>
<rect x="305.22" y="321.3" width="4.17" height="14.1" fill="#F3C352" stroke="#7a6428" stroke-width="0.55"/>
<rect x="309.39" y="326.4" width="4.17" height="9" fill="#F3C352" stroke="#7a6428" stroke-width="0.55"/>
<rect x="313.56" y="331.4" width="4.17" height="4" fill="#F3C352" stroke="#7a6428" stroke-width="0.55"/>
<rect x="317.73" y="334.7" width="4.17" height="0.7" fill="#F3C352" stroke="#7a6428" stroke-width="0.55"/>
<line x1="190.9" y1="335.4" x2="192.4" y2="335.4" stroke="#8c8c8c" stroke-width="0.7"/>
<line x1="327.5" y1="335.4" x2="326" y2="335.4" stroke="#8c8c8c" stroke-width="0.7"/>
<text x="189.3" y="338.8" font-size="10.2" text-anchor="end" fill="#1a1a1a">0</text>
<line x1="190.9" y1="316.14" x2="192.4" y2="316.14" stroke="#8c8c8c" stroke-width="0.7"/>
<line x1="327.5" y1="316.14" x2="326" y2="316.14" stroke="#8c8c8c" stroke-width="0.7"/>
<text x="189.3" y="319.54" font-size="10.2" text-anchor="end" fill="#1a1a1a">1</text>
<line x1="190.9" y1="296.88" x2="192.4" y2="296.88" stroke="#8c8c8c" stroke-width="0.7"/>
<line x1="327.5" y1="296.88" x2="326" y2="296.88" stroke="#8c8c8c" stroke-width="0.7"/>
<text x="189.3" y="300.28" font-size="10.2" text-anchor="end" fill="#1a1a1a">2</text>
<line x1="190.9" y1="277.62" x2="192.4" y2="277.62" stroke="#8c8c8c" stroke-width="0.7"/>
<line x1="327.5" y1="277.62" x2="326" y2="277.62" stroke="#8c8c8c" stroke-width="0.7"/>
<text x="189.3" y="281.02" font-size="10.2" text-anchor="end" fill="#1a1a1a">3</text>
<line x1="190.9" y1="258.36" x2="192.4" y2="258.36" stroke="#8c8c8c" stroke-width="0.7"/>
<line x1="327.5" y1="258.36" x2="326" y2="258.36" stroke="#8c8c8c" stroke-width="0.7"/>
<text x="189.3" y="261.76" font-size="10.2" text-anchor="end" fill="#1a1a1a">4</text>
<line x1="190.9" y1="239.1" x2="192.4" y2="239.1" stroke="#8c8c8c" stroke-width="0.7"/>
<line x1="327.5" y1="239.1" x2="326" y2="239.1" stroke="#8c8c8c" stroke-width="0.7"/>
<text x="189.3" y="242.5" font-size="10.2" text-anchor="end" fill="#1a1a1a">5</text>
<line x1="190.9" y1="219.84" x2="192.4" y2="219.84" stroke="#8c8c8c" stroke-width="0.7"/>
<line x1="327.5" y1="219.84" x2="326" y2="219.84" stroke="#8c8c8c" stroke-width="0.7"/>
<text x="189.3" y="223.24" font-size="10.2" text-anchor="end" fill="#1a1a1a">6</text>
<line x1="190.9" y1="200.58" x2="192.4" y2="200.58" stroke="#8c8c8c" stroke-width="0.7"/>
<line x1="327.5" y1="200.58" x2="326" y2="200.58" stroke="#8c8c8c" stroke-width="0.7"/>
<text x="189.3" y="203.98" font-size="10.2" text-anchor="end" fill="#1a1a1a">7</text>
<line x1="197.3" y1="335.4" x2="197.3" y2="333.9" stroke="#8c8c8c" stroke-width="0.7"/>
<line x1="197.3" y1="200.6" x2="197.3" y2="202.1" stroke="#8c8c8c" stroke-width="0.7"/>
<text x="197.3" y="344.9" font-size="10.2" text-anchor="middle" fill="#1a1a1a">0</text>
<line x1="255" y1="335.4" x2="255" y2="333.9" stroke="#8c8c8c" stroke-width="0.7"/>
<line x1="255" y1="200.6" x2="255" y2="202.1" stroke="#8c8c8c" stroke-width="0.7"/>
<text x="255" y="344.9" font-size="10.2" text-anchor="middle" fill="#1a1a1a">1</text>
<line x1="312.7" y1="335.4" x2="312.7" y2="333.9" stroke="#8c8c8c" stroke-width="0.7"/>
<line x1="312.7" y1="200.6" x2="312.7" y2="202.1" stroke="#8c8c8c" stroke-width="0.7"/>
<text x="312.7" y="344.9" font-size="10.2" text-anchor="middle" fill="#1a1a1a">2</text>
<text x="255.4" y="353.4" font-size="10.5" text-anchor="middle" fill="#1a1a1a">α Values</text>
<text x="179.5" y="264.5" font-size="10.5" text-anchor="middle" fill="#1a1a1a" transform="rotate(-90 179.5 264.5)">Proportion (%)</text>
<polyline points="199.5,243 199.83,241.78 200.3,240.05 200.84,238.03 201.43,235.94 202,234 202.54,232.25 203.09,230.55 203.67,228.83 204.3,227 205,225 205.81,222.61 206.7,219.88 207.64,217.14 208.58,214.67 209.5,212.8 210.38,211.58 211.26,210.81 212.14,210.4 213.02,210.25 213.9,210.3 214.8,210.54 215.7,211.05 216.6,211.79 217.5,212.74 218.4,213.9 219.3,215.37 220.21,217.16 221.1,219.11 221.97,221.04 222.8,222.8 223.56,224.3 224.27,225.65 224.96,226.97 225.65,228.38 226.4,230 227.2,231.86 228.04,233.89 228.9,236.03 229.76,238.22 230.6,240.4 231.42,242.65 232.24,245 233.06,247.34 233.88,249.58 234.7,251.6 235.53,253.37 236.37,254.96 237.22,256.43 238.06,257.82 238.9,259.2 239.74,260.59 240.58,261.95 241.42,263.24 242.26,264.44 243.1,265.5 243.92,266.41 244.71,267.19 245.52,267.86 246.37,268.46 247.3,269 248.33,269.48 249.44,269.87 250.6,270.2 251.76,270.47 252.9,270.7 254,270.85 255.1,270.91 256.2,270.93 257.3,270.98 258.4,271.1 259.47,271.26 260.5,271.41 261.56,271.63 262.71,271.97 264,272.5 265.49,273.25 267.13,274.18 268.85,275.25 270.6,276.4 272.3,277.6 273.96,278.86 275.62,280.2 277.27,281.61 278.93,283.08 280.6,284.6 282.27,286.17 283.95,287.8 285.64,289.48 287.32,291.21 289,293 290.68,294.86 292.36,296.81 294.05,298.79 295.73,300.77 297.4,302.7 299.07,304.58 300.73,306.43 302.38,308.27 304.04,310.09 305.7,311.9 307.41,313.72 309.16,315.55 310.89,317.36 312.53,319.11 314,320.8 315.35,322.51 316.63,324.26 317.77,325.91 318.71,327.3 319.4,328.3" fill="none" stroke="#ee6a3a" stroke-width="0.8" stroke-linejoin="round" stroke-linecap="round"/>
<text x="338.2" y="199.3" font-size="18.5" text-anchor="start" fill="#000">f</text>
<rect x="354.6" y="199.5" width="138" height="137.6" fill="none" stroke="#8c8c8c" stroke-width="1"/>
<line x1="359.2" y1="337.1" x2="359.2" y2="335.6" stroke="#8c8c8c" stroke-width="0.7"/>
<line x1="359.2" y1="199.5" x2="359.2" y2="201" stroke="#8c8c8c" stroke-width="0.7"/>
<text x="359.2" y="347" font-size="9.9" text-anchor="middle" fill="#1a1a1a">20</text>
<line x1="384.17" y1="337.1" x2="384.17" y2="335.6" stroke="#8c8c8c" stroke-width="0.7"/>
<line x1="384.17" y1="199.5" x2="384.17" y2="201" stroke="#8c8c8c" stroke-width="0.7"/>
<text x="384.17" y="347" font-size="9.9" text-anchor="middle" fill="#1a1a1a">21</text>
<line x1="409.14" y1="337.1" x2="409.14" y2="335.6" stroke="#8c8c8c" stroke-width="0.7"/>
<line x1="409.14" y1="199.5" x2="409.14" y2="201" stroke="#8c8c8c" stroke-width="0.7"/>
<text x="409.14" y="347" font-size="9.9" text-anchor="middle" fill="#1a1a1a">22</text>
<line x1="434.11" y1="337.1" x2="434.11" y2="335.6" stroke="#8c8c8c" stroke-width="0.7"/>
<line x1="434.11" y1="199.5" x2="434.11" y2="201" stroke="#8c8c8c" stroke-width="0.7"/>
<text x="434.11" y="347" font-size="9.9" text-anchor="middle" fill="#1a1a1a">23</text>
<line x1="459.08" y1="337.1" x2="459.08" y2="335.6" stroke="#8c8c8c" stroke-width="0.7"/>
<line x1="459.08" y1="199.5" x2="459.08" y2="201" stroke="#8c8c8c" stroke-width="0.7"/>
<text x="459.08" y="347" font-size="9.9" text-anchor="middle" fill="#1a1a1a">24</text>
<line x1="484.05" y1="337.1" x2="484.05" y2="335.6" stroke="#8c8c8c" stroke-width="0.7"/>
<line x1="484.05" y1="199.5" x2="484.05" y2="201" stroke="#8c8c8c" stroke-width="0.7"/>
<text x="484.05" y="347" font-size="9.9" text-anchor="middle" fill="#1a1a1a">25</text>
<line x1="354.6" y1="327.5" x2="356.1" y2="327.5" stroke="#8c8c8c" stroke-width="0.7"/>
<line x1="492.6" y1="327.5" x2="491.1" y2="327.5" stroke="#8c8c8c" stroke-width="0.7"/>
<text x="353.4" y="331" font-size="9.9" text-anchor="end" fill="#1a1a1a">25</text>
<line x1="354.6" y1="302.6" x2="356.1" y2="302.6" stroke="#8c8c8c" stroke-width="0.7"/>
<line x1="492.6" y1="302.6" x2="491.1" y2="302.6" stroke="#8c8c8c" stroke-width="0.7"/>
<text x="353.4" y="306.1" font-size="9.9" text-anchor="end" fill="#1a1a1a">26</text>
<line x1="354.6" y1="277.7" x2="356.1" y2="277.7" stroke="#8c8c8c" stroke-width="0.7"/>
<line x1="492.6" y1="277.7" x2="491.1" y2="277.7" stroke="#8c8c8c" stroke-width="0.7"/>
<text x="353.4" y="281.2" font-size="9.9" text-anchor="end" fill="#1a1a1a">27</text>
<line x1="354.6" y1="252.8" x2="356.1" y2="252.8" stroke="#8c8c8c" stroke-width="0.7"/>
<line x1="492.6" y1="252.8" x2="491.1" y2="252.8" stroke="#8c8c8c" stroke-width="0.7"/>
<text x="353.4" y="256.3" font-size="9.9" text-anchor="end" fill="#1a1a1a">28</text>
<line x1="354.6" y1="227.9" x2="356.1" y2="227.9" stroke="#8c8c8c" stroke-width="0.7"/>
<line x1="492.6" y1="227.9" x2="491.1" y2="227.9" stroke="#8c8c8c" stroke-width="0.7"/>
<text x="353.4" y="231.4" font-size="9.9" text-anchor="end" fill="#1a1a1a">29</text>
<line x1="354.6" y1="203" x2="356.1" y2="203" stroke="#8c8c8c" stroke-width="0.7"/>
<line x1="492.6" y1="203" x2="491.1" y2="203" stroke="#8c8c8c" stroke-width="0.7"/>
<text x="353.4" y="206.5" font-size="9.9" text-anchor="end" fill="#1a1a1a">30</text>
<text x="418.4" y="356.6" font-size="9.9" text-anchor="middle" fill="#1a1a1a">Position X (μm)</text>
<text x="338" y="258.5" font-size="9.3" text-anchor="middle" fill="#1a1a1a" transform="rotate(-90 338 258.5)">Position Y (μm)</text>
<g fill="none" stroke-width="1.35" stroke-linejoin="round" stroke-linecap="round">
<polyline points="372.43,336.03 371.93,334.66 371.65,333.53" stroke="#311643"/>
<polyline points="371.65,333.53 370.74,332.41 370.71,332.68" stroke="#341d53"/>
<polyline points="370.71,332.68 369.32,330.65 369.53,329.22" stroke="#362462"/>
<polyline points="369.53,329.22 368.87,328.35 368.27,328.1" stroke="#382b72"/>
<polyline points="368.27,328.1 368.85,327.21 368.06,326.5" stroke="#3b3282"/>
<polyline points="368.06,326.5 367.25,325.99 367.58,325.37" stroke="#3d3991"/>
<polyline points="367.58,325.37 367.2,324.79 368.08,322.84" stroke="#3f40a1"/>
<polyline points="368.08,322.84 367.04,323.19 366.26,321.75" stroke="#4147ae"/>
<polyline points="366.26,321.75 365.95,320.39 365.8,320.6" stroke="#424eb8"/>
<polyline points="365.8,320.6 365.8,320.6 366.73,321.08" stroke="#4252bc"/>
<polyline points="366.73,321.08 367.71,320.6 368.23,319.64" stroke="#4252bd"/>
<polyline points="368.23,319.64 368.39,318.45 368.62,317.59" stroke="#4253be"/>
<polyline points="368.62,317.59 368.47,316.92 368.73,316.33" stroke="#4354c0"/>
<polyline points="368.73,316.33 367.29,315.76 367.76,314.66" stroke="#4355c1"/>
<polyline points="367.76,314.66 367.79,313.91 368.44,313.81" stroke="#4356c2"/>
<polyline points="368.44,313.81 369.22,313.78 370.27,313.76" stroke="#4357c3"/>
<polyline points="370.27,313.76 371.26,314.03 371.91,315.05" stroke="#4357c4"/>
<polyline points="371.91,315.05 370.84,314.91 370.09,315.34" stroke="#4358c5"/>
<polyline points="370.09,315.34 370.09,316.9 369.01,316.2" stroke="#4359c7"/>
<polyline points="369.01,316.2 368.23,315.76 367.69,315.37" stroke="#435ac8"/>
<polyline points="367.69,315.37 367.66,314.03 366.71,314.23" stroke="#435bc9"/>
<polyline points="366.71,314.23 365.97,312.91 365.59,312.2" stroke="#435cca"/>
<polyline points="365.59,312.2 364.86,310.92 365.3,311.8" stroke="#435ccb"/>
<polyline points="365.3,311.8 365.21,312.46 366.02,312.77" stroke="#445dcc"/>
<polyline points="366.02,312.77 366.36,312.17 365.31,311.36" stroke="#445ecd"/>
<polyline points="365.31,311.36 366.02,311.38 366.68,311.4" stroke="#445fcf"/>
<polyline points="366.68,311.4 367.84,312.12 368.23,313.07" stroke="#4460d0"/>
<polyline points="368.23,313.07 367.61,313.56 366.71,314.38" stroke="#4461d1"/>
<polyline points="366.71,314.38 366.54,315.07 366.9,315.85" stroke="#4461d2"/>
<polyline points="366.9,315.85 367.01,317.38 366.65,318.78" stroke="#4462d3"/>
<polyline points="366.65,318.78 367.14,319.42 367.98,318.53" stroke="#4463d4"/>
<polyline points="367.98,318.53 368.57,318.89 368.79,319.71" stroke="#4464d6"/>
<polyline points="368.79,319.71 369.19,320.99 369.65,321.48" stroke="#4465d7"/>
<polyline points="369.65,321.48 369.6,320.8 368.76,319.97" stroke="#4466d8"/>
<polyline points="368.76,319.97 367.87,319.64 368.62,320.39" stroke="#4466d9"/>
<polyline points="368.62,320.39 368.57,321.54 368.2,320.89" stroke="#4567da"/>
<polyline points="368.2,320.89 366.93,320.15 366.43,319.55" stroke="#4568db"/>
<polyline points="366.43,319.55 365.12,319.42 364.06,318.34" stroke="#4569dc"/>
<polyline points="364.06,318.34 365.32,317.62 365.4,316.92" stroke="#456ade"/>
<polyline points="365.4,316.92 365.04,316.39 365.31,315.15" stroke="#456bdf"/>
<polyline points="365.31,315.15 365.32,314.3 365.89,313.62" stroke="#456ce0"/>
<polyline points="365.89,313.62 365.42,313.01 364.87,312.41" stroke="#456ce1"/>
<polyline points="364.87,312.41 365.91,311.94 366.67,312.36" stroke="#456de2"/>
<polyline points="366.67,312.36 367.77,311.38 368.44,310.84" stroke="#456ee3"/>
<polyline points="368.44,310.84 369.36,311.31 369.77,312.17" stroke="#456fe5"/>
<polyline points="369.77,312.17 369.99,313.3 369.25,314.56" stroke="#4570e6"/>
<polyline points="369.25,314.56 367.76,314.96 367.35,316.04" stroke="#4671e7"/>
<polyline points="367.35,316.04 368,316.39 369.11,317.35" stroke="#4671e8"/>
<polyline points="369.11,317.35 370.04,318.23 370.71,319.23" stroke="#4672e9"/>
<polyline points="370.71,319.23 371.35,320.09 370.27,321.21" stroke="#4673ea"/>
<polyline points="370.27,321.21 370.41,320.56 368.95,320.51" stroke="#4674eb"/>
<polyline points="368.95,320.51 367.8,321.14 367.08,319.84" stroke="#4675ed"/>
<polyline points="367.08,319.84 366.46,320.54 366.78,319.14" stroke="#4676ed"/>
<polyline points="366.78,319.14 365.86,319.54 364.72,319.38" stroke="#4676ed"/>
<polyline points="364.72,319.38 365.24,320.46 366.42,320.5" stroke="#4577ee"/>
<polyline points="366.42,320.5 366.77,321.08 367.24,319.71" stroke="#4578ee"/>
<polyline points="367.24,319.71 366.36,320.66 367.05,321.58" stroke="#4579ee"/>
<polyline points="367.05,321.58 370.74,318.18 371.97,318.25" stroke="#447cef"/>
<polyline points="371.97,318.25 371.67,319.28 373.96,319.51" stroke="#4381f1"/>
<polyline points="373.96,319.51 374.62,319.51 374.03,320.62" stroke="#4284f2"/>
<polyline points="374.03,320.62 375.54,320.36 374.59,321.58" stroke="#4186f3"/>
<polyline points="374.59,321.58 374.98,323.4 374.55,322.78" stroke="#4088f3"/>
<polyline points="374.55,322.78 374.22,322.79 372.93,322.91" stroke="#408af4"/>
<polyline points="372.93,322.91 372.94,322.34 373.04,320.61" stroke="#3f8df5"/>
<polyline points="373.04,320.61 373.48,318.66 373.79,316.89" stroke="#3e91f6"/>
<polyline points="373.79,316.89 375.45,316.52 376.45,318.57" stroke="#3d96f8"/>
<polyline points="376.45,318.57 377,319.25 378,320.35" stroke="#3b9cfa"/>
<polyline points="378,320.35 376.7,321.15 378.81,322.45" stroke="#39a0fb"/>
<polyline points="378.81,322.45 379.1,323.05 379.88,324.9" stroke="#37a5fa"/>
<polyline points="379.88,324.9 378.76,326.14 378.88,326.95" stroke="#35a9f6"/>
<polyline points="378.88,326.95 377.89,328.71 378.21,328.55" stroke="#32adf2"/>
<polyline points="378.21,328.55 378.01,329.2 379.19,328.57" stroke="#2fb1ef"/>
<polyline points="379.19,328.57 380.02,327.97 381.42,327.04" stroke="#2cb5eb"/>
<polyline points="381.42,327.04 381.37,326.93 382.87,326.59" stroke="#29bae7"/>
<polyline points="382.87,326.59 384.38,325.69 385.35,325.9" stroke="#26bee3"/>
<polyline points="385.35,325.9 385.38,325.33 387.64,325.69" stroke="#24c2e0"/>
<polyline points="387.64,325.69 387.07,324 387.63,324.75" stroke="#22c4de"/>
<polyline points="387.63,324.75 389.04,325.72 390.37,324.19" stroke="#20c7db"/>
<polyline points="390.37,324.19 390.53,322.91 392.26,323" stroke="#1dcbd7"/>
<polyline points="392.26,323 395.24,322.76 394.79,323.26" stroke="#1bcfd3"/>
<polyline points="394.79,323.26 396.11,321.68 397.68,321.74" stroke="#1cd2cf"/>
<polyline points="397.68,321.74 397.34,321.66 398.94,320.9" stroke="#1dd5cb"/>
<polyline points="398.94,320.9 399.75,321.04 399.66,319.17" stroke="#1dd6c9"/>
<polyline points="399.66,319.17 398.6,318.47 400.12,317.37" stroke="#1ed8c6"/>
<polyline points="400.12,317.37 399.9,316.13 399.21,314.06" stroke="#1ed9c4"/>
<polyline points="399.21,314.06 398.44,312.21 399.4,310.15" stroke="#1edac2"/>
<polyline points="399.4,310.15 399.81,309.08 400.94,309.71" stroke="#1fdcc0"/>
<polyline points="400.94,309.71 401.52,308.77 401.67,306.96" stroke="#1fddbe"/>
<polyline points="401.67,306.96 401.8,305.36 402.49,303.66" stroke="#20e0ba"/>
<polyline points="402.49,303.66 402.83,301.78 403.5,301.75" stroke="#21e2b5"/>
<polyline points="403.5,301.75 404.99,299.94 406,301.05" stroke="#22e6b0"/>
<polyline points="406,301.05 407.2,300.46 408.56,301.32" stroke="#24eaa8"/>
<polyline points="408.56,301.32 410.95,302.46 412.64,301.07" stroke="#2fef9c"/>
<polyline points="412.64,301.07 414.61,302.95 415.33,302.25" stroke="#3ff38c"/>
<polyline points="415.33,302.25 417.67,300.84 418.94,299.59" stroke="#4bf680"/>
<polyline points="418.94,299.59 419.35,300.81 419.93,298.54" stroke="#54f978"/>
<polyline points="419.93,298.54 419.78,297.29 418.99,296.06" stroke="#5afa73"/>
<polyline points="418.99,296.06 418.87,295.26 418.03,293.72" stroke="#5ffc6e"/>
<polyline points="418.03,293.72 418.33,292.89 418.47,291.45" stroke="#65fc69"/>
<polyline points="418.47,291.45 417.96,290.71 418.48,288.36" stroke="#6dfc63"/>
<polyline points="418.48,288.36 418.56,286.87 419.11,285.24" stroke="#78fc5b"/>
<polyline points="419.11,285.24 420.04,283.62 419.73,283.05" stroke="#82fc54"/>
<polyline points="419.73,283.05 421.46,282.05 421.26,280.34" stroke="#88fc50"/>
<polyline points="421.26,280.34 422.86,278.51 423.71,276.54" stroke="#8efc4b"/>
<polyline points="423.71,276.54 424.44,275.5 424.91,272.65" stroke="#94fc46"/>
<polyline points="424.91,272.65 425.95,271.8 425.61,270.53" stroke="#9bfc42"/>
<polyline points="425.61,270.53 427.36,269.96 427.65,268.57" stroke="#a1fc3d"/>
<polyline points="427.65,268.57 428.62,269.81 428.63,268.3" stroke="#a5fc3b"/>
<polyline points="428.63,268.3 428.72,268.85 430.19,266.87" stroke="#a8fa3a"/>
<polyline points="430.19,266.87 431.57,266.52 432.1,264.12" stroke="#abf93a"/>
<polyline points="432.1,264.12 432.15,263.65 431.99,262.13" stroke="#b1f639"/>
<polyline points="431.99,262.13 433.72,260.52 432.47,258.05" stroke="#b7f438"/>
<polyline points="432.47,258.05 433.14,257.3 433.11,255.8" stroke="#bdf137"/>
<polyline points="433.11,255.8 432.45,253.26 431.57,252.13" stroke="#c4ee36"/>
<polyline points="431.57,252.13 433.64,249.77 432.26,248.69" stroke="#caeb35"/>
<polyline points="432.26,248.69 432.69,246.05 432.14,244.55" stroke="#d2e734"/>
<polyline points="432.14,244.55 433.51,243.51 432.93,243.59" stroke="#d8e135"/>
<polyline points="432.93,243.59 433.45,242.11 432.08,239.95" stroke="#dedb36"/>
<polyline points="432.08,239.95 429.86,239.37 428.65,240.21" stroke="#e2d737"/>
<polyline points="428.65,240.21 427.13,238.75 426.52,238.7" stroke="#e4d537"/>
<polyline points="426.52,238.7 426.95,237.34 427.73,238.9" stroke="#e6d338"/>
<polyline points="427.73,238.9 427.75,240.29 427.22,241.21" stroke="#e7d238"/>
<polyline points="427.22,241.21 428.71,242.11 430.1,243.38" stroke="#e9d038"/>
<polyline points="430.1,243.38 431.2,242.37 432.17,241.81" stroke="#ebce39"/>
<polyline points="432.17,241.81 433.05,241.31 435.45,241.43" stroke="#eecb39"/>
<polyline points="435.45,241.43 436.61,241.41 438.93,241.37" stroke="#f1c83a"/>
<polyline points="438.93,241.37 440.49,240.62 441.64,240.68" stroke="#f3c53a"/>
<polyline points="441.64,240.68 443.38,240.82 444.91,241.31" stroke="#f4c138"/>
<polyline points="444.91,241.31 446.66,241.67 448.19,242.85" stroke="#f5bd37"/>
<polyline points="448.19,242.85 449.93,242.09 451.43,242.49" stroke="#f6b936"/>
<polyline points="451.43,242.49 452.03,243.51 452.97,242.29" stroke="#f7b535"/>
<polyline points="452.97,242.29 454.38,245.25 453.83,245.12" stroke="#f8b234"/>
<polyline points="453.83,245.12 455.39,245.41 453.4,246.2" stroke="#f9b033"/>
<polyline points="453.4,246.2 452.47,246.21 451.75,247.53" stroke="#f9ae33"/>
<polyline points="451.75,247.53 450.62,246.6 448.57,245.86" stroke="#faac32"/>
<polyline points="448.57,245.86 448.13,245.11 447.97,242.87" stroke="#faa931"/>
<polyline points="447.97,242.87 447.89,241.35 447.98,238.4" stroke="#fba630"/>
<polyline points="447.98,238.4 446.76,238.36 446.18,236" stroke="#fca32f"/>
<polyline points="446.18,236 445.04,234.93 444.74,233.45" stroke="#fda12f"/>
<polyline points="444.74,233.45 443.62,232.87 441.91,229.59" stroke="#fd9f2e"/>
<polyline points="441.91,229.59 441.57,227.64 442.7,226.91" stroke="#fe9d2d"/>
<polyline points="442.7,226.91 442.92,224.11 441.99,224.16" stroke="#fe9a2d"/>
<polyline points="441.99,224.16 443.28,222.21 443.54,220.12" stroke="#fd982c"/>
<polyline points="443.54,220.12 443.59,218.85 444.52,217.49" stroke="#fd942a"/>
<polyline points="444.52,217.49 444.76,217.03 445.04,215.09" stroke="#fc8f28"/>
<polyline points="445.04,215.09 446.88,214.5 447.52,214.85" stroke="#fb8925"/>
<polyline points="447.52,214.85 449.47,213.32 451.48,214.53" stroke="#f98222"/>
<polyline points="451.48,214.53 452.05,212.66 453.92,212.95" stroke="#f7781e"/>
<polyline points="453.92,212.95 456.22,213.8 456.2,214.05" stroke="#f56f1a"/>
<polyline points="456.2,214.05 457.24,214.33 458.92,216.66" stroke="#f46717"/>
<polyline points="458.92,216.66 458.97,216.51 461.21,217.5" stroke="#f26114"/>
<polyline points="461.21,217.5 461.93,218.19 461.47,218.73" stroke="#ef5c13"/>
<polyline points="461.47,218.73 461.81,220.05 462.48,219.6" stroke="#ed5811"/>
<polyline points="462.48,219.6 463.9,220.1 463.9,220.1" stroke="#eb5510"/>
<polyline points="463.9,220.1 464.5,216 466,212" stroke="#e8510f"/>
<polyline points="466,212 467,210.2 466.5,214" stroke="#e44a0c"/>
<polyline points="466.5,214 466,218 467,221" stroke="#e0440a"/>
<polyline points="467,221 469,220.5 470,217" stroke="#dc3d08"/>
<polyline points="470,217 470.09,217.76 471.74,218.88" stroke="#d83706"/>
<polyline points="471.74,218.88 471.49,219.14 472.11,218.9" stroke="#d63606"/>
<polyline points="472.11,218.9 471.57,218.73 468.65,215.76" stroke="#d53505"/>
<polyline points="468.65,215.76 469.21,216.82 472.02,218.08" stroke="#d33405"/>
<polyline points="472.02,218.08 472.43,218.79 473.54,219.22" stroke="#d23305"/>
<polyline points="473.54,219.22 473.53,218.93 471.11,215.91" stroke="#d13205"/>
<polyline points="471.11,215.91 470.63,216.02 471.91,216.41" stroke="#d03105"/>
<polyline points="471.91,216.41 472.34,216.71 474.14,217.92" stroke="#ce3005"/>
<polyline points="474.14,217.92 474.91,218.18 472.19,216.25" stroke="#cd2f04"/>
<polyline points="472.19,216.25 469.04,213.61 468.57,212.6" stroke="#cc2e04"/>
<polyline points="468.57,212.6 468.25,213.02 470.39,213.24" stroke="#ca2d04"/>
<polyline points="470.39,213.24 473.65,216 472.82,214.83" stroke="#c92c04"/>
<polyline points="472.82,214.83 470.62,213.54 469.3,212.59" stroke="#c82b04"/>
<polyline points="469.3,212.59 469.28,211.07 470.13,213.57" stroke="#c62a04"/>
<polyline points="470.13,213.57 471.61,212.82 473.62,215.35" stroke="#c52904"/>
<polyline points="473.62,215.35 474.94,214.99 475.69,215.86" stroke="#c42803"/>
<polyline points="475.69,215.86 472.99,213.24 472.43,212.85" stroke="#c22703"/>
<polyline points="472.43,212.85 471.52,212.71 474.03,213.41" stroke="#c12603"/>
<polyline points="474.03,213.41 475.67,215.31 475.89,215.36" stroke="#c02503"/>
<polyline points="475.89,215.36 474.83,212.35 471.83,210.67" stroke="#bf2403"/>
<polyline points="471.83,210.67 471.54,209.96 471.19,209.73" stroke="#bd2303"/>
<polyline points="471.19,209.73 473.31,211.45 473.85,211.37" stroke="#bc2102"/>
<polyline points="473.85,211.37 473.85,212.47 474.14,212.06" stroke="#bb2002"/>
<polyline points="474.14,212.06 473.18,210.79 473.03,210.16" stroke="#b91f02"/>
<polyline points="473.03,210.16 472.66,209.8 474.55,211.29" stroke="#b81e02"/>
<polyline points="474.55,211.29 476.4,212.85 476.72,212.4" stroke="#b71d02"/>
<polyline points="476.72,212.4 475.01,211.34 473.42,209.73" stroke="#b51c02"/>
<polyline points="473.42,209.73 471.58,208.09 473.67,209.41" stroke="#b41b01"/>
<polyline points="473.67,209.41 474.07,208.98 477.62,211.6" stroke="#b31a01"/>
<polyline points="477.62,211.6 477.24,211.34 476.1,209.98" stroke="#b21901"/>
<polyline points="476.1,209.98 474.66,208.38 473.72,208.18" stroke="#b01901"/>
<polyline points="473.72,208.18 474.13,208.39 476.19,209.96" stroke="#ae1801"/>
<polyline points="476.19,209.96 476.95,209.85 477.24,209.79" stroke="#ac1701"/>
<polyline points="477.24,209.79 476.59,209.77 475.94,208.55" stroke="#ab1701"/>
<polyline points="475.94,208.55 475.87,208.46 476.84,208.94" stroke="#a91601"/>
<polyline points="476.84,208.94 478.61,209.2 478.92,210.44" stroke="#a71501"/>
<polyline points="478.92,210.44 479.39,209.33 477.16,209.36" stroke="#a51401"/>
<polyline points="477.16,209.36 475.11,205.51 474.5,205.01" stroke="#a31401"/>
<polyline points="474.5,205.01 474.57,206.12 477.68,207.66" stroke="#a21302"/>
<polyline points="477.68,207.66 477.92,207.82 477.59,206.1" stroke="#a01202"/>
<polyline points="477.59,206.1 474.48,204.1 473.61,204.05" stroke="#9e1202"/>
<polyline points="473.61,204.05 473.89,203.54 475.16,205.1" stroke="#9c1102"/>
<polyline points="475.16,205.1 477.71,206.04 480.13,208.64" stroke="#9a1002"/>
<polyline points="480.13,208.64 480.23,208.06 479.03,207.02" stroke="#991002"/>
<polyline points="479.03,207.02 476.17,204.15 476.37,203.47" stroke="#970f02"/>
<polyline points="476.37,203.47 477.72,204.73 480.39,206.17" stroke="#950e02"/>
<polyline points="480.39,206.17 483.37,208.52 481.67,207.12" stroke="#930e02"/>
<polyline points="481.67,207.12 480.13,206.51 479.94,206.59" stroke="#910d02"/>
<polyline points="479.94,206.59 479.47,205.11 478.81,204.06" stroke="#900c02"/>
<polyline points="478.81,204.06 480.59,205.35 482.67,206.67" stroke="#8e0c02"/>
<polyline points="482.67,206.67 481.46,205.13 479.67,204.13" stroke="#8c0b02"/>
<polyline points="479.67,204.13 478.02,203.3 476.48,201.34" stroke="#8a0a02"/>
<polyline points="476.48,201.34 477.94,201.31 478.66,202.51" stroke="#880902"/>
<polyline points="478.66,202.51 482.37,205.26 482.11,204.27" stroke="#870903"/>
<polyline points="482.11,204.27 480.67,203.74 478.74,201.45" stroke="#850803"/>
<polyline points="478.74,201.45 477.93,200.76 479.52,201.73" stroke="#830703"/>
<polyline points="479.52,201.73 481.48,202.97 481.41,202.83" stroke="#810703"/>
<polyline points="481.41,202.83 482.32,203.33 481.78,202.54" stroke="#7f0603"/>
<polyline points="481.78,202.54 479.38,200.67 478.79,200.06" stroke="#7e0503"/>
<polyline points="478.79,200.06 478.99,200.1 479.92,200.71" stroke="#7c0503"/>
</g>
<defs><linearGradient id="turbo" x1="0" y1="1" x2="0" y2="0"><stop offset="0" stop-color="rgb(48, 18, 59)"/><stop offset="0.07" stop-color="rgb(65, 69, 171)"/><stop offset="0.14" stop-color="rgb(70, 117, 237)"/><stop offset="0.21" stop-color="rgb(57, 162, 252)"/><stop offset="0.29" stop-color="rgb(27, 207, 212)"/><stop offset="0.36" stop-color="rgb(36, 236, 166)"/><stop offset="0.43" stop-color="rgb(97, 252, 108)"/><stop offset="0.5" stop-color="rgb(164, 252, 59)"/><stop offset="0.57" stop-color="rgb(209, 232, 52)"/><stop offset="0.64" stop-color="rgb(243, 198, 58)"/><stop offset="0.71" stop-color="rgb(254, 155, 45)"/><stop offset="0.79" stop-color="rgb(243, 99, 21)"/><stop offset="0.86" stop-color="rgb(217, 56, 6)"/><stop offset="0.93" stop-color="rgb(177, 25, 1)"/><stop offset="1" stop-color="rgb(122, 4, 3)"/></linearGradient></defs>
<rect x="496.1" y="209.2" width="2.9" height="113.6" fill="url(#turbo)" stroke="none" stroke-width="1"/>
<text x="507.6" y="202.8" font-size="8.3" text-anchor="end" fill="#1a1a1a" transform="rotate(-90 507.6 202.8)">3600</text>
<text x="507.3" y="322.3" font-size="8.3" text-anchor="end" fill="#1a1a1a" transform="rotate(-90 507.3 322.3)">0</text>
<text x="508" y="265.1" font-size="9.1" text-anchor="middle" fill="#1a1a1a" transform="rotate(-90 508 265.1)">Time (s)</text>
<text x="510.6" y="199" font-size="18.5" text-anchor="start" fill="#000">g</text>
<rect x="535.4" y="199.6" width="146.8" height="133.7" fill="none" stroke="#8c8c8c" stroke-width="1"/>
<line x1="535" y1="333.3" x2="535" y2="331.8" stroke="#8c8c8c" stroke-width="0.7"/>
<line x1="535" y1="199.6" x2="535" y2="201.1" stroke="#8c8c8c" stroke-width="0.7"/>
<text x="536.4" y="341.6" font-size="9.3" text-anchor="middle" fill="#1a1a1a">0</text>
<line x1="560.27" y1="333.3" x2="560.27" y2="331.8" stroke="#8c8c8c" stroke-width="0.7"/>
<line x1="560.27" y1="199.6" x2="560.27" y2="201.1" stroke="#8c8c8c" stroke-width="0.7"/>
<text x="560.27" y="341.6" font-size="9.3" text-anchor="middle" fill="#1a1a1a">200</text>
<line x1="585.54" y1="333.3" x2="585.54" y2="331.8" stroke="#8c8c8c" stroke-width="0.7"/>
<line x1="585.54" y1="199.6" x2="585.54" y2="201.1" stroke="#8c8c8c" stroke-width="0.7"/>
<text x="585.54" y="341.6" font-size="9.3" text-anchor="middle" fill="#1a1a1a">400</text>
<line x1="610.81" y1="333.3" x2="610.81" y2="331.8" stroke="#8c8c8c" stroke-width="0.7"/>
<line x1="610.81" y1="199.6" x2="610.81" y2="201.1" stroke="#8c8c8c" stroke-width="0.7"/>
<text x="610.81" y="341.6" font-size="9.3" text-anchor="middle" fill="#1a1a1a">600</text>
<line x1="636.08" y1="333.3" x2="636.08" y2="331.8" stroke="#8c8c8c" stroke-width="0.7"/>
<line x1="636.08" y1="199.6" x2="636.08" y2="201.1" stroke="#8c8c8c" stroke-width="0.7"/>
<text x="636.08" y="341.6" font-size="9.3" text-anchor="middle" fill="#1a1a1a">800</text>
<line x1="661.35" y1="333.3" x2="661.35" y2="331.8" stroke="#8c8c8c" stroke-width="0.7"/>
<line x1="661.35" y1="199.6" x2="661.35" y2="201.1" stroke="#8c8c8c" stroke-width="0.7"/>
<text x="661.35" y="341.6" font-size="9.3" text-anchor="middle" fill="#1a1a1a">1000</text>
<line x1="535.4" y1="333" x2="536.9" y2="333" stroke="#8c8c8c" stroke-width="0.7"/>
<line x1="682.2" y1="333" x2="680.7" y2="333" stroke="#8c8c8c" stroke-width="0.7"/>
<text x="534.2" y="336.3" font-size="9.3" text-anchor="end" fill="#1a1a1a">0</text>
<line x1="535.4" y1="299.65" x2="536.9" y2="299.65" stroke="#8c8c8c" stroke-width="0.7"/>
<line x1="682.2" y1="299.65" x2="680.7" y2="299.65" stroke="#8c8c8c" stroke-width="0.7"/>
<text x="534.2" y="302.95" font-size="9.3" text-anchor="end" fill="#1a1a1a">5</text>
<line x1="535.4" y1="266.3" x2="536.9" y2="266.3" stroke="#8c8c8c" stroke-width="0.7"/>
<line x1="682.2" y1="266.3" x2="680.7" y2="266.3" stroke="#8c8c8c" stroke-width="0.7"/>
<text x="534.2" y="269.6" font-size="9.3" text-anchor="end" fill="#1a1a1a">10</text>
<line x1="535.4" y1="232.95" x2="536.9" y2="232.95" stroke="#8c8c8c" stroke-width="0.7"/>
<line x1="682.2" y1="232.95" x2="680.7" y2="232.95" stroke="#8c8c8c" stroke-width="0.7"/>
<text x="534.2" y="236.25" font-size="9.3" text-anchor="end" fill="#1a1a1a">15</text>
<line x1="535.4" y1="199.6" x2="536.9" y2="199.6" stroke="#8c8c8c" stroke-width="0.7"/>
<line x1="682.2" y1="199.6" x2="680.7" y2="199.6" stroke="#8c8c8c" stroke-width="0.7"/>
<text x="534.2" y="202.9" font-size="9.3" text-anchor="end" fill="#1a1a1a">20</text>
<text x="612.5" y="352" font-size="9.3" text-anchor="middle" fill="#1a1a1a">Time (s)</text>
<text x="519.4" y="271" font-size="9" text-anchor="middle" fill="#1a1a1a" transform="rotate(-90 519.4 271)">MSD (μm<tspan font-size="6" dy="-3.4">2</tspan><tspan dy="3.4">)</tspan></text>
<polyline points="535.6,333.5 555.6,319.3" fill="none" stroke="#e0704a" stroke-width="0.9" stroke-linejoin="round" stroke-linecap="round"/>
<polyline points="555.6,319.3 555.84,319.41 556.17,319.56 556.64,319.78 557.3,320.1 558.23,320.57 559.38,321.16 560.62,321.77 561.8,322.3 562.93,322.75 564.07,323.18 565.17,323.53 566.2,323.8 567.11,323.97 567.93,324.05 568.74,324.06 569.6,324 570.63,323.83 571.76,323.56 572.79,323.29 573.5,323.1" fill="none" stroke="#3fa3df" stroke-width="0.9" stroke-linejoin="round" stroke-linecap="round"/>
<polyline points="573.5,323.1 574.19,322.78 575.18,322.32 576.3,321.78 577.4,321.2 578.46,320.59 579.56,319.93 580.68,319.2 581.8,318.4 582.95,317.48 584.12,316.46 585.26,315.44 586.3,314.5 587.29,313.62 588.23,312.76 589.04,312.02 589.6,311.5" fill="none" stroke="#e6b030" stroke-width="0.9" stroke-linejoin="round" stroke-linecap="round"/>
<polyline points="589.6,311.5 589.77,311.23 590.01,310.84 590.31,310.4 590.7,310 591.17,309.62 591.71,309.23 592.33,308.88 593,308.6 593.75,308.42 594.56,308.31 595.42,308.24 596.3,308.2 597.19,308.18 598.11,308.19 599.05,308.23 600,308.3 600.97,308.4 601.95,308.52 602.93,308.69 603.9,308.9 604.84,309.17 605.76,309.48 606.67,309.83 607.6,310.2 608.63,310.64 609.73,311.13 610.71,311.59 611.4,311.9" fill="none" stroke="#3fa3df" stroke-width="0.9" stroke-linejoin="round" stroke-linecap="round"/>
<polyline points="611.4,311.9 612.3,311.09 613.59,309.94 615.03,308.57 616.4,307.1 617.65,305.53 618.9,303.8 620.15,301.97 621.4,300.1 622.66,298.15 623.93,296.1 625.19,294.05 626.4,292.1 627.67,290.12 628.96,288.1 630.1,286.33 630.9,285.1" fill="none" stroke="#9b4fb5" stroke-width="0.9" stroke-linejoin="round" stroke-linecap="round"/>
<polyline points="630.9,285.1 631.34,284.81 631.96,284.38 632.68,284.06 633.4,284.1 634.1,284.62 634.82,285.48 635.58,286.51 636.4,287.6 637.29,288.74 638.25,290.01 639.23,291.31 640.2,292.6 641.15,293.91 642.11,295.26 643.06,296.53 644,297.6 644.93,298.49 645.85,299.24 646.77,299.79 647.7,300.1 648.67,300.09 649.68,299.81 650.64,299.38 651.5,298.9 652.28,298.31 652.99,297.57 653.58,296.88 654,296.4" fill="none" stroke="#3fa3df" stroke-width="0.9" stroke-linejoin="round" stroke-linecap="round"/>
<polyline points="654,296.4 654.63,293.89 655.53,290.29 656.59,286.29 657.7,282.6 658.91,279.25 660.25,275.91 661.59,272.76 662.8,270 663.82,267.68 664.73,265.69 665.6,263.99 666.5,262.5 667.53,261.22 668.63,260.18 669.61,259.38 670.3,258.8" fill="none" stroke="#7fb240" stroke-width="0.9" stroke-linejoin="round" stroke-linecap="round"/>
<polyline points="670.3,258.8 670.41,258.83 670.57,258.91 670.81,258.83 671.2,258.4 671.76,257.61 672.46,256.54 673.26,255.17 674.1,253.5 675.05,251.21 676.11,248.41 677.14,245.71 678,243.7 678.66,242.81 679.18,242.62 679.61,242.5 680,241.8 680.33,240.45 680.59,238.76 680.81,236.64 681,234 681.16,230.58 681.28,226.51 681.39,222.28 681.5,218.4 681.64,214.72 681.78,211.07 681.91,207.91 682,205.7" fill="none" stroke="#3fa3df" stroke-width="0.9" stroke-linejoin="round" stroke-linecap="round"/>
<text x="546" y="316.2" font-size="11.1" text-anchor="start" fill="#1a1a1a"><tspan font-style="italic">α</tspan>=1</text>
<text x="574.4" y="306.6" font-size="11.1" text-anchor="start" fill="#1a1a1a"><tspan font-style="italic">α</tspan>&gt;1</text>
<text x="604.4" y="297" font-size="11.1" text-anchor="start" fill="#1a1a1a"><tspan font-style="italic">α</tspan>&gt;1</text>
<text x="639.5" y="277.5" font-size="11.1" text-anchor="start" fill="#1a1a1a"><tspan font-style="italic">α</tspan>&lt;1</text>
<text x="660.8" y="231.7" font-size="11.1" text-anchor="start" fill="#1a1a1a"><tspan font-style="italic">α</tspan>&gt;1</text>
</svg>
</body></html>
